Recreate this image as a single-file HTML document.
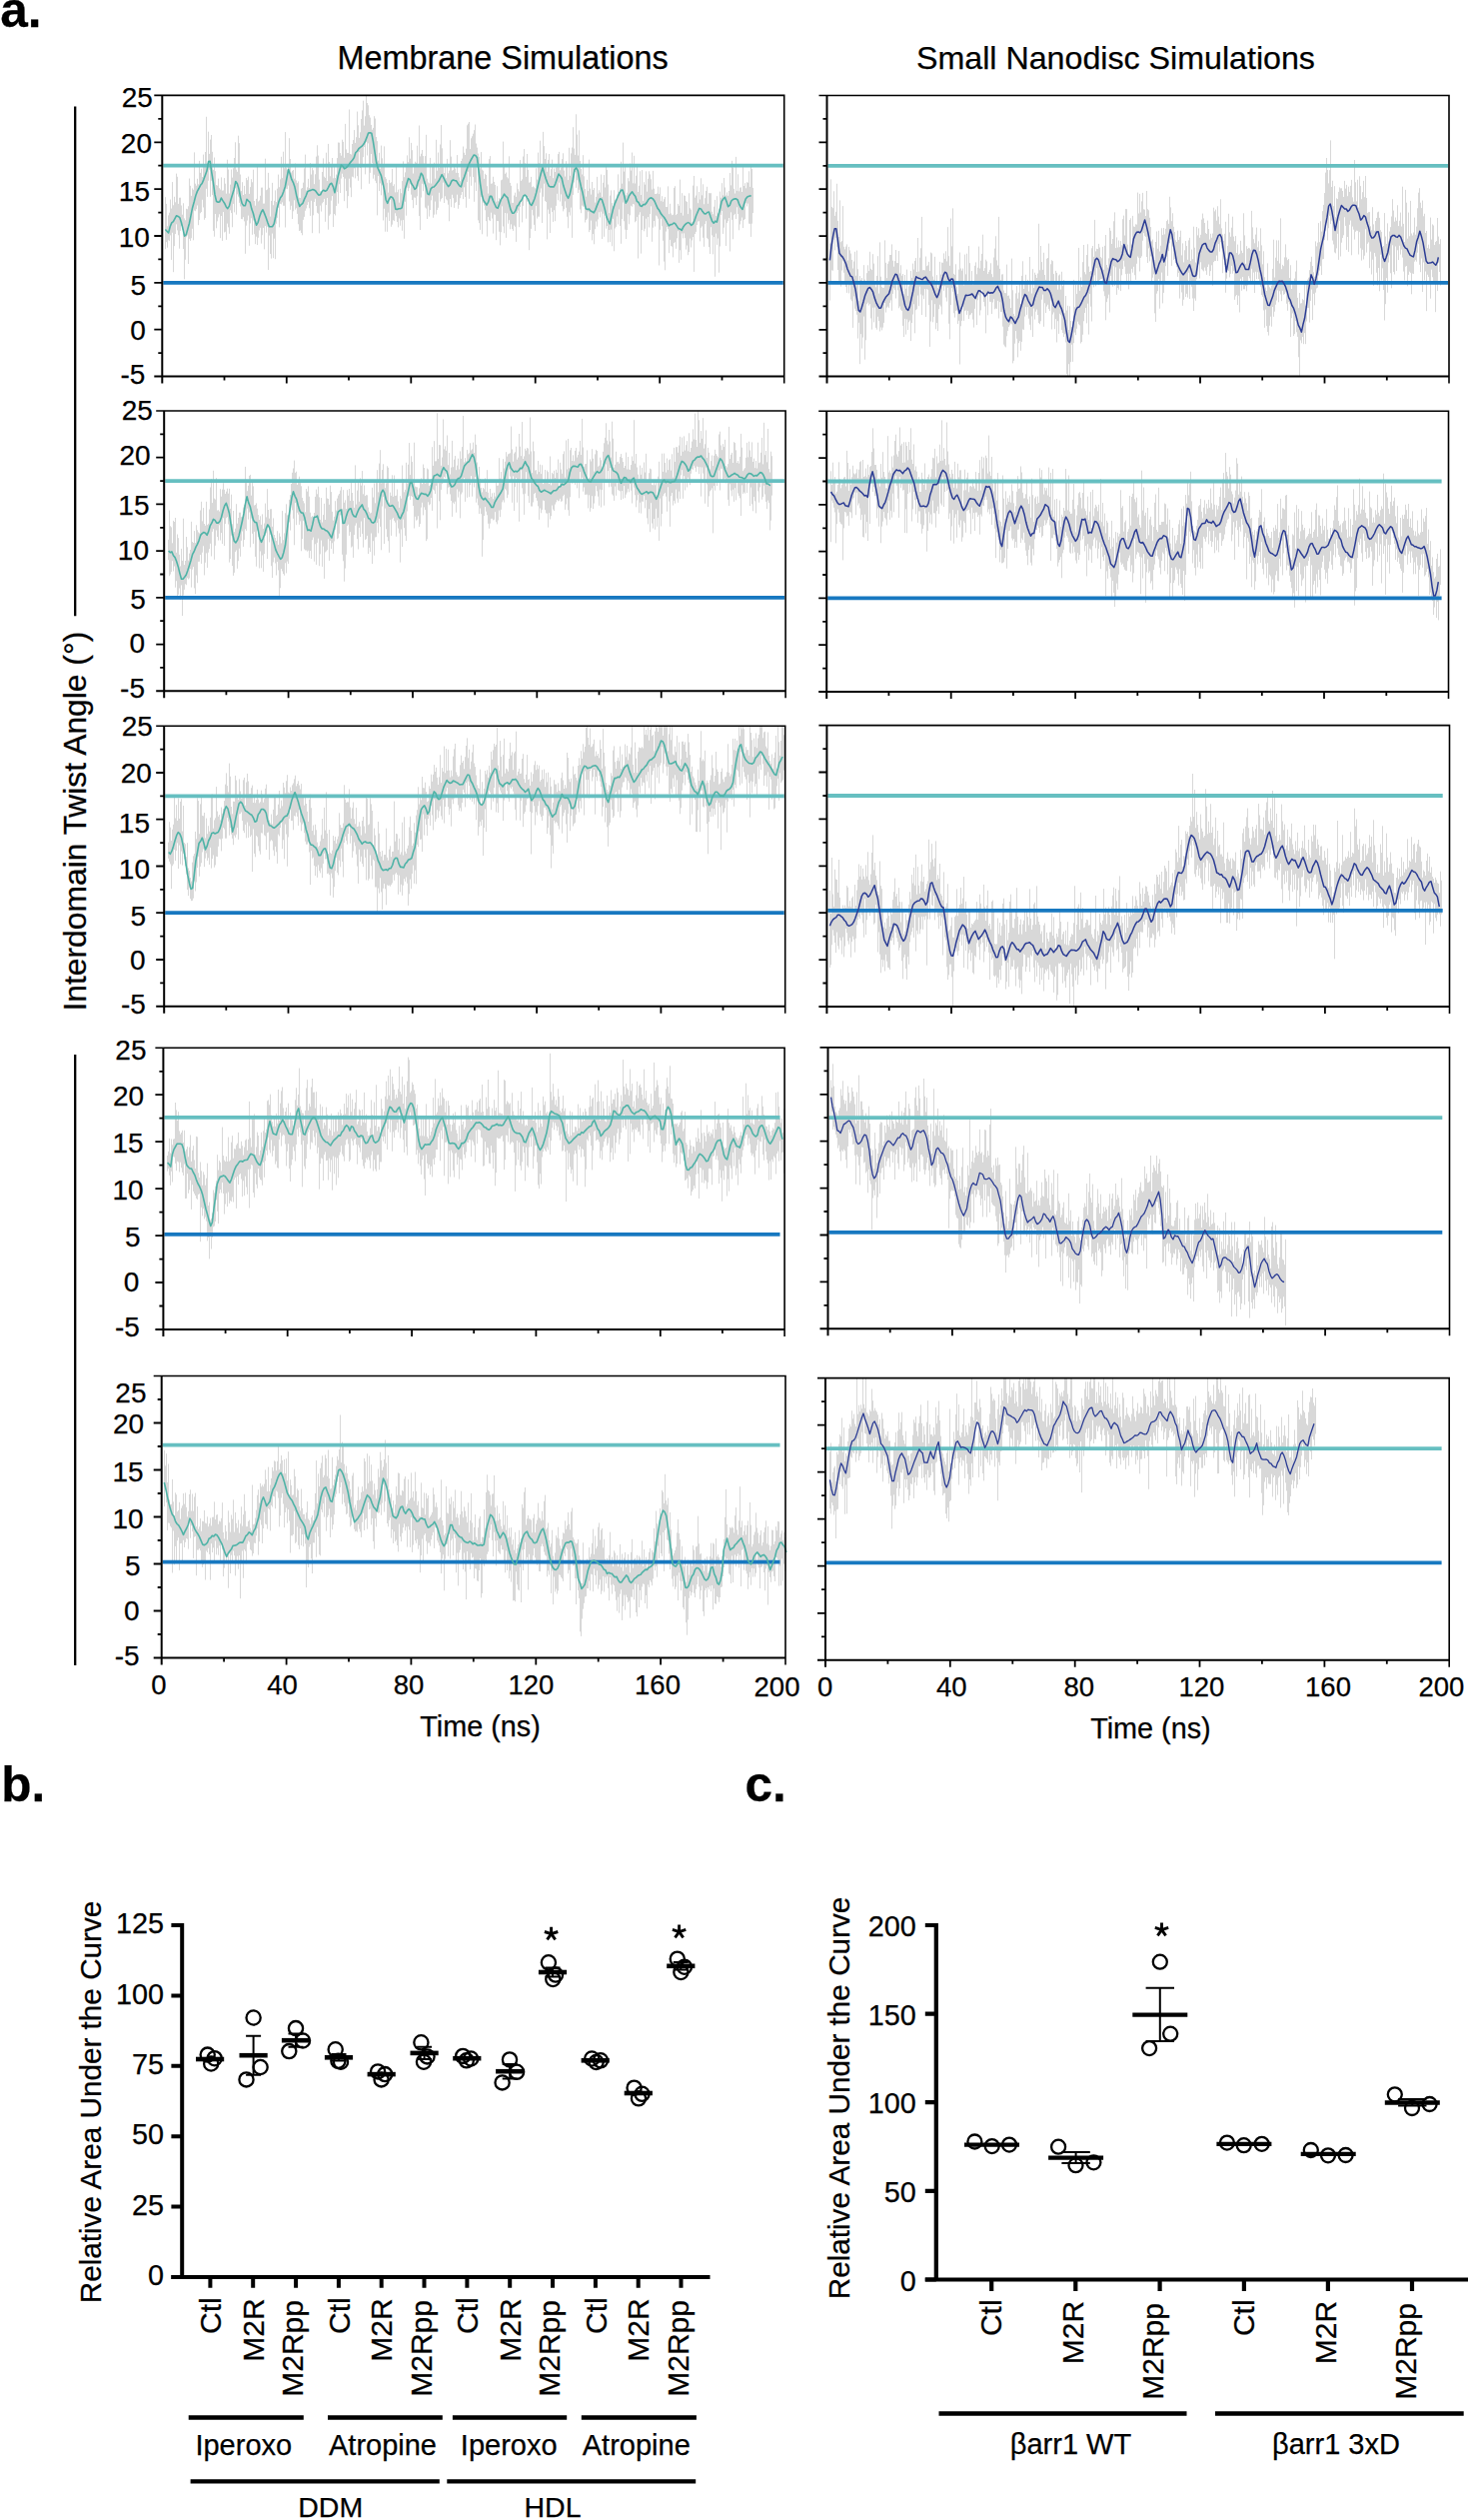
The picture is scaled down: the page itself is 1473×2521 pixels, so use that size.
<!DOCTYPE html>
<html><head><meta charset="utf-8"><style>
html,body{margin:0;padding:0;background:#fff;}
svg{display:block;}
text{font-family:"Liberation Sans",sans-serif;fill:#000;stroke:#000;stroke-width:0.25px;}
</style></head><body>
<svg xmlns="http://www.w3.org/2000/svg" width="1473" height="2521" viewBox="0 0 1473 2521">
<rect width="1473" height="2521" fill="#fff"/>
<text x="0.3" y="26.6" font-size="49.5" text-anchor="start" font-weight="bold" >a.</text>
<text x="337.5" y="69.0" font-size="32.4" text-anchor="start" >Membrane Simulations</text>
<text x="917.0" y="69.0" font-size="32.2" text-anchor="start" >Small Nanodisc Simulations</text>
<defs><clipPath id="cp0"><rect x="162.3" y="95.4" width="622.4" height="281.2"/></clipPath><clipPath id="cp1"><rect x="164.2" y="411.0" width="621.9" height="280.3"/></clipPath><clipPath id="cp2"><rect x="164.2" y="726.2" width="621.5" height="280.5"/></clipPath><clipPath id="cp3"><rect x="163.4" y="1048.3" width="621.7" height="281.7"/></clipPath><clipPath id="cp4"><rect x="161.7" y="1376.5" width="624.3" height="282.0"/></clipPath><clipPath id="cp5"><rect x="827.5" y="95.5" width="622.5" height="281.1"/></clipPath><clipPath id="cp6"><rect x="827.2" y="411.3" width="622.3" height="280.7"/></clipPath><clipPath id="cp7"><rect x="827.4" y="725.6" width="623.1" height="281.4"/></clipPath><clipPath id="cp8"><rect x="828.5" y="1047.9" width="622.0" height="281.4"/></clipPath><clipPath id="cp9"><rect x="826.0" y="1378.6" width="624.2" height="282.2"/></clipPath></defs>
<g clip-path="url(#cp0)"><path d="M165.5 197.2v52.0M166.5 203.9v38.3M167.5 226.3v21.4M168.5 215.4v24.9M169.5 212.7v28.2M170.5 199.5v35.9M171.5 208.6v51.3M172.5 182.1v50.7M173.5 205.3v66.9M174.5 196.8v49.4M175.5 202.3v31.8M176.5 173.6v50.8M177.5 176.8v53.6M178.5 203.9v31.4M179.5 197.8v50.9M180.5 197.7v33.2M181.5 205.5v20.4M182.5 214.7v15.1M183.5 203.3v45.8M184.5 218.4v60.9M185.5 220.3v39.5M186.5 208.8v28.5M187.5 209.3v26.2M188.5 206.3v57.7M189.5 178.5v60.4M190.5 185.8v55.1M191.5 195.9v42.4M192.5 188.4v40.4M193.5 189.8v50.5M194.5 152.4v58.2M195.5 183.7v27.5M196.5 185.7v23.6M197.5 178.8v26.7M198.5 184.3v40.9M199.5 160.9v59.2M200.5 172.9v40.4M201.5 168.7v43.4M202.5 177.0v22.8M203.5 154.6v52.9M204.5 167.0v52.8M205.5 152.0v66.1M206.5 116.8v72.0M207.5 163.4v33.5M208.5 131.7v49.1M209.5 153.9v15.8M210.5 139.6v57.2M211.5 135.0v45.8M212.5 151.8v43.3M213.5 169.9v61.0M214.5 157.5v79.2M215.5 171.2v42.8M216.5 185.1v43.2M217.5 185.6v35.8M218.5 178.6v38.9M219.5 188.2v26.1M220.5 189.6v48.6M221.5 177.4v38.6M222.5 190.6v50.3M223.5 190.4v21.7M224.5 178.1v54.4M225.5 183.7v48.1M226.5 193.7v46.2M227.5 159.7v63.9M228.5 169.5v57.9M229.5 193.5v40.3M230.5 184.7v25.7M231.5 169.5v43.6M232.5 177.6v49.7M233.5 168.3v35.6M234.5 158.0v54.4M235.5 142.3v46.1M236.5 169.6v45.1M237.5 171.8v22.6M238.5 135.7v61.0M239.5 143.2v59.7M240.5 174.5v32.0M241.5 191.1v28.0M242.5 182.2v37.1M243.5 195.0v22.2M244.5 185.9v35.5M245.5 194.1v59.7M246.5 178.0v47.7M247.5 180.2v40.4M248.5 176.6v39.0M249.5 193.9v51.9M250.5 187.1v36.4M251.5 179.2v39.1M252.5 182.3v52.5M253.5 169.7v50.8M254.5 201.0v33.2M255.5 205.7v38.5M256.5 198.9v37.8M257.5 165.2v79.9M258.5 201.5v36.3M259.5 200.5v30.0M260.5 195.8v32.0M261.5 187.7v55.9M262.5 187.6v47.7M263.5 203.6v24.3M264.5 203.6v45.8M265.5 158.7v67.4M266.5 190.2v42.5M267.5 189.5v37.2M268.5 172.9v97.1M269.5 187.8v47.8M270.5 216.6v37.4M271.5 200.9v57.7M272.5 182.9v50.7M273.5 205.3v52.9M274.5 200.8v37.9M275.5 190.4v68.8M276.5 202.0v21.8M277.5 188.7v29.2M278.5 174.6v33.3M279.5 187.2v40.2M280.5 179.4v24.5M281.5 156.8v47.6M282.5 178.1v24.3M283.5 151.7v54.1M284.5 168.3v37.5M285.5 132.1v95.4M286.5 167.5v21.3M287.5 169.6v19.6M288.5 164.0v21.6M289.5 138.2v63.3M290.5 159.0v50.8M291.5 172.5v33.3M292.5 170.9v48.1M293.5 170.0v41.4M294.5 178.7v21.6M295.5 163.5v46.2M296.5 180.4v27.9M297.5 183.1v30.8M298.5 181.4v42.9M299.5 197.7v33.3M300.5 198.0v32.5M301.5 188.7v44.3M302.5 188.0v47.3M303.5 182.7v37.2M304.5 168.4v48.5M305.5 154.6v56.2M306.5 190.4v18.1M307.5 187.3v17.7M308.5 178.9v23.3M309.5 188.0v20.3M310.5 163.1v52.8M311.5 174.5v26.3M312.5 168.0v65.2M313.5 170.3v45.1M314.5 184.2v17.8M315.5 174.3v24.5M316.5 156.6v49.4M317.5 145.3v67.6M318.5 155.6v58.1M319.5 179.6v53.8M320.5 191.4v14.2M321.5 193.3v18.3M322.5 172.0v31.4M323.5 158.4v43.7M324.5 176.7v22.2M325.5 177.9v43.9M326.5 152.7v52.4M327.5 181.0v17.0M328.5 143.9v85.8M329.5 161.9v53.9M330.5 176.3v38.1M331.5 166.2v34.5M332.5 158.0v38.1M333.5 178.3v48.8M334.5 166.1v47.9M335.5 178.0v37.5M336.5 174.5v31.5M337.5 158.1v34.0M338.5 142.5v61.2M339.5 142.7v41.6M340.5 153.1v39.9M341.5 155.7v22.9M342.5 139.7v34.0M343.5 141.8v35.2M344.5 157.8v43.4M345.5 123.9v54.8M346.5 149.4v41.7M347.5 152.9v55.4M348.5 152.9v43.3M349.5 109.5v69.2M350.5 154.0v33.6M351.5 154.5v42.7M352.5 144.0v32.7M353.5 140.1v37.3M354.5 130.1v38.3M355.5 142.9v35.5M356.5 137.2v28.2M357.5 111.6v64.6M358.5 125.3v55.5M359.5 137.9v14.3M360.5 132.3v35.7M361.5 119.0v70.3M362.5 110.4v55.5M363.5 100.7v56.5M364.5 125.6v21.3M365.5 116.3v58.1M366.5 89.5v52.7M367.5 103.0v52.5M368.5 105.3v38.1M369.5 115.2v68.6M370.5 117.6v55.3M371.5 124.9v29.1M372.5 129.7v33.4M373.5 127.9v50.8M374.5 116.2v58.6M375.5 118.5v62.3M376.5 137.0v46.2M377.5 141.2v74.2M378.5 160.6v15.4M379.5 152.8v38.3M380.5 168.7v14.7M381.5 145.6v49.7M382.5 158.3v26.9M383.5 166.2v54.3M384.5 146.4v62.4M385.5 177.1v54.6M386.5 178.8v38.5M387.5 182.8v49.0M388.5 192.6v20.0M389.5 180.1v40.9M390.5 183.1v16.9M391.5 182.3v44.5M392.5 168.9v55.8M393.5 186.1v34.2M394.5 184.3v36.8M395.5 192.4v20.9M396.5 165.8v50.4M397.5 192.2v29.8M398.5 189.6v37.8M399.5 202.7v15.8M400.5 188.8v37.0M401.5 193.2v27.3M402.5 181.1v49.7M403.5 161.4v58.7M404.5 177.2v61.6M405.5 172.4v29.4M406.5 165.3v50.4M407.5 155.4v32.3M408.5 162.2v28.9M409.5 137.3v51.0M410.5 158.7v25.5M411.5 142.9v51.8M412.5 150.2v49.9M413.5 173.5v34.7M414.5 166.5v31.1M415.5 161.7v36.1M416.5 162.8v42.3M417.5 145.7v50.7M418.5 166.7v19.9M419.5 125.5v90.6M420.5 156.4v73.6M421.5 153.7v43.9M422.5 150.0v33.8M423.5 156.1v35.1M424.5 163.5v20.4M425.5 156.1v51.5M426.5 134.8v73.8M427.5 178.7v40.3M428.5 182.4v23.3M429.5 183.3v33.3M430.5 157.9v52.2M431.5 183.5v16.9M432.5 167.0v28.7M433.5 164.9v52.9M434.5 162.7v52.0M435.5 178.7v22.9M436.5 139.8v74.7M437.5 170.7v39.3M438.5 152.5v55.3M439.5 167.8v25.0M440.5 144.5v57.1M441.5 125.1v74.2M442.5 148.3v49.7M443.5 167.2v15.5M444.5 173.1v29.9M445.5 166.2v30.1M446.5 178.2v21.2M447.5 158.9v41.5M448.5 173.3v31.4M449.5 170.6v50.7M450.5 140.2v58.8M451.5 156.6v50.6M452.5 170.6v24.2M453.5 169.9v28.3M454.5 164.4v43.5M455.5 168.5v34.4M456.5 172.9v29.2M457.5 155.1v39.6M458.5 173.0v35.8M459.5 177.3v27.7M460.5 181.1v17.2M461.5 161.0v34.0M462.5 158.6v33.4M463.5 146.5v52.6M464.5 152.7v34.6M465.5 155.0v42.0M466.5 148.7v59.1M467.5 125.3v56.7M468.5 123.7v48.1M469.5 122.0v76.8M470.5 149.1v27.6M471.5 138.3v47.5M472.5 136.3v31.0M473.5 133.7v43.4M474.5 130.2v71.6M475.5 124.5v58.0M476.5 143.5v47.6M477.5 147.6v15.3M478.5 153.5v66.9M479.5 156.8v66.4M480.5 168.3v61.6M481.5 152.1v45.1M482.5 169.6v64.7M483.5 170.7v32.1M484.5 178.9v26.8M485.5 173.8v36.5M486.5 175.0v46.2M487.5 186.2v50.4M488.5 193.6v23.5M489.5 159.2v61.1M490.5 156.1v65.0M491.5 183.8v28.9M492.5 183.4v35.2M493.5 176.8v56.8M494.5 181.9v32.6M495.5 184.9v30.0M496.5 201.7v38.5M497.5 186.2v34.8M498.5 201.2v20.0M499.5 198.1v33.7M500.5 199.8v45.6M501.5 180.3v52.0M502.5 179.6v26.8M503.5 141.6v84.9M504.5 164.5v68.8M505.5 173.9v39.1M506.5 172.5v65.4M507.5 177.2v36.2M508.5 178.4v45.3M509.5 156.3v63.9M510.5 182.9v46.4M511.5 185.8v38.6M512.5 202.8v26.3M513.5 202.9v28.0M514.5 195.5v30.1M515.5 192.7v34.1M516.5 196.9v45.0M517.5 183.4v29.6M518.5 189.2v21.4M519.5 191.5v35.7M520.5 160.1v47.0M521.5 180.9v21.0M522.5 179.4v43.0M523.5 156.5v49.4M524.5 149.1v46.2M525.5 163.3v31.3M526.5 176.9v41.8M527.5 154.0v47.5M528.5 169.8v27.4M529.5 182.7v67.5M530.5 182.2v56.0M531.5 176.9v52.0M532.5 187.2v22.7M533.5 186.4v29.1M534.5 187.3v37.6M535.5 188.4v42.6M536.5 168.3v37.6M537.5 179.5v39.1M538.5 152.6v64.1M539.5 163.2v53.5M540.5 140.7v52.0M541.5 165.7v22.7M542.5 165.4v57.6M543.5 131.9v64.9M544.5 146.1v37.6M545.5 159.0v42.0M546.5 153.3v48.7M547.5 171.8v67.6M548.5 159.9v49.7M549.5 154.0v59.9M550.5 175.9v57.1M551.5 169.2v38.6M552.5 159.6v52.4M553.5 178.2v43.7M554.5 168.5v41.8M555.5 172.0v49.2M556.5 167.4v38.5M557.5 166.1v27.7M558.5 154.1v46.2M559.5 151.9v30.8M560.5 170.3v31.3M561.5 167.6v26.8M562.5 159.1v47.1M563.5 153.3v58.1M564.5 170.5v38.8M565.5 176.5v24.9M566.5 161.2v46.6M567.5 165.6v51.2M568.5 180.1v48.2M569.5 147.8v64.5M570.5 175.8v39.8M571.5 153.4v54.2M572.5 147.5v90.4M573.5 127.2v67.7M574.5 148.5v34.1M575.5 154.9v17.1M576.5 114.3v73.6M577.5 134.6v45.7M578.5 155.5v37.6M579.5 130.4v59.4M580.5 160.9v48.6M581.5 169.0v44.2M582.5 174.5v31.1M583.5 155.2v51.5M584.5 176.3v30.4M585.5 189.0v33.5M586.5 196.7v23.3M587.5 179.8v38.9M588.5 191.1v20.7M589.5 159.6v72.6M590.5 188.6v41.4M591.5 194.6v26.0M592.5 182.0v58.4M593.5 190.0v44.1M594.5 188.1v56.2M595.5 202.6v26.7M596.5 196.9v24.6M597.5 176.9v49.7M598.5 193.6v25.9M599.5 190.2v22.1M600.5 192.6v24.9M601.5 174.5v37.2M602.5 196.9v42.1M603.5 182.8v30.9M604.5 175.1v61.7M605.5 187.5v28.2M606.5 166.2v62.5M607.5 169.8v56.3M608.5 184.5v57.9M609.5 213.1v17.0M610.5 195.6v46.6M611.5 190.4v39.2M612.5 203.1v43.2M613.5 205.9v13.0M614.5 190.3v61.0M615.5 199.7v28.8M616.5 201.9v25.0M617.5 194.5v21.9M618.5 174.4v50.1M619.5 192.1v17.4M620.5 188.3v37.7M621.5 161.7v82.1M622.5 183.7v35.4M623.5 142.6v59.9M624.5 171.6v49.7M625.5 164.5v65.2M626.5 195.4v43.7M627.5 192.7v37.3M628.5 178.2v36.0M629.5 181.3v43.0M630.5 163.6v51.8M631.5 170.6v35.2M632.5 152.5v54.2M633.5 183.3v20.7M634.5 155.8v48.7M635.5 183.5v38.8M636.5 175.7v45.5M637.5 166.0v51.1M638.5 192.0v66.5M639.5 185.8v29.0M640.5 171.3v41.0M641.5 195.0v58.6M642.5 170.1v60.0M643.5 200.9v15.2M644.5 182.2v49.1M645.5 184.7v44.1M646.5 171.4v47.3M647.5 191.7v45.4M648.5 178.8v38.2M649.5 171.3v56.2M650.5 174.4v39.7M651.5 179.3v27.1M652.5 189.5v52.3M653.5 170.9v56.8M654.5 188.7v32.3M655.5 194.0v32.6M656.5 194.0v21.6M657.5 193.5v23.0M658.5 186.7v32.0M659.5 194.1v71.4M660.5 187.4v42.4M661.5 201.2v17.5M662.5 196.2v30.1M663.5 201.8v39.0M664.5 199.2v62.4M665.5 197.1v73.2M666.5 207.0v24.6M667.5 207.1v20.0M668.5 186.4v42.8M669.5 214.2v39.0M670.5 203.8v36.1M671.5 213.5v32.5M672.5 215.2v31.5M673.5 214.7v42.7M674.5 187.9v55.1M675.5 186.2v56.1M676.5 215.1v33.7M677.5 213.9v24.5M678.5 203.9v27.3M679.5 205.8v57.1M680.5 179.6v70.7M681.5 212.9v46.9M682.5 193.2v40.3M683.5 215.6v22.8M684.5 195.5v37.9M685.5 195.9v42.3M686.5 201.2v48.4M687.5 202.0v43.5M688.5 214.1v41.1M689.5 193.3v58.7M690.5 208.3v30.3M691.5 209.6v37.9M692.5 222.3v18.2M693.5 185.6v51.5M694.5 176.0v95.9M695.5 197.7v36.4M696.5 195.5v36.4M697.5 186.3v38.8M698.5 203.2v18.4M699.5 192.0v29.3M700.5 199.5v41.9M701.5 178.3v49.5M702.5 195.4v31.0M703.5 184.3v53.5M704.5 204.3v42.5M705.5 198.2v25.9M706.5 190.9v30.3M707.5 186.8v51.4M708.5 203.8v35.5M709.5 193.1v54.1M710.5 193.3v60.7M711.5 193.2v34.0M712.5 211.7v23.8M713.5 214.3v40.1M714.5 206.7v30.4M715.5 199.9v76.9M716.5 215.9v17.7M717.5 196.2v48.7M718.5 213.5v25.0M719.5 208.4v64.3M720.5 191.6v54.9M721.5 197.8v17.2M722.5 183.2v27.8M723.5 195.4v38.5M724.5 178.0v49.7M725.5 187.5v32.0M726.5 195.5v50.5M727.5 192.4v30.7M728.5 195.8v25.4M729.5 191.0v27.0M730.5 173.0v78.5M731.5 185.4v27.0M732.5 160.8v59.1M733.5 167.5v71.8M734.5 188.8v26.5M735.5 193.5v20.4M736.5 156.9v62.2M737.5 190.9v16.4M738.5 174.3v39.8M739.5 191.3v39.0M740.5 187.7v36.8M741.5 187.4v33.5M742.5 192.0v25.5M743.5 167.2v60.9M744.5 186.0v34.0M745.5 183.2v35.9M746.5 188.3v14.9M747.5 182.3v24.2M748.5 182.7v20.9M749.5 171.3v52.4M750.5 186.9v37.0M751.5 165.4v71.5M752.5 169.1v54.6M753.5 187.9v25.2" fill="none" stroke="#d8d8d8" stroke-width="1"/></g>
<g clip-path="url(#cp1)"><path d="M168.5 539.9v20.3M169.5 510.5v65.7M170.5 526.3v48.3M171.5 527.4v44.7M172.5 543.3v17.9M173.5 520.9v50.6M174.5 522.0v44.5M175.5 518.0v69.7M176.5 552.8v28.4M177.5 534.5v62.7M178.5 538.2v56.6M179.5 554.8v33.7M180.5 566.4v33.4M181.5 548.9v36.5M182.5 560.9v55.2M183.5 518.7v76.9M184.5 565.1v24.8M185.5 561.0v23.3M186.5 537.0v48.2M187.5 547.3v30.9M188.5 560.6v18.9M189.5 553.6v24.9M190.5 550.0v19.2M191.5 521.8v65.8M192.5 542.0v27.7M193.5 543.0v24.1M194.5 531.1v57.3M195.5 543.1v51.2M196.5 525.3v50.2M197.5 530.3v52.9M198.5 532.4v29.5M199.5 533.4v28.4M200.5 510.5v44.5M201.5 501.8v62.1M202.5 521.4v31.3M203.5 508.1v38.2M204.5 524.0v51.4M205.5 525.8v37.0M206.5 501.8v51.6M207.5 525.1v42.8M208.5 523.8v28.9M209.5 509.5v39.7M210.5 487.5v56.3M211.5 479.3v77.2M212.5 503.1v28.8M213.5 470.8v58.4M214.5 498.6v61.2M215.5 499.6v46.2M216.5 478.1v52.4M217.5 510.6v26.4M218.5 510.2v30.4M219.5 511.6v13.7M220.5 489.2v51.3M221.5 496.7v36.3M222.5 489.6v54.5M223.5 483.2v35.1M224.5 489.8v56.3M225.5 494.0v30.1M226.5 491.7v26.6M227.5 488.7v28.5M228.5 493.7v30.8M229.5 488.8v73.8M230.5 508.9v50.2M231.5 494.7v41.0M232.5 524.3v41.8M233.5 511.0v64.9M234.5 532.2v40.7M235.5 528.7v23.5M236.5 504.2v46.3M237.5 523.7v45.1M238.5 518.0v43.3M239.5 512.7v36.0M240.5 512.7v44.1M241.5 517.2v23.7M242.5 517.2v14.3M243.5 507.5v39.4M244.5 504.8v35.3M245.5 466.9v62.4M246.5 479.7v51.2M247.5 491.2v17.5M248.5 485.8v33.8M249.5 475.9v36.6M250.5 474.9v72.6M251.5 495.7v22.9M252.5 480.8v53.1M253.5 486.4v57.5M254.5 505.5v26.4M255.5 505.0v51.9M256.5 503.4v63.3M257.5 508.7v21.9M258.5 515.1v22.3M259.5 520.1v48.4M260.5 516.3v35.2M261.5 524.9v43.4M262.5 514.4v41.1M263.5 528.9v43.0M264.5 523.5v30.7M265.5 503.6v32.5M266.5 517.4v16.0M267.5 489.2v69.8M268.5 510.0v17.6M269.5 518.7v23.8M270.5 509.3v25.6M271.5 509.2v57.0M272.5 526.8v51.3M273.5 518.4v44.1M274.5 535.0v22.7M275.5 538.1v25.4M276.5 541.1v34.4M277.5 531.2v30.9M278.5 544.9v25.5M279.5 533.4v65.4M280.5 536.7v51.6M281.5 543.4v25.6M282.5 511.1v60.4M283.5 540.2v33.9M284.5 533.4v42.3M285.5 513.3v50.0M286.5 504.3v69.1M287.5 515.4v46.2M288.5 515.2v48.8M289.5 499.9v22.6M290.5 495.1v35.5M291.5 484.0v20.9M292.5 472.8v37.6M293.5 468.5v50.3M294.5 460.6v84.7M295.5 472.9v30.2M296.5 471.7v53.5M297.5 484.9v27.9M298.5 480.4v34.3M299.5 476.7v48.2M300.5 481.0v40.4M301.5 486.3v65.0M302.5 497.9v41.3M303.5 501.2v19.7M304.5 503.4v46.0M305.5 512.3v38.2M306.5 489.1v61.4M307.5 491.7v60.0M308.5 486.4v64.3M309.5 496.7v61.5M310.5 512.7v38.4M311.5 517.2v41.8M312.5 516.1v24.2M313.5 517.3v20.3M314.5 513.0v48.7M315.5 496.9v47.4M316.5 489.6v75.3M317.5 494.3v48.6M318.5 486.7v52.0M319.5 497.4v68.8M320.5 519.9v34.5M321.5 498.1v42.5M322.5 522.5v44.4M323.5 515.1v31.5M324.5 503.8v75.1M325.5 520.0v32.5M326.5 487.7v63.8M327.5 498.5v51.8M328.5 499.0v40.3M329.5 504.8v56.1M330.5 485.7v55.2M331.5 492.1v57.0M332.5 511.8v31.5M333.5 520.7v33.2M334.5 516.8v24.7M335.5 501.2v28.9M336.5 510.6v12.7M337.5 498.6v40.7M338.5 495.6v42.8M339.5 494.1v39.7M340.5 490.6v24.8M341.5 487.1v28.0M342.5 508.9v45.9M343.5 490.2v71.1M344.5 502.8v78.9M345.5 500.3v68.3M346.5 509.0v45.8M347.5 490.2v35.8M348.5 495.8v28.9M349.5 489.0v46.9M350.5 501.0v31.2M351.5 481.4v66.2M352.5 493.0v53.6M353.5 500.9v57.0M354.5 507.9v27.2M355.5 465.4v60.4M356.5 504.6v18.8M357.5 490.6v48.6M358.5 481.7v67.8M359.5 501.8v26.1M360.5 478.3v58.8M361.5 485.7v35.8M362.5 471.1v63.0M363.5 494.3v53.3M364.5 485.5v32.6M365.5 496.1v43.9M366.5 495.2v44.1M367.5 495.3v40.6M368.5 507.5v46.6M369.5 511.8v36.1M370.5 513.5v38.6M371.5 512.8v20.7M372.5 487.8v76.2M373.5 497.5v43.7M374.5 483.4v72.3M375.5 503.3v34.2M376.5 482.7v54.5M377.5 470.2v52.9M378.5 492.4v41.0M379.5 463.6v55.2M380.5 450.2v76.7M381.5 483.3v67.0M382.5 470.1v36.5M383.5 464.3v32.7M384.5 482.6v61.5M385.5 488.2v20.4M386.5 483.3v46.0M387.5 466.3v70.9M388.5 467.8v73.5M389.5 502.7v50.1M390.5 492.6v27.3M391.5 495.9v40.0M392.5 475.3v44.1M393.5 496.8v21.1M394.5 475.5v45.4M395.5 496.0v26.7M396.5 495.7v41.1M397.5 489.5v30.9M398.5 501.5v27.1M399.5 507.8v25.7M400.5 496.2v66.4M401.5 498.7v30.8M402.5 465.5v81.5M403.5 479.4v40.2M404.5 492.3v35.9M405.5 489.9v46.0M406.5 462.8v78.2M407.5 483.5v28.0M408.5 464.7v32.3M409.5 443.1v52.7M410.5 475.1v25.0M411.5 456.3v39.9M412.5 461.9v35.2M413.5 479.5v26.5M414.5 442.7v85.8M415.5 486.6v30.2M416.5 487.2v33.5M417.5 487.4v32.4M418.5 494.8v21.5M419.5 488.4v38.6M420.5 480.0v44.2M421.5 478.4v29.3M422.5 484.2v18.6M423.5 464.5v50.9M424.5 468.0v39.4M425.5 483.5v26.5M426.5 482.8v58.4M427.5 468.6v70.8M428.5 469.5v32.8M429.5 486.0v19.3M430.5 484.9v19.5M431.5 479.2v18.9M432.5 447.2v63.7M433.5 465.9v23.8M434.5 441.2v49.4M435.5 461.4v32.6M436.5 461.3v24.5M437.5 413.3v115.2M438.5 459.1v24.3M439.5 445.0v56.4M440.5 445.3v75.0M441.5 465.8v24.1M442.5 457.5v26.5M443.5 419.5v60.0M444.5 449.4v27.6M445.5 446.4v31.9M446.5 450.8v23.0M447.5 435.5v58.8M448.5 465.2v22.6M449.5 453.1v34.1M450.5 474.5v20.0M451.5 467.6v33.4M452.5 440.9v76.0M453.5 467.2v35.5M454.5 459.7v44.5M455.5 456.1v45.6M456.5 470.2v42.5M457.5 465.6v23.8M458.5 458.7v38.9M459.5 469.5v22.2M460.5 451.4v67.0M461.5 458.9v35.6M462.5 447.1v45.5M463.5 416.0v66.6M464.5 462.4v15.7M465.5 458.2v43.7M466.5 461.5v19.8M467.5 450.1v47.7M468.5 454.3v27.7M469.5 453.2v44.0M470.5 443.3v41.9M471.5 450.4v25.8M472.5 449.3v47.4M473.5 442.6v39.3M474.5 453.0v34.5M475.5 434.6v42.6M476.5 444.8v57.9M477.5 462.5v36.1M478.5 478.6v26.8M479.5 466.9v47.1M480.5 478.9v29.6M481.5 487.9v26.3M482.5 492.4v64.4M483.5 488.0v52.1M484.5 489.3v26.8M485.5 478.4v28.7M486.5 491.9v19.8M487.5 470.2v45.1M488.5 492.7v31.1M489.5 498.1v30.6M490.5 489.0v34.7M491.5 496.9v22.0M492.5 493.3v25.5M493.5 499.2v21.2M494.5 492.8v27.0M495.5 496.6v15.6M496.5 482.8v39.5M497.5 485.8v38.6M498.5 485.6v34.9M499.5 458.2v52.4M500.5 478.5v38.7M501.5 472.1v37.7M502.5 483.2v19.2M503.5 459.2v41.2M504.5 468.5v34.1M505.5 461.7v27.5M506.5 452.2v38.3M507.5 456.6v41.6M508.5 454.3v40.5M509.5 453.8v15.8M510.5 453.3v23.3M511.5 426.6v53.5M512.5 449.4v53.4M513.5 461.7v14.7M514.5 453.6v57.5M515.5 452.3v34.9M516.5 446.7v31.4M517.5 459.7v43.0M518.5 457.6v25.1M519.5 434.0v87.7M520.5 446.7v32.1M521.5 456.2v14.2M522.5 422.1v66.3M523.5 459.0v35.4M524.5 456.4v58.5M525.5 448.8v45.0M526.5 450.7v21.5M527.5 448.1v32.1M528.5 448.6v47.6M529.5 454.4v48.6M530.5 417.5v63.5M531.5 451.5v55.0M532.5 473.1v33.5M533.5 441.7v60.8M534.5 451.3v42.8M535.5 470.6v22.5M536.5 470.2v28.0M537.5 474.4v26.5M538.5 461.0v45.4M539.5 472.1v47.8M540.5 464.7v43.8M541.5 474.1v39.2M542.5 465.3v44.6M543.5 484.2v16.4M544.5 480.3v20.7M545.5 470.0v40.2M546.5 482.2v31.2M547.5 470.6v43.1M548.5 472.2v55.4M549.5 484.1v29.1M550.5 456.5v63.0M551.5 485.4v30.9M552.5 472.9v32.7M553.5 474.2v35.5M554.5 470.8v40.2M555.5 478.0v26.6M556.5 469.8v32.6M557.5 472.9v27.2M558.5 459.5v41.8M559.5 486.0v14.8M560.5 462.8v36.1M561.5 469.5v32.3M562.5 473.8v27.5M563.5 454.2v42.1M564.5 451.4v43.4M565.5 477.6v32.3M566.5 440.5v64.0M567.5 469.5v29.0M568.5 439.0v71.3M569.5 468.3v47.6M570.5 450.3v47.0M571.5 448.0v32.3M572.5 461.0v22.7M573.5 455.3v24.8M574.5 461.3v20.6M575.5 450.9v34.0M576.5 448.1v31.5M577.5 457.6v30.8M578.5 455.1v24.7M579.5 451.6v46.7M580.5 440.9v31.1M581.5 455.0v24.7M582.5 418.9v58.9M583.5 447.5v44.2M584.5 466.8v20.7M585.5 464.2v30.7M586.5 464.0v30.7M587.5 450.4v44.3M588.5 479.5v28.9M589.5 477.8v17.5M590.5 459.4v52.4M591.5 461.5v46.7M592.5 449.2v47.0M593.5 458.7v50.4M594.5 471.6v32.0M595.5 454.4v41.9M596.5 449.9v36.3M597.5 451.0v40.4M598.5 466.7v30.0M599.5 465.7v40.1M600.5 457.7v31.9M601.5 460.3v47.2M602.5 468.9v21.1M603.5 451.8v28.3M604.5 443.3v62.4M605.5 437.8v43.6M606.5 423.3v41.2M607.5 440.7v39.1M608.5 444.5v26.6M609.5 430.0v57.3M610.5 441.5v26.6M611.5 457.6v29.2M612.5 421.7v72.8M613.5 438.7v57.0M614.5 467.7v33.2M615.5 464.7v21.9M616.5 451.8v44.0M617.5 462.3v18.7M618.5 461.8v28.4M619.5 463.7v27.1M620.5 457.1v34.3M621.5 454.1v46.0M622.5 458.1v33.0M623.5 462.1v36.8M624.5 468.0v18.0M625.5 466.0v32.2M626.5 452.6v42.1M627.5 469.5v23.1M628.5 457.0v31.9M629.5 469.5v22.8M630.5 470.0v13.9M631.5 465.1v25.6M632.5 456.5v47.0M633.5 461.1v22.6M634.5 420.2v67.5M635.5 463.7v31.6M636.5 454.0v53.3M637.5 467.5v33.0M638.5 474.6v20.2M639.5 479.1v34.1M640.5 465.6v37.1M641.5 474.8v38.8M642.5 467.9v33.7M643.5 478.9v23.0M644.5 462.5v33.3M645.5 472.6v35.8M646.5 453.8v46.4M647.5 480.1v38.3M648.5 481.3v43.1M649.5 473.2v36.0M650.5 468.7v63.5M651.5 469.4v33.8M652.5 485.0v38.6M653.5 485.3v43.3M654.5 482.5v36.5M655.5 485.3v44.4M656.5 482.0v26.8M657.5 495.1v31.7M658.5 476.7v41.2M659.5 461.8v79.1M660.5 482.6v16.0M661.5 480.9v45.6M662.5 453.7v60.3M663.5 471.9v24.4M664.5 453.6v40.7M665.5 462.9v30.1M666.5 472.6v24.1M667.5 458.5v53.2M668.5 470.2v17.1M669.5 460.2v41.5M670.5 459.3v67.5M671.5 470.7v25.5M672.5 454.3v38.8M673.5 477.6v28.0M674.5 447.9v53.0M675.5 461.9v41.8M676.5 447.3v42.3M677.5 447.2v51.5M678.5 452.8v50.0M679.5 445.6v46.0M680.5 436.8v62.2M681.5 455.9v19.5M682.5 437.6v32.6M683.5 451.8v47.0M684.5 436.4v39.8M685.5 450.6v39.9M686.5 445.2v34.5M687.5 441.2v46.3M688.5 451.3v26.4M689.5 433.3v48.7M690.5 452.1v33.1M691.5 448.0v25.8M692.5 441.6v27.6M693.5 429.4v40.4M694.5 439.6v26.2M695.5 413.6v54.3M696.5 440.1v31.8M697.5 447.0v19.6M698.5 408.8v58.2M699.5 420.3v53.9M700.5 443.1v24.2M701.5 431.1v65.5M702.5 438.8v28.7M703.5 418.2v55.4M704.5 448.6v31.2M705.5 444.3v59.4M706.5 430.4v37.2M707.5 458.0v26.5M708.5 447.9v59.2M709.5 452.8v43.6M710.5 469.4v22.0M711.5 461.2v29.1M712.5 455.5v32.9M713.5 466.1v67.3M714.5 455.8v30.3M715.5 449.8v40.9M716.5 454.1v27.3M717.5 455.7v30.3M718.5 457.4v24.4M719.5 434.5v36.1M720.5 431.7v58.8M721.5 445.5v23.3M722.5 450.2v18.7M723.5 444.2v37.2M724.5 447.1v32.6M725.5 439.8v38.8M726.5 466.0v17.5M727.5 467.5v14.8M728.5 464.2v35.7M729.5 426.9v79.1M730.5 459.1v25.2M731.5 454.8v35.8M732.5 452.9v43.5M733.5 463.0v26.7M734.5 442.2v59.7M735.5 443.1v45.1M736.5 450.4v50.0M737.5 463.0v18.4M738.5 461.1v32.4M739.5 463.6v32.4M740.5 456.9v41.5M741.5 433.9v82.1M742.5 447.7v37.7M743.5 471.2v22.9M744.5 469.5v23.0M745.5 468.2v25.5M746.5 457.8v22.5M747.5 442.9v50.2M748.5 457.4v26.3M749.5 441.7v37.8M750.5 450.5v55.6M751.5 457.1v30.5M752.5 442.4v62.0M753.5 462.0v49.3M754.5 458.6v38.5M755.5 468.2v33.2M756.5 461.0v52.4M757.5 468.5v13.8M758.5 442.7v48.7M759.5 463.2v39.5M760.5 462.5v25.0M761.5 452.8v29.0M762.5 437.9v61.8M763.5 464.4v32.6M764.5 422.8v62.9M765.5 455.2v39.3M766.5 451.0v50.9M767.5 462.4v46.8M768.5 429.0v71.6M769.5 469.2v34.0M770.5 472.5v57.9M771.5 451.7v69.0M772.5 456.2v39.5" fill="none" stroke="#d8d8d8" stroke-width="1"/></g>
<g clip-path="url(#cp2)"><path d="M168.5 842.6v16.2M169.5 822.2v39.7M170.5 827.7v36.7M171.5 841.0v48.2M172.5 829.7v36.6M173.5 824.8v39.7M174.5 796.1v53.9M175.5 818.5v42.6M176.5 805.2v45.8M177.5 821.0v22.4M178.5 798.5v70.5M179.5 818.9v26.7M180.5 801.9v62.6M181.5 799.2v52.4M182.5 831.5v34.1M183.5 806.0v47.9M184.5 843.0v16.5M185.5 844.3v22.0M186.5 857.2v17.6M187.5 843.2v46.8M188.5 868.4v27.7M189.5 871.1v17.4M190.5 878.0v21.2M191.5 881.6v19.6M192.5 862.6v38.3M193.5 856.3v42.4M194.5 854.0v27.6M195.5 831.9v59.6M196.5 839.3v43.2M197.5 798.4v69.8M198.5 801.1v55.7M199.5 834.2v42.5M200.5 804.4v62.5M201.5 796.9v66.4M202.5 815.9v36.6M203.5 816.3v33.1M204.5 813.0v54.2M205.5 838.4v20.3M206.5 818.6v34.9M207.5 834.2v26.7M208.5 826.2v32.1M209.5 831.7v33.3M210.5 817.8v30.1M211.5 794.8v73.8M212.5 794.6v64.6M213.5 828.7v26.8M214.5 820.4v47.3M215.5 818.3v47.2M216.5 787.1v69.7M217.5 811.6v45.5M218.5 816.8v30.0M219.5 815.0v24.2M220.5 820.4v19.1M221.5 807.6v43.8M222.5 813.7v25.2M223.5 809.0v19.0M224.5 801.1v28.4M225.5 784.6v54.1M226.5 773.4v65.3M227.5 786.1v32.0M228.5 792.4v29.4M229.5 763.6v72.1M230.5 776.7v51.3M231.5 807.0v27.7M232.5 814.3v24.5M233.5 801.7v43.5M234.5 801.9v33.9M235.5 775.9v61.9M236.5 780.5v54.3M237.5 796.7v31.3M238.5 800.0v39.8M239.5 779.4v35.1M240.5 791.5v22.6M241.5 798.8v13.7M242.5 798.4v22.7M243.5 780.3v50.7M244.5 777.9v55.3M245.5 805.7v19.2M246.5 782.5v55.9M247.5 773.9v48.7M248.5 781.5v56.6M249.5 794.3v32.1M250.5 793.9v43.2M251.5 788.2v47.3M252.5 785.6v86.5M253.5 803.0v26.5M254.5 797.7v56.2M255.5 803.2v54.1M256.5 800.1v36.0M257.5 789.8v47.5M258.5 799.5v46.9M259.5 803.4v48.0M260.5 802.2v52.5M261.5 790.6v42.7M262.5 794.6v39.0M263.5 802.7v22.1M264.5 799.2v36.3M265.5 788.8v47.6M266.5 784.7v65.4M267.5 796.3v36.9M268.5 797.6v35.0M269.5 820.4v39.6M270.5 823.4v18.2M271.5 814.5v25.7M272.5 824.4v16.9M273.5 809.9v40.7M274.5 796.2v60.0M275.5 795.5v51.4M276.5 816.0v36.3M277.5 814.9v49.0M278.5 804.7v30.0M279.5 791.0v45.4M280.5 808.6v19.5M281.5 800.6v22.6M282.5 806.4v42.8M283.5 783.0v57.3M284.5 787.7v71.6M285.5 793.4v31.2M286.5 781.3v53.3M287.5 775.2v91.5M288.5 792.5v45.0M289.5 793.3v25.9M290.5 787.5v22.0M291.5 791.0v30.0M292.5 785.4v35.6M293.5 783.5v46.8M294.5 779.4v36.8M295.5 775.7v41.0M296.5 786.4v26.4M297.5 784.0v32.9M298.5 781.3v44.6M299.5 785.5v24.7M300.5 789.5v33.1M301.5 784.1v47.2M302.5 797.4v27.3M303.5 797.6v25.8M304.5 805.7v27.5M305.5 795.5v46.2M306.5 804.0v40.7M307.5 811.8v32.9M308.5 821.9v20.5M309.5 799.7v52.8M310.5 794.8v90.3M311.5 808.2v42.8M312.5 831.1v27.6M313.5 825.5v32.2M314.5 835.3v30.7M315.5 824.8v51.2M316.5 830.3v36.6M317.5 842.6v35.2M318.5 847.3v18.1M319.5 846.1v25.1M320.5 841.5v31.9M321.5 835.3v33.2M322.5 819.1v59.1M323.5 839.0v25.0M324.5 807.9v45.9M325.5 830.6v28.9M326.5 792.4v66.8M327.5 833.8v40.4M328.5 854.2v19.4M329.5 830.1v45.1M330.5 852.9v42.9M331.5 854.0v19.7M332.5 850.6v28.0M333.5 836.1v61.8M334.5 841.1v46.2M335.5 837.1v34.2M336.5 843.8v14.2M337.5 839.5v33.5M338.5 836.6v38.8M339.5 813.3v47.4M340.5 825.2v42.1M341.5 827.9v20.9M342.5 828.1v33.9M343.5 823.5v54.0M344.5 785.3v57.9M345.5 799.6v37.2M346.5 802.9v38.1M347.5 802.3v42.4M348.5 802.4v31.8M349.5 789.4v37.8M350.5 807.5v36.2M351.5 818.8v17.4M352.5 808.4v49.5M353.5 802.5v49.1M354.5 819.3v23.3M355.5 824.3v22.1M356.5 808.1v46.6M357.5 827.0v39.6M358.5 826.6v57.3M359.5 822.3v27.5M360.5 826.7v35.2M361.5 835.5v21.3M362.5 821.0v43.1M363.5 817.1v50.1M364.5 826.5v23.3M365.5 833.6v24.3M366.5 796.6v83.8M367.5 798.8v50.8M368.5 825.3v55.4M369.5 824.4v54.5M370.5 798.4v57.1M371.5 804.4v61.8M372.5 811.0v68.5M373.5 845.0v14.9M374.5 828.6v32.7M375.5 835.5v52.0M376.5 850.5v37.0M377.5 856.2v58.6M378.5 821.9v66.7M379.5 833.7v59.9M380.5 852.0v26.3M381.5 856.7v35.7M382.5 851.1v58.8M383.5 860.7v28.1M384.5 855.1v28.9M385.5 855.0v34.3M386.5 828.7v76.6M387.5 857.8v27.6M388.5 860.6v25.5M389.5 849.6v36.0M390.5 846.3v40.4M391.5 857.2v28.0M392.5 851.9v31.6M393.5 851.8v23.4M394.5 801.6v79.2M395.5 841.7v32.8M396.5 833.9v39.3M397.5 834.4v40.7M398.5 850.2v44.6M399.5 838.8v36.9M400.5 854.7v37.7M401.5 852.4v32.4M402.5 822.7v73.2M403.5 855.5v30.3M404.5 817.3v61.9M405.5 851.7v30.2M406.5 853.8v23.7M407.5 848.8v34.9M408.5 845.8v60.1M409.5 827.5v66.9M410.5 816.7v62.9M411.5 831.0v58.2M412.5 846.1v27.9M413.5 843.6v22.0M414.5 823.3v60.5M415.5 832.8v37.8M416.5 815.6v68.8M417.5 810.2v34.8M418.5 787.3v59.9M419.5 804.5v27.0M420.5 795.0v44.9M421.5 800.3v39.3M422.5 777.0v75.1M423.5 788.1v26.5M424.5 788.4v47.2M425.5 782.7v36.6M426.5 792.0v33.0M427.5 802.1v33.9M428.5 801.3v17.9M429.5 786.4v29.3M430.5 789.0v36.9M431.5 774.7v31.2M432.5 781.8v33.7M433.5 774.8v55.6M434.5 765.1v34.5M435.5 772.0v50.1M436.5 767.8v51.7M437.5 777.8v32.5M438.5 785.0v33.2M439.5 777.3v34.2M440.5 755.2v51.3M441.5 783.1v33.3M442.5 768.1v51.7M443.5 771.8v28.1M444.5 746.5v77.1M445.5 773.3v33.8M446.5 749.1v42.6M447.5 770.9v17.2M448.5 749.8v57.4M449.5 770.6v44.6M450.5 777.5v31.5M451.5 770.6v56.1M452.5 776.5v23.3M453.5 756.7v47.6M454.5 749.4v49.2M455.5 743.9v51.4M456.5 772.4v17.0M457.5 775.3v21.2M458.5 777.1v28.3M459.5 776.4v34.7M460.5 765.3v43.0M461.5 755.7v55.9M462.5 763.0v40.0M463.5 761.1v28.8M464.5 769.3v23.6M465.5 757.2v50.2M466.5 746.0v37.2M467.5 738.4v60.4M468.5 758.3v23.3M469.5 749.7v36.4M470.5 769.4v30.6M471.5 761.7v34.1M472.5 752.6v49.5M473.5 744.8v53.7M474.5 763.5v41.1M475.5 767.1v27.8M476.5 775.5v44.7M477.5 785.3v16.2M478.5 788.2v47.6M479.5 788.9v38.4M480.5 769.6v52.3M481.5 805.2v20.8M482.5 782.2v37.9M483.5 801.7v54.3M484.5 788.8v39.3M485.5 771.0v38.4M486.5 774.5v57.6M487.5 770.3v26.5M488.5 777.8v17.9M489.5 765.9v24.9M490.5 772.8v20.0M491.5 751.9v58.3M492.5 759.8v34.7M493.5 750.4v51.4M494.5 743.9v44.2M495.5 746.9v27.3M496.5 744.9v67.6M497.5 727.7v75.8M498.5 765.6v47.4M499.5 770.7v16.8M500.5 741.1v49.6M501.5 756.9v36.2M502.5 776.7v19.3M503.5 755.2v65.9M504.5 738.8v61.9M505.5 773.6v23.7M506.5 768.8v15.3M507.5 769.5v21.7M508.5 771.7v26.7M509.5 759.0v43.0M510.5 742.9v44.7M511.5 755.7v33.3M512.5 752.4v34.8M513.5 770.2v21.5M514.5 753.4v41.2M515.5 751.7v58.2M516.5 731.7v88.9M517.5 775.6v19.7M518.5 771.9v26.0M519.5 769.0v29.1M520.5 774.0v46.7M521.5 773.6v27.4M522.5 759.0v37.2M523.5 754.2v73.0M524.5 779.3v34.9M525.5 783.0v29.3M526.5 774.9v30.7M527.5 755.1v44.3M528.5 780.0v18.8M529.5 779.3v16.8M530.5 785.9v26.2M531.5 772.5v82.0M532.5 781.8v31.5M533.5 774.2v27.9M534.5 765.3v41.0M535.5 761.3v64.2M536.5 770.2v42.2M537.5 765.1v50.5M538.5 769.3v37.1M539.5 765.7v35.7M540.5 781.7v32.9M541.5 780.0v37.0M542.5 770.2v50.9M543.5 779.3v36.7M544.5 769.6v38.3M545.5 787.2v20.6M546.5 773.2v37.0M547.5 782.4v51.7M548.5 772.7v55.5M549.5 794.4v22.0M550.5 777.6v57.9M551.5 786.7v81.8M552.5 809.6v36.4M553.5 802.8v51.1M554.5 780.2v40.7M555.5 784.5v39.1M556.5 784.6v37.6M557.5 792.3v31.0M558.5 783.4v42.8M559.5 790.8v38.8M560.5 791.4v15.7M561.5 778.3v26.9M562.5 772.8v60.9M563.5 780.5v35.9M564.5 789.0v24.0M565.5 785.2v25.0M566.5 788.4v36.1M567.5 752.9v90.0M568.5 758.0v56.1M569.5 779.4v25.0M570.5 782.2v49.0M571.5 778.7v37.6M572.5 795.2v14.2M573.5 766.6v59.9M574.5 774.8v49.4M575.5 774.0v49.0M576.5 777.9v37.0M577.5 780.6v18.1M578.5 766.0v42.7M579.5 758.3v54.2M580.5 765.2v36.1M581.5 751.2v57.5M582.5 758.9v13.8M583.5 744.3v51.8M584.5 752.4v63.2M585.5 746.9v24.6M586.5 727.9v52.1M587.5 722.4v75.2M588.5 737.9v42.2M589.5 745.1v53.3M590.5 728.7v42.5M591.5 747.4v21.1M592.5 746.6v34.9M593.5 744.3v33.1M594.5 739.8v30.3M595.5 756.5v58.2M596.5 751.6v25.4M597.5 756.0v25.3M598.5 754.0v13.9M599.5 758.3v18.0M600.5 740.3v41.3M601.5 749.0v38.0M602.5 768.8v47.8M603.5 729.1v78.1M604.5 752.9v42.1M605.5 766.5v56.1M606.5 783.1v24.9M607.5 789.9v37.5M608.5 792.2v54.6M609.5 785.2v40.4M610.5 786.1v36.8M611.5 773.3v27.0M612.5 776.2v33.7M613.5 750.6v67.5M614.5 746.4v70.1M615.5 762.2v31.4M616.5 769.1v22.9M617.5 761.1v37.2M618.5 757.8v54.4M619.5 761.4v28.7M620.5 746.6v71.1M621.5 769.0v42.4M622.5 754.6v33.0M623.5 766.9v15.8M624.5 765.3v16.9M625.5 744.5v33.1M626.5 757.3v21.2M627.5 746.0v44.2M628.5 760.4v20.8M629.5 753.6v29.8M630.5 754.5v41.9M631.5 747.6v41.8M632.5 726.3v67.4M633.5 764.9v43.2M634.5 773.0v30.1M635.5 742.6v59.0M636.5 758.6v51.1M637.5 773.0v44.5M638.5 751.9v53.8M639.5 747.6v39.1M640.5 748.2v45.4M641.5 748.4v29.8M642.5 747.2v39.0M643.5 748.5v34.1M644.5 713.9v69.2M645.5 734.9v59.6M646.5 730.0v45.3M647.5 735.3v46.3M648.5 725.6v46.6M649.5 740.7v47.7M650.5 730.0v36.2M651.5 720.6v83.5M652.5 736.2v39.1M653.5 735.1v36.3M654.5 751.4v16.7M655.5 731.6v67.9M656.5 711.2v52.7M657.5 727.7v50.3M658.5 732.1v35.3M659.5 703.9v79.7M660.5 719.5v46.2M661.5 723.1v40.3M662.5 725.0v22.2M663.5 735.9v37.6M664.5 723.7v40.8M665.5 706.1v47.7M666.5 701.3v65.5M667.5 726.8v49.3M668.5 751.4v15.8M669.5 734.4v60.0M670.5 726.7v75.4M671.5 740.3v48.9M672.5 724.6v68.8M673.5 754.5v24.1M674.5 755.4v31.8M675.5 746.7v28.6M676.5 752.3v43.0M677.5 736.1v44.3M678.5 764.7v32.5M679.5 742.5v58.3M680.5 765.8v48.5M681.5 759.4v48.9M682.5 741.8v48.9M683.5 741.7v41.8M684.5 744.9v30.1M685.5 742.4v43.1M686.5 751.9v20.4M687.5 757.9v15.0M688.5 734.1v45.8M689.5 742.5v40.8M690.5 755.2v70.1M691.5 772.0v23.2M692.5 766.8v47.8M693.5 776.6v21.3M694.5 778.4v17.7M695.5 782.6v17.5M696.5 785.4v46.6M697.5 789.2v43.0M698.5 769.7v40.8M699.5 781.0v17.2M700.5 757.8v74.4M701.5 731.3v59.6M702.5 761.3v29.4M703.5 759.5v47.4M704.5 761.3v46.3M705.5 750.8v48.4M706.5 783.5v23.0M707.5 780.7v43.4M708.5 782.9v71.4M709.5 797.9v24.3M710.5 780.3v31.8M711.5 775.5v41.5M712.5 755.4v53.2M713.5 768.3v48.5M714.5 782.1v27.0M715.5 776.0v38.9M716.5 752.0v51.0M717.5 769.6v31.0M718.5 772.0v56.7M719.5 784.6v18.5M720.5 783.7v23.7M721.5 772.0v78.2M722.5 768.6v37.2M723.5 779.5v34.2M724.5 782.3v30.1M725.5 777.4v31.1M726.5 776.8v23.4M727.5 772.4v60.3M728.5 744.3v57.5M729.5 772.9v22.5M730.5 776.5v22.4M731.5 774.4v20.9M732.5 765.0v35.2M733.5 738.9v51.0M734.5 750.3v56.5M735.5 738.9v46.2M736.5 750.9v37.5M737.5 740.7v29.2M738.5 749.1v22.4M739.5 726.2v51.1M740.5 736.3v49.2M741.5 717.2v34.8M742.5 729.5v54.2M743.5 698.7v68.4M744.5 729.4v43.1M745.5 753.5v23.6M746.5 747.2v32.4M747.5 750.4v49.5M748.5 750.1v24.9M749.5 755.8v27.5M750.5 724.6v93.0M751.5 733.0v48.5M752.5 740.4v53.1M753.5 757.2v24.8M754.5 738.6v35.2M755.5 747.2v39.6M756.5 733.4v50.7M757.5 748.2v47.2M758.5 738.5v28.2M759.5 734.9v44.5M760.5 705.6v59.6M761.5 717.6v52.6M762.5 724.1v31.9M763.5 738.3v26.1M764.5 732.5v53.5M765.5 731.8v44.3M766.5 746.6v28.9M767.5 748.5v38.4M768.5 732.5v39.9M769.5 756.0v53.9M770.5 761.2v15.8M771.5 764.1v15.6M772.5 754.5v45.3M773.5 768.9v26.1M774.5 758.1v51.5M775.5 752.6v55.9M776.5 736.0v60.3M777.5 769.4v17.0M778.5 726.6v52.3M779.5 742.3v58.6M780.5 755.9v17.5M781.5 741.0v42.1M782.5 720.4v61.2M783.5 724.2v56.1M784.5 735.3v35.3M785.5 734.0v35.0" fill="none" stroke="#d8d8d8" stroke-width="1"/></g>
<g clip-path="url(#cp3)"><path d="M167.5 1156.0v15.7M168.5 1151.9v17.1M169.5 1138.8v37.0M170.5 1153.5v32.3M171.5 1139.5v32.3M172.5 1145.3v37.2M173.5 1139.7v17.6M174.5 1139.2v18.4M175.5 1103.0v60.9M176.5 1110.4v60.8M177.5 1120.9v41.0M178.5 1112.2v50.4M179.5 1131.4v41.1M180.5 1134.6v28.1M181.5 1133.0v35.3M182.5 1130.8v42.1M183.5 1143.0v33.0M184.5 1130.8v33.8M185.5 1151.6v47.5M186.5 1149.7v49.2M187.5 1147.1v27.1M188.5 1157.3v36.5M189.5 1147.6v42.7M190.5 1135.5v45.3M191.5 1161.9v48.0M192.5 1150.8v34.5M193.5 1146.2v45.7M194.5 1160.4v33.8M195.5 1169.0v27.1M196.5 1136.9v62.0M197.5 1137.4v62.5M198.5 1173.3v21.7M199.5 1178.0v16.3M200.5 1162.5v79.7M201.5 1171.3v36.5M202.5 1185.7v30.7M203.5 1172.4v36.9M204.5 1175.2v44.2M205.5 1185.7v31.8M206.5 1178.7v43.0M207.5 1163.7v77.7M208.5 1206.1v32.0M209.5 1202.6v56.8M210.5 1220.4v16.7M211.5 1218.8v30.7M212.5 1213.4v24.5M213.5 1190.5v36.9M214.5 1193.4v33.2M215.5 1186.6v35.4M216.5 1181.3v19.2M217.5 1155.2v56.6M218.5 1170.6v53.5M219.5 1161.1v32.8M220.5 1162.8v27.3M221.5 1171.4v22.0M222.5 1127.6v55.4M223.5 1156.1v37.9M224.5 1160.6v54.0M225.5 1162.1v42.5M226.5 1156.8v36.9M227.5 1161.9v45.2M228.5 1137.6v55.0M229.5 1161.7v42.2M230.5 1160.5v40.7M231.5 1142.7v59.4M232.5 1136.2v61.3M233.5 1158.7v43.8M234.5 1149.2v31.1M235.5 1149.6v28.5M236.5 1145.5v63.4M237.5 1143.8v33.1M238.5 1132.9v52.2M239.5 1148.6v26.6M240.5 1149.0v25.0M241.5 1141.8v37.7M242.5 1146.2v51.0M243.5 1155.6v25.7M244.5 1147.5v48.7M245.5 1140.6v36.1M246.5 1139.6v48.0M247.5 1150.8v44.0M248.5 1139.9v30.0M249.5 1101.9v106.6M250.5 1138.3v31.2M251.5 1147.4v17.8M252.5 1119.2v46.6M253.5 1118.6v74.6M254.5 1114.4v83.5M255.5 1154.9v18.9M256.5 1147.4v37.5M257.5 1132.7v56.1M258.5 1136.0v33.1M259.5 1155.6v22.2M260.5 1150.9v29.2M261.5 1132.8v47.9M262.5 1147.3v38.5M263.5 1131.3v31.5M264.5 1117.4v60.4M265.5 1133.1v28.3M266.5 1129.7v21.4M267.5 1101.3v54.3M268.5 1100.4v37.4M269.5 1105.3v45.1M270.5 1094.7v58.8M271.5 1115.5v25.0M272.5 1122.2v34.6M273.5 1126.7v24.6M274.5 1118.9v27.6M275.5 1126.8v37.8M276.5 1113.9v47.8M277.5 1123.8v44.4M278.5 1090.0v78.7M279.5 1121.0v19.1M280.5 1103.7v29.5M281.5 1091.4v55.2M282.5 1087.5v49.0M283.5 1108.4v26.6M284.5 1120.5v15.3M285.5 1112.0v32.5M286.5 1108.0v58.5M287.5 1118.7v33.1M288.5 1103.7v40.6M289.5 1127.6v41.6M290.5 1112.9v69.1M291.5 1118.2v47.4M292.5 1120.6v39.4M293.5 1126.4v20.9M294.5 1120.3v31.2M295.5 1100.3v61.3M296.5 1088.3v56.8M297.5 1105.9v23.7M298.5 1094.9v42.2M299.5 1068.6v59.4M300.5 1106.5v26.1M301.5 1110.4v34.8M302.5 1113.4v74.0M303.5 1113.7v27.5M304.5 1126.4v40.3M305.5 1110.9v58.6M306.5 1088.5v70.7M307.5 1080.2v64.5M308.5 1110.8v21.9M309.5 1104.2v26.0M310.5 1107.1v42.6M311.5 1087.5v55.1M312.5 1079.0v64.4M313.5 1092.7v38.4M314.5 1092.6v44.9M315.5 1108.6v37.2M316.5 1092.2v41.1M317.5 1117.3v36.5M318.5 1117.4v30.5M319.5 1120.6v69.1M320.5 1104.6v59.7M321.5 1119.3v39.2M322.5 1107.2v52.0M323.5 1129.3v51.7M324.5 1123.1v32.1M325.5 1125.6v26.9M326.5 1107.6v53.6M327.5 1114.7v46.1M328.5 1135.8v44.7M329.5 1129.0v29.7M330.5 1130.8v41.7M331.5 1114.0v46.4M332.5 1136.1v54.6M333.5 1119.2v37.5M334.5 1132.3v42.0M335.5 1116.8v40.9M336.5 1115.6v69.9M337.5 1131.6v26.9M338.5 1112.5v65.8M339.5 1117.6v38.0M340.5 1109.8v42.8M341.5 1113.8v32.5M342.5 1125.3v29.4M343.5 1115.1v41.7M344.5 1104.0v57.7M345.5 1114.4v31.1M346.5 1094.1v46.4M347.5 1107.9v31.6M348.5 1095.6v48.9M349.5 1118.0v44.0M350.5 1093.8v66.6M351.5 1112.2v26.9M352.5 1099.7v41.7M353.5 1117.9v28.0M354.5 1109.3v30.7M355.5 1102.9v36.0M356.5 1090.2v54.9M357.5 1124.7v40.0M358.5 1121.7v23.9M359.5 1109.7v38.5M360.5 1110.7v41.9M361.5 1126.1v12.8M362.5 1109.9v50.2M363.5 1122.6v43.9M364.5 1092.9v76.2M365.5 1123.3v39.7M366.5 1114.7v43.8M367.5 1131.9v28.3M368.5 1136.0v21.7M369.5 1135.5v25.2M370.5 1128.5v40.3M371.5 1100.4v55.2M372.5 1115.1v36.6M373.5 1134.8v36.7M374.5 1102.6v57.7M375.5 1126.1v43.5M376.5 1085.3v86.5M377.5 1131.4v24.3M378.5 1127.1v28.1M379.5 1127.3v43.0M380.5 1133.5v29.0M381.5 1099.3v63.1M382.5 1109.3v27.7M383.5 1115.9v25.9M384.5 1111.7v25.2M385.5 1096.8v47.3M386.5 1081.7v42.0M387.5 1099.6v50.4M388.5 1076.0v53.5M389.5 1095.7v21.9M390.5 1069.7v63.0M391.5 1100.8v19.9M392.5 1077.0v74.8M393.5 1084.3v48.1M394.5 1090.0v48.1M395.5 1099.3v31.4M396.5 1095.1v35.2M397.5 1098.2v25.0M398.5 1089.4v43.4M399.5 1066.9v45.9M400.5 1092.0v46.6M401.5 1094.6v33.8M402.5 1077.1v43.6M403.5 1104.0v36.2M404.5 1085.2v67.7M405.5 1109.3v21.9M406.5 1096.9v50.3M407.5 1081.6v74.1M408.5 1057.6v60.0M409.5 1060.3v60.1M410.5 1093.2v19.4M411.5 1091.4v26.1M412.5 1082.7v35.2M413.5 1085.0v41.0M414.5 1090.4v35.2M415.5 1094.2v30.2M416.5 1108.8v46.4M417.5 1104.9v45.5M418.5 1119.8v44.6M419.5 1128.7v24.8M420.5 1136.3v30.1M421.5 1116.7v58.2M422.5 1136.3v23.8M423.5 1119.4v36.5M424.5 1136.5v43.1M425.5 1116.2v79.8M426.5 1104.4v50.3M427.5 1137.1v26.8M428.5 1138.9v30.0M429.5 1119.7v45.5M430.5 1135.8v39.4M431.5 1132.1v34.7M432.5 1127.9v49.5M433.5 1098.1v61.4M434.5 1123.6v41.4M435.5 1079.4v78.9M436.5 1114.7v35.3M437.5 1112.6v37.5M438.5 1098.7v38.7M439.5 1106.3v27.3M440.5 1092.8v68.5M441.5 1105.6v25.3M442.5 1088.7v50.8M443.5 1097.5v29.8M444.5 1099.0v77.3M445.5 1112.7v30.2M446.5 1101.4v41.5M447.5 1125.0v16.8M448.5 1101.2v83.2M449.5 1106.0v45.4M450.5 1124.7v52.7M451.5 1131.6v19.1M452.5 1125.1v28.2M453.5 1113.9v56.9M454.5 1123.3v54.3M455.5 1112.4v41.7M456.5 1130.4v22.9M457.5 1133.9v31.3M458.5 1141.3v16.4M459.5 1126.3v53.3M460.5 1139.9v19.7M461.5 1105.6v54.6M462.5 1125.0v45.4M463.5 1122.0v25.6M464.5 1129.9v25.2M465.5 1127.7v30.9M466.5 1105.2v47.3M467.5 1108.1v34.7M468.5 1106.2v36.8M469.5 1117.6v22.6M470.5 1115.4v25.1M471.5 1121.4v35.7M472.5 1100.6v40.0M473.5 1112.7v29.7M474.5 1116.1v29.6M475.5 1110.5v52.1M476.5 1109.9v20.9M477.5 1102.6v41.6M478.5 1111.7v18.1M479.5 1100.7v29.3M480.5 1099.1v31.8M481.5 1112.7v25.0M482.5 1085.0v53.6M483.5 1112.0v54.7M484.5 1116.0v50.2M485.5 1116.4v25.8M486.5 1097.6v57.6M487.5 1109.3v38.6M488.5 1080.0v68.7M489.5 1107.2v56.5M490.5 1118.2v46.0M491.5 1119.8v26.4M492.5 1108.6v44.7M493.5 1116.7v52.5M494.5 1100.2v52.9M495.5 1111.2v75.1M496.5 1108.0v65.2M497.5 1117.1v21.0M498.5 1070.8v68.2M499.5 1113.5v25.4M500.5 1113.4v25.5M501.5 1114.1v23.0M502.5 1114.1v22.1M503.5 1115.6v26.3M504.5 1080.1v90.0M505.5 1081.1v79.2M506.5 1104.5v31.2M507.5 1101.4v34.6M508.5 1102.7v39.8M509.5 1104.5v24.1M510.5 1103.5v41.3M511.5 1116.2v27.1M512.5 1093.3v48.7M513.5 1111.6v31.5M514.5 1115.3v37.7M515.5 1116.6v75.3M516.5 1118.6v47.2M517.5 1120.7v20.4M518.5 1101.2v59.0M519.5 1122.8v20.1M520.5 1109.0v57.3M521.5 1092.1v78.7M522.5 1124.3v38.1M523.5 1111.5v35.4M524.5 1120.3v33.0M525.5 1126.4v55.0M526.5 1125.2v22.5M527.5 1126.1v40.1M528.5 1117.2v50.6M529.5 1118.4v29.2M530.5 1116.6v21.0M531.5 1116.9v30.3M532.5 1087.9v48.7M533.5 1120.9v48.3M534.5 1120.5v36.3M535.5 1112.3v33.9M536.5 1123.2v22.7M537.5 1132.4v30.3M538.5 1103.3v82.1M539.5 1127.8v61.4M540.5 1111.0v63.3M541.5 1123.9v60.7M542.5 1127.1v30.5M543.5 1096.9v55.4M544.5 1105.4v43.7M545.5 1101.7v49.1M546.5 1113.8v38.3M547.5 1112.2v35.5M548.5 1117.1v33.3M549.5 1112.2v25.7M550.5 1053.8v101.3M551.5 1092.2v49.0M552.5 1100.4v28.0M553.5 1084.2v38.3M554.5 1096.8v33.5M555.5 1105.3v18.1M556.5 1100.4v26.0M557.5 1106.9v24.4M558.5 1089.3v38.2M559.5 1097.0v38.9M560.5 1111.1v29.6M561.5 1112.8v21.8M562.5 1108.9v42.8M563.5 1096.1v55.0M564.5 1111.5v34.3M565.5 1108.7v43.5M566.5 1131.6v70.5M567.5 1124.2v26.6M568.5 1134.3v35.6M569.5 1137.1v16.4M570.5 1111.5v56.0M571.5 1135.9v38.2M572.5 1112.5v57.6M573.5 1132.8v49.0M574.5 1132.7v22.1M575.5 1127.1v23.8M576.5 1127.5v26.6M577.5 1131.4v54.4M578.5 1104.6v41.0M579.5 1128.6v21.7M580.5 1108.4v38.6M581.5 1115.8v41.8M582.5 1122.2v27.0M583.5 1112.4v37.6M584.5 1121.1v36.0M585.5 1109.1v78.2M586.5 1111.9v57.8M587.5 1118.2v21.6M588.5 1118.4v23.0M589.5 1107.5v26.0M590.5 1096.0v40.3M591.5 1106.8v39.4M592.5 1099.3v71.1M593.5 1097.9v52.9M594.5 1115.7v16.3M595.5 1084.7v46.5M596.5 1119.0v22.2M597.5 1102.2v37.8M598.5 1080.6v59.6M599.5 1101.6v40.7M600.5 1120.9v37.8M601.5 1091.6v59.7M602.5 1118.9v41.4M603.5 1101.6v46.0M604.5 1109.0v33.1M605.5 1121.4v17.9M606.5 1122.3v15.0M607.5 1096.0v49.9M608.5 1117.7v26.1M609.5 1106.4v31.9M610.5 1113.2v49.1M611.5 1090.5v62.5M612.5 1104.1v44.4M613.5 1099.7v60.5M614.5 1099.9v36.3M615.5 1094.2v59.4M616.5 1107.6v35.7M617.5 1088.5v45.2M618.5 1092.7v36.5M619.5 1113.5v31.3M620.5 1106.8v32.9M621.5 1095.5v37.7M622.5 1101.6v18.6M623.5 1060.1v68.1M624.5 1086.8v28.5M625.5 1094.8v31.6M626.5 1084.0v45.8M627.5 1088.5v30.7M628.5 1090.0v71.9M629.5 1096.1v23.6M630.5 1069.5v85.0M631.5 1091.3v32.8M632.5 1084.1v48.5M633.5 1107.1v22.9M634.5 1101.5v40.9M635.5 1109.2v20.2M636.5 1095.6v34.8M637.5 1081.9v46.3M638.5 1098.6v33.9M639.5 1086.0v46.0M640.5 1084.7v50.9M641.5 1087.9v28.7M642.5 1095.0v30.2M643.5 1100.3v39.2M644.5 1069.7v48.0M645.5 1098.8v19.2M646.5 1091.1v28.5M647.5 1103.0v21.5M648.5 1105.6v41.5M649.5 1104.0v27.3M650.5 1111.4v41.8M651.5 1094.2v30.2M652.5 1108.7v15.1M653.5 1106.1v16.7M654.5 1062.9v79.6M655.5 1091.2v39.5M656.5 1087.6v46.8M657.5 1080.5v54.9M658.5 1085.5v42.5M659.5 1097.6v22.7M660.5 1104.6v31.4M661.5 1098.1v46.0M662.5 1115.6v46.9M663.5 1103.8v48.5M664.5 1117.1v29.1M665.5 1110.0v41.6M666.5 1089.3v54.7M667.5 1078.2v40.4M668.5 1086.9v23.8M669.5 1093.8v50.6M670.5 1066.3v50.2M671.5 1098.8v36.2M672.5 1099.4v27.5M673.5 1104.0v50.3M674.5 1124.6v38.7M675.5 1123.9v31.7M676.5 1124.7v42.9M677.5 1123.7v40.4M678.5 1127.2v16.0M679.5 1125.3v20.5M680.5 1122.8v41.9M681.5 1112.7v40.4M682.5 1111.2v43.3M683.5 1131.5v21.0M684.5 1129.2v31.9M685.5 1112.2v68.7M686.5 1143.1v37.2M687.5 1145.1v33.7M688.5 1157.9v30.8M689.5 1149.7v25.9M690.5 1140.4v36.9M691.5 1145.9v50.2M692.5 1153.8v38.3M693.5 1146.7v43.6M694.5 1147.3v38.8M695.5 1151.6v37.2M696.5 1137.8v37.1M697.5 1142.0v20.3M698.5 1128.5v45.8M699.5 1139.0v60.0M700.5 1142.8v25.4M701.5 1110.4v58.2M702.5 1133.5v49.6M703.5 1149.2v21.2M704.5 1133.0v50.6M705.5 1136.4v44.1M706.5 1141.8v39.8M707.5 1125.4v64.0M708.5 1133.8v49.0M709.5 1132.1v37.1M710.5 1136.5v32.3M711.5 1133.3v36.5M712.5 1134.7v50.6M713.5 1129.7v27.3M714.5 1138.5v17.8M715.5 1102.1v48.5M716.5 1129.8v30.3M717.5 1123.7v32.7M718.5 1114.9v45.8M719.5 1114.1v70.0M720.5 1123.6v46.8M721.5 1127.8v50.6M722.5 1142.5v59.3M723.5 1123.0v48.3M724.5 1147.4v33.0M725.5 1149.0v17.2M726.5 1148.0v18.7M727.5 1119.4v77.1M728.5 1109.2v70.3M729.5 1123.3v68.4M730.5 1128.4v37.3M731.5 1125.6v43.1M732.5 1131.4v48.1M733.5 1134.6v18.4M734.5 1127.1v39.6M735.5 1132.8v15.5M736.5 1137.4v38.3M737.5 1138.5v30.2M738.5 1140.5v45.1M739.5 1138.4v21.5M740.5 1135.9v28.7M741.5 1132.4v41.3M742.5 1136.3v21.1M743.5 1097.1v53.6M744.5 1124.9v21.8M745.5 1116.9v22.2M746.5 1083.7v51.9M747.5 1114.5v20.4M748.5 1095.5v50.1M749.5 1110.8v27.9M750.5 1108.2v36.4M751.5 1123.4v30.0M752.5 1110.7v45.5M753.5 1123.8v30.5M754.5 1125.0v32.6M755.5 1117.0v57.7M756.5 1116.6v34.5M757.5 1108.5v37.2M758.5 1104.4v35.8M759.5 1121.3v47.1M760.5 1116.2v25.5M761.5 1119.4v23.0M762.5 1096.4v40.9M763.5 1106.8v48.3M764.5 1114.9v45.9M765.5 1119.2v21.0M766.5 1126.6v25.5M767.5 1126.9v33.2M768.5 1130.4v33.4M769.5 1125.2v55.4M770.5 1131.9v29.7M771.5 1135.9v44.1M772.5 1131.0v28.9M773.5 1128.4v34.0M774.5 1129.6v27.1M775.5 1123.2v35.2M776.5 1093.1v81.4M777.5 1117.5v36.7M778.5 1092.4v59.3M779.5 1107.2v54.4M780.5 1119.1v22.3M781.5 1123.3v37.5M782.5 1118.8v34.5M783.5 1133.2v19.5M784.5 1109.4v64.3M785.5 1127.8v39.5" fill="none" stroke="#d8d8d8" stroke-width="1"/></g>
<g clip-path="url(#cp4)"><path d="M164.5 1450.8v56.3M165.5 1466.3v24.2M166.5 1454.2v49.0M167.5 1483.0v47.9M168.5 1464.5v59.0M169.5 1500.2v23.7M170.5 1504.8v22.0M171.5 1504.8v23.5M172.5 1479.9v93.6M173.5 1502.3v29.2M174.5 1516.0v49.4M175.5 1493.3v53.6M176.5 1495.2v68.4M177.5 1512.2v29.1M178.5 1510.9v27.3M179.5 1502.8v68.1M180.5 1519.6v24.6M181.5 1508.7v35.2M182.5 1506.3v55.0M183.5 1494.0v46.8M184.5 1504.6v43.4M185.5 1493.4v49.5M186.5 1507.8v31.3M187.5 1517.4v22.3M188.5 1511.8v37.8M189.5 1494.9v28.7M190.5 1490.3v48.4M191.5 1511.5v14.7M192.5 1494.5v37.7M193.5 1511.6v47.3M194.5 1497.4v40.3M195.5 1493.6v43.3M196.5 1527.2v49.0M197.5 1507.1v43.5M198.5 1529.7v20.9M199.5 1527.3v21.9M200.5 1519.1v32.1M201.5 1531.8v30.8M202.5 1521.7v46.1M203.5 1522.1v43.0M204.5 1510.9v50.3M205.5 1523.5v57.0M206.5 1524.2v27.3M207.5 1517.3v35.7M208.5 1527.2v21.6M209.5 1524.2v30.7M210.5 1518.5v62.1M211.5 1526.4v17.8M212.5 1517.8v35.3M213.5 1517.6v30.8M214.5 1502.4v61.4M215.5 1520.1v21.4M216.5 1515.6v39.7M217.5 1515.1v33.6M218.5 1524.8v30.9M219.5 1521.5v24.8M220.5 1522.3v39.3M221.5 1518.8v26.6M222.5 1503.2v47.1M223.5 1533.0v44.1M224.5 1539.4v29.3M225.5 1525.9v30.2M226.5 1532.1v30.8M227.5 1540.6v17.3M228.5 1511.3v77.4M229.5 1523.2v31.0M230.5 1532.6v41.4M231.5 1515.5v40.2M232.5 1519.6v41.4M233.5 1500.4v51.2M234.5 1532.6v23.6M235.5 1512.9v63.5M236.5 1523.8v37.6M237.5 1528.5v28.2M238.5 1520.5v49.2M239.5 1533.6v22.4M240.5 1524.3v74.9M241.5 1507.3v54.0M242.5 1526.6v24.9M243.5 1515.1v63.7M244.5 1494.8v55.4M245.5 1511.5v40.3M246.5 1527.2v37.2M247.5 1527.1v17.5M248.5 1521.9v19.6M249.5 1520.7v22.0M250.5 1528.6v21.6M251.5 1531.2v20.0M252.5 1485.5v71.1M253.5 1525.1v29.0M254.5 1524.4v19.2M255.5 1518.5v25.4M256.5 1510.6v25.7M257.5 1495.7v33.5M258.5 1490.2v65.4M259.5 1503.6v38.7M260.5 1483.9v36.6M261.5 1487.3v38.2M262.5 1485.5v58.5M263.5 1487.2v41.9M264.5 1484.6v28.0M265.5 1470.4v54.1M266.5 1480.0v45.2M267.5 1492.0v37.6M268.5 1467.6v41.4M269.5 1491.9v18.2M270.5 1485.6v45.8M271.5 1479.0v27.0M272.5 1467.9v39.6M273.5 1471.5v25.4M274.5 1461.3v36.0M275.5 1462.1v47.2M276.5 1471.2v20.3M277.5 1461.8v30.7M278.5 1446.4v52.2M279.5 1470.2v57.2M280.5 1464.2v52.1M281.5 1456.0v42.5M282.5 1460.8v33.1M283.5 1474.1v30.4M284.5 1460.0v68.2M285.5 1474.0v39.0M286.5 1459.2v49.3M287.5 1481.2v42.5M288.5 1452.2v57.8M289.5 1495.1v26.4M290.5 1480.2v73.3M291.5 1485.8v50.5M292.5 1495.7v40.7M293.5 1495.3v39.7M294.5 1469.7v42.1M295.5 1477.0v66.9M296.5 1497.8v44.9M297.5 1489.3v38.1M298.5 1490.8v55.0M299.5 1506.9v43.0M300.5 1511.4v17.7M301.5 1489.5v56.6M302.5 1508.8v26.2M303.5 1514.8v32.4M304.5 1514.8v20.1M305.5 1519.6v24.8M306.5 1513.2v74.9M307.5 1502.1v59.6M308.5 1519.4v48.6M309.5 1520.7v26.9M310.5 1524.5v20.5M311.5 1518.1v41.3M312.5 1516.0v58.1M313.5 1520.9v22.5M314.5 1510.6v32.9M315.5 1493.9v39.4M316.5 1461.1v96.6M317.5 1504.0v23.6M318.5 1474.3v62.9M319.5 1487.0v68.2M320.5 1468.8v87.5M321.5 1463.5v46.8M322.5 1456.3v56.6M323.5 1477.9v26.3M324.5 1475.8v41.8M325.5 1455.4v42.3M326.5 1458.9v72.8M327.5 1476.8v41.1M328.5 1450.5v65.4M329.5 1479.1v30.3M330.5 1489.5v48.5M331.5 1489.0v28.8M332.5 1457.8v72.4M333.5 1485.8v39.5M334.5 1480.0v35.3M335.5 1475.3v22.4M336.5 1466.6v28.0M337.5 1456.8v25.7M338.5 1460.6v16.6M339.5 1450.0v43.9M340.5 1415.5v72.4M341.5 1463.1v19.9M342.5 1442.6v62.2M343.5 1444.7v49.9M344.5 1464.6v38.7M345.5 1473.4v33.5M346.5 1466.6v48.5M347.5 1474.0v40.2M348.5 1479.7v24.1M349.5 1481.8v36.0M350.5 1489.7v37.6M351.5 1497.4v28.4M352.5 1476.3v40.3M353.5 1473.5v45.0M354.5 1508.4v21.4M355.5 1505.4v26.8M356.5 1510.8v20.8M357.5 1501.0v31.6M358.5 1487.4v37.4M359.5 1500.8v28.8M360.5 1499.6v32.8M361.5 1492.9v45.0M362.5 1487.2v35.6M363.5 1491.8v21.9M364.5 1458.9v72.1M365.5 1462.1v58.3M366.5 1489.5v29.4M367.5 1454.2v75.5M368.5 1483.8v19.2M369.5 1456.5v53.6M370.5 1481.7v27.8M371.5 1465.2v60.2M372.5 1481.3v37.6M373.5 1495.3v46.7M374.5 1484.2v65.4M375.5 1490.6v28.6M376.5 1499.3v28.1M377.5 1490.1v22.4M378.5 1469.5v44.2M379.5 1477.7v35.6M380.5 1452.7v52.7M381.5 1460.9v54.9M382.5 1470.8v32.9M383.5 1467.4v17.4M384.5 1460.0v52.5M385.5 1440.5v61.7M386.5 1463.5v24.8M387.5 1479.4v44.6M388.5 1455.9v71.4M389.5 1490.1v30.8M390.5 1498.2v20.1M391.5 1494.3v44.3M392.5 1509.0v21.1M393.5 1501.2v42.8M394.5 1513.6v18.7M395.5 1505.2v37.0M396.5 1487.1v53.4M397.5 1495.7v50.3M398.5 1473.4v79.0M399.5 1474.0v50.6M400.5 1495.5v41.8M401.5 1496.1v46.0M402.5 1490.9v42.9M403.5 1491.7v36.5M404.5 1479.5v44.9M405.5 1477.1v54.2M406.5 1507.3v20.1M407.5 1504.5v43.1M408.5 1480.0v47.2M409.5 1500.8v29.7M410.5 1499.1v48.8M411.5 1473.4v44.7M412.5 1498.2v54.7M413.5 1492.0v53.6M414.5 1501.5v29.5M415.5 1472.5v68.7M416.5 1491.9v51.9M417.5 1505.8v34.0M418.5 1501.7v48.0M419.5 1516.5v29.5M420.5 1517.2v56.0M421.5 1483.4v72.7M422.5 1508.2v31.3M423.5 1508.8v55.1M424.5 1493.4v42.4M425.5 1515.3v18.9M426.5 1493.8v48.0M427.5 1499.1v55.6M428.5 1495.9v47.8M429.5 1518.6v24.8M430.5 1517.1v29.6M431.5 1515.4v24.9M432.5 1513.0v23.2M433.5 1488.4v44.4M434.5 1495.0v53.9M435.5 1507.5v20.2M436.5 1503.2v25.5M437.5 1507.7v33.5M438.5 1520.3v23.1M439.5 1519.3v27.0M440.5 1518.1v34.8M441.5 1480.3v93.8M442.5 1521.0v38.5M443.5 1526.0v29.3M444.5 1535.8v55.5M445.5 1533.9v25.8M446.5 1486.9v58.4M447.5 1513.4v31.2M448.5 1514.2v42.6M449.5 1499.2v35.6M450.5 1504.7v54.9M451.5 1497.5v43.7M452.5 1521.4v18.0M453.5 1501.9v54.1M454.5 1508.6v26.3M455.5 1490.4v48.4M456.5 1517.9v55.3M457.5 1514.4v39.2M458.5 1518.4v68.0M459.5 1525.7v27.6M460.5 1515.0v35.6M461.5 1491.7v52.0M462.5 1511.9v48.1M463.5 1518.2v51.9M464.5 1507.4v46.1M465.5 1511.5v60.9M466.5 1517.2v82.9M467.5 1523.2v28.8M468.5 1503.3v60.1M469.5 1533.3v27.6M470.5 1521.1v48.9M471.5 1493.9v59.9M472.5 1523.4v35.1M473.5 1541.1v16.6M474.5 1527.9v51.2M475.5 1515.1v54.1M476.5 1537.5v32.1M477.5 1540.5v40.9M478.5 1528.2v53.7M479.5 1519.3v51.7M480.5 1516.9v42.2M481.5 1542.9v55.5M482.5 1537.5v56.5M483.5 1538.0v24.3M484.5 1510.0v56.8M485.5 1528.7v31.8M486.5 1492.9v71.0M487.5 1475.3v79.5M488.5 1490.7v61.7M489.5 1491.8v46.8M490.5 1495.4v35.2M491.5 1506.4v18.7M492.5 1494.7v46.2M493.5 1494.2v62.9M494.5 1476.0v56.7M495.5 1508.0v33.5M496.5 1521.5v44.9M497.5 1506.3v34.8M498.5 1521.3v30.6M499.5 1514.0v39.5M500.5 1519.9v34.8M501.5 1526.7v19.2M502.5 1529.6v20.6M503.5 1501.8v48.5M504.5 1525.6v37.2M505.5 1506.2v67.0M506.5 1530.7v20.7M507.5 1515.9v55.1M508.5 1538.2v25.2M509.5 1528.5v50.6M510.5 1537.4v34.0M511.5 1528.1v54.5M512.5 1545.2v18.5M513.5 1540.2v61.1M514.5 1550.7v50.3M515.5 1532.8v69.4M516.5 1553.9v18.4M517.5 1549.1v36.2M518.5 1545.0v45.3M519.5 1530.8v60.4M520.5 1542.8v24.9M521.5 1538.9v64.1M522.5 1504.9v45.6M523.5 1508.5v62.5M524.5 1492.6v57.4M525.5 1488.1v54.7M526.5 1525.5v34.8M527.5 1519.3v38.6M528.5 1515.9v74.5M529.5 1519.4v35.4M530.5 1519.6v41.6M531.5 1520.5v41.1M532.5 1533.2v27.8M533.5 1518.7v37.5M534.5 1514.7v34.2M535.5 1533.1v25.2M536.5 1524.4v37.0M537.5 1520.6v45.1M538.5 1503.6v59.9M539.5 1518.3v53.6M540.5 1519.0v53.1M541.5 1521.3v25.8M542.5 1511.8v32.8M543.5 1520.6v26.5M544.5 1501.7v50.9M545.5 1495.6v60.0M546.5 1530.1v26.6M547.5 1528.4v48.9M548.5 1523.5v47.9M549.5 1540.9v34.6M550.5 1547.5v18.7M551.5 1544.2v49.8M552.5 1530.7v40.8M553.5 1556.5v48.6M554.5 1561.9v15.6M555.5 1553.4v39.1M556.5 1536.1v53.5M557.5 1538.5v56.0M558.5 1527.7v63.7M559.5 1539.3v36.1M560.5 1546.3v29.5M561.5 1549.2v28.7M562.5 1539.9v39.4M563.5 1533.3v48.6M564.5 1534.1v20.1M565.5 1521.4v35.4M566.5 1529.8v18.5M567.5 1526.2v23.7M568.5 1513.0v61.2M569.5 1524.7v46.0M570.5 1530.3v60.8M571.5 1512.3v37.0M572.5 1508.5v48.9M573.5 1538.0v28.4M574.5 1540.2v26.0M575.5 1543.2v35.8M576.5 1544.4v60.6M577.5 1543.7v35.3M578.5 1539.9v51.0M579.5 1556.1v42.8M580.5 1560.2v72.1M581.5 1583.4v53.5M582.5 1583.9v35.6M583.5 1543.3v66.4M584.5 1561.3v42.5M585.5 1565.2v32.3M586.5 1562.1v34.8M587.5 1559.5v29.5M588.5 1561.8v27.4M589.5 1548.1v33.4M590.5 1557.7v33.6M591.5 1554.4v20.3M592.5 1543.8v31.4M593.5 1529.6v62.6M594.5 1555.0v14.4M595.5 1536.5v39.6M596.5 1549.2v36.1M597.5 1547.0v24.3M598.5 1527.7v61.8M599.5 1523.5v62.1M600.5 1540.5v39.8M601.5 1530.5v64.3M602.5 1528.9v62.7M603.5 1548.3v28.6M604.5 1539.8v52.7M605.5 1559.6v18.1M606.5 1561.8v22.5M607.5 1558.8v18.3M608.5 1562.9v25.9M609.5 1555.8v45.4M610.5 1532.7v45.4M611.5 1562.0v23.6M612.5 1557.6v37.0M613.5 1567.1v17.7M614.5 1551.3v34.8M615.5 1553.5v38.7M616.5 1561.2v39.5M617.5 1556.0v55.6M618.5 1567.0v30.7M619.5 1560.3v53.3M620.5 1544.9v49.8M621.5 1568.0v22.3M622.5 1554.5v66.4M623.5 1571.7v35.2M624.5 1558.4v37.3M625.5 1552.9v57.7M626.5 1567.8v27.8M627.5 1564.7v33.4M628.5 1554.9v48.2M629.5 1565.5v36.1M630.5 1573.3v45.3M631.5 1552.8v44.7M632.5 1539.8v58.0M633.5 1568.7v21.4M634.5 1560.1v40.2M635.5 1558.7v25.8M636.5 1562.4v50.6M637.5 1555.8v61.4M638.5 1565.4v19.8M639.5 1556.5v51.5M640.5 1558.2v32.8M641.5 1564.8v36.0M642.5 1541.4v46.1M643.5 1567.0v17.4M644.5 1550.0v34.9M645.5 1564.8v39.2M646.5 1557.7v38.3M647.5 1567.9v41.5M648.5 1559.8v25.6M649.5 1552.8v35.1M650.5 1548.9v32.1M651.5 1560.9v21.8M652.5 1550.9v35.3M653.5 1553.0v26.4M654.5 1528.9v37.7M655.5 1542.2v29.0M656.5 1511.5v55.4M657.5 1524.1v53.6M658.5 1532.4v14.1M659.5 1526.2v32.7M660.5 1509.0v26.8M661.5 1516.0v38.0M662.5 1490.8v66.0M663.5 1492.6v40.3M664.5 1504.0v68.0M665.5 1474.8v56.1M666.5 1501.1v27.7M667.5 1505.4v35.0M668.5 1498.6v42.6M669.5 1531.1v23.3M670.5 1512.9v57.2M671.5 1530.3v33.1M672.5 1549.0v30.5M673.5 1556.2v31.1M674.5 1553.8v23.0M675.5 1551.0v38.9M676.5 1547.4v40.2M677.5 1533.4v42.8M678.5 1519.9v81.2M679.5 1534.0v39.4M680.5 1540.2v41.4M681.5 1560.4v30.8M682.5 1546.8v35.1M683.5 1562.6v45.6M684.5 1567.3v42.9M685.5 1557.6v39.5M686.5 1582.7v40.5M687.5 1566.1v69.6M688.5 1560.5v59.9M689.5 1575.5v23.3M690.5 1561.5v30.4M691.5 1562.0v34.3M692.5 1566.6v26.6M693.5 1546.1v39.6M694.5 1550.5v43.3M695.5 1564.9v33.1M696.5 1547.4v42.4M697.5 1546.8v38.3M698.5 1516.7v60.5M699.5 1544.3v43.1M700.5 1554.7v45.1M701.5 1554.0v37.2M702.5 1565.1v21.4M703.5 1566.1v46.0M704.5 1571.7v45.1M705.5 1559.1v32.0M706.5 1565.8v23.0M707.5 1557.3v40.8M708.5 1573.7v14.4M709.5 1571.4v18.9M710.5 1557.1v29.4M711.5 1543.7v48.4M712.5 1558.7v27.3M713.5 1543.6v66.6M714.5 1544.5v44.8M715.5 1566.5v37.6M716.5 1539.2v65.6M717.5 1557.2v39.8M718.5 1555.1v42.9M719.5 1558.1v44.6M720.5 1561.8v36.2M721.5 1567.5v20.5M722.5 1556.6v30.8M723.5 1551.1v25.9M724.5 1539.8v28.2M725.5 1517.8v39.7M726.5 1489.9v72.9M727.5 1525.0v34.2M728.5 1538.4v25.9M729.5 1535.4v38.9M730.5 1527.9v47.7M731.5 1528.8v55.3M732.5 1527.6v28.9M733.5 1528.5v54.6M734.5 1533.4v31.1M735.5 1516.2v39.2M736.5 1508.1v59.1M737.5 1530.4v26.5M738.5 1535.4v19.0M739.5 1521.3v47.2M740.5 1487.2v68.5M741.5 1527.9v59.2M742.5 1521.4v29.3M743.5 1535.9v13.8M744.5 1531.7v39.0M745.5 1525.9v38.6M746.5 1535.4v36.1M747.5 1526.0v48.4M748.5 1521.4v68.4M749.5 1544.7v33.5M750.5 1503.0v69.8M751.5 1525.6v60.1M752.5 1547.3v21.5M753.5 1544.6v33.0M754.5 1535.5v33.7M755.5 1532.5v45.0M756.5 1513.4v60.3M757.5 1528.5v25.7M758.5 1533.5v32.0M759.5 1543.9v24.5M760.5 1535.6v53.5M761.5 1530.9v37.0M762.5 1546.3v20.9M763.5 1543.1v20.7M764.5 1532.8v40.2M765.5 1528.2v63.0M766.5 1521.3v48.1M767.5 1544.3v22.1M768.5 1526.9v78.6M769.5 1545.5v27.3M770.5 1550.8v27.0M771.5 1546.5v36.3M772.5 1530.5v41.9M773.5 1530.9v40.7M774.5 1544.9v32.0M775.5 1542.0v40.0M776.5 1527.2v31.0M777.5 1531.2v27.2M778.5 1521.9v38.2M779.5 1522.3v64.3M780.5 1538.2v28.3M781.5 1534.3v51.9M782.5 1531.3v28.0M783.5 1540.8v40.8M784.5 1532.8v31.8M785.5 1538.0v33.8M786.5 1518.3v45.7M787.5 1534.8v53.8M788.5 1548.4v16.7M789.5 1540.6v27.1" fill="none" stroke="#d8d8d8" stroke-width="1"/></g>
<g clip-path="url(#cp5)"><path d="M830.5 243.4v57.2M831.5 179.4v102.3M832.5 207.0v63.4M833.5 208.2v62.5M834.5 191.3v48.4M835.5 215.9v34.5M836.5 211.8v26.0M837.5 183.8v63.1M838.5 220.9v49.1M839.5 237.1v43.7M840.5 200.4v81.5M841.5 242.2v44.4M842.5 241.1v29.5M843.5 206.1v55.1M844.5 246.8v26.0M845.5 249.4v31.5M846.5 246.6v40.4M847.5 244.4v48.5M848.5 260.5v21.2M849.5 246.9v46.5M850.5 250.4v35.0M851.5 253.6v46.0M852.5 259.9v41.4M853.5 268.5v59.4M854.5 261.5v34.9M855.5 251.8v57.0M856.5 275.8v35.2M857.5 250.5v64.3M858.5 269.3v69.3M859.5 301.2v21.6M860.5 276.1v88.1M861.5 279.9v54.3M862.5 278.0v70.6M863.5 282.4v55.2M864.5 265.2v51.4M865.5 279.6v80.1M866.5 283.6v56.7M867.5 273.2v31.0M868.5 265.3v37.4M869.5 271.1v34.5M870.5 251.8v52.4M871.5 268.8v49.7M872.5 270.1v59.5M873.5 254.2v53.5M874.5 263.6v58.8M875.5 281.2v26.3M876.5 287.3v40.6M877.5 275.9v53.8M878.5 256.2v60.6M879.5 293.6v27.5M880.5 242.4v89.1M881.5 276.7v50.8M882.5 287.1v43.3M883.5 288.0v39.6M884.5 287.7v35.2M885.5 240.4v62.6M886.5 262.8v49.8M887.5 278.2v29.5M888.5 263.8v42.8M889.5 261.4v46.5M890.5 255.0v47.9M891.5 255.0v45.4M892.5 244.4v66.4M893.5 260.7v33.2M894.5 266.7v21.7M895.5 261.1v29.1M896.5 250.0v48.5M897.5 263.1v18.2M898.5 263.1v27.3M899.5 251.1v57.2M900.5 273.4v33.1M901.5 265.3v44.4M902.5 275.8v35.3M903.5 274.0v51.9M904.5 294.1v43.0M905.5 275.0v43.9M906.5 288.8v45.8M907.5 269.6v49.8M908.5 295.9v34.2M909.5 286.4v35.9M910.5 284.5v36.1M911.5 271.0v70.1M912.5 277.9v45.1M913.5 263.6v51.0M914.5 269.6v34.7M915.5 260.9v72.4M916.5 258.1v52.1M917.5 272.0v37.3M918.5 238.0v57.6M919.5 271.6v34.6M920.5 257.7v28.9M921.5 248.3v46.3M922.5 216.9v98.1M923.5 270.3v25.2M924.5 270.1v29.1M925.5 270.4v18.7M926.5 256.5v60.6M927.5 266.2v22.9M928.5 265.4v24.4M929.5 261.9v43.3M930.5 271.1v75.8M931.5 252.5v69.1M932.5 253.4v46.9M933.5 276.5v45.8M934.5 279.8v37.1M935.5 256.8v47.4M936.5 281.6v47.7M937.5 275.2v47.8M938.5 288.1v43.0M939.5 282.1v27.1M940.5 261.9v42.9M941.5 274.6v32.0M942.5 262.6v51.9M943.5 262.8v23.2M944.5 253.4v37.5M945.5 258.9v27.4M946.5 251.3v46.3M947.5 261.4v40.2M948.5 227.2v60.6M949.5 256.2v67.6M950.5 265.8v73.6M951.5 218.5v86.6M952.5 246.4v41.8M953.5 208.4v83.4M954.5 273.9v39.4M955.5 274.9v42.7M956.5 264.3v46.6M957.5 286.8v23.6M958.5 293.9v30.2M959.5 269.6v51.2M960.5 252.5v112.0M961.5 268.5v57.8M962.5 270.7v50.2M963.5 268.5v37.8M964.5 285.4v35.5M965.5 254.6v56.6M966.5 274.4v36.1M967.5 253.7v61.2M968.5 281.4v29.5M969.5 246.1v72.9M970.5 263.2v52.1M971.5 281.4v33.2M972.5 271.1v41.9M973.5 284.9v34.7M974.5 284.2v43.4M975.5 265.8v43.1M976.5 262.4v37.5M977.5 274.3v50.8M978.5 267.7v32.6M979.5 246.6v48.9M980.5 268.5v47.0M981.5 260.7v49.7M982.5 253.9v35.9M983.5 234.7v60.1M984.5 271.0v31.1M985.5 268.2v38.3M986.5 259.7v73.7M987.5 261.4v34.7M988.5 274.1v41.2M989.5 271.9v20.9M990.5 269.9v31.9M991.5 263.3v38.8M992.5 274.2v39.9M993.5 277.2v25.3M994.5 257.5v41.7M995.5 248.6v60.7M996.5 236.3v72.2M997.5 260.4v48.5M998.5 265.5v35.4M999.5 216.9v101.6M1000.5 268.9v33.3M1001.5 280.2v31.8M1002.5 274.5v37.4M1003.5 274.3v52.4M1004.5 290.5v54.2M1005.5 293.1v53.4M1006.5 293.2v54.2M1007.5 264.6v71.7M1008.5 295.9v35.2M1009.5 295.6v31.4M1010.5 298.7v26.7M1011.5 308.0v15.6M1012.5 258.6v65.8M1013.5 290.3v73.1M1014.5 313.9v47.0M1015.5 316.2v27.5M1016.5 293.4v37.7M1017.5 286.1v52.7M1018.5 298.7v58.7M1019.5 292.6v50.6M1020.5 283.9v57.3M1021.5 304.1v46.7M1022.5 275.9v66.0M1023.5 261.3v68.2M1024.5 289.0v40.9M1025.5 283.5v33.1M1026.5 274.8v32.1M1027.5 282.4v32.5M1028.5 279.8v27.4M1029.5 291.5v27.2M1030.5 257.0v67.8M1031.5 280.7v49.5M1032.5 293.5v22.9M1033.5 269.2v67.8M1034.5 288.1v20.4M1035.5 272.7v46.9M1036.5 274.9v36.8M1037.5 278.0v31.6M1038.5 273.5v41.6M1039.5 223.8v99.2M1040.5 270.3v53.9M1041.5 246.0v75.3M1042.5 262.1v37.6M1043.5 269.9v24.7M1044.5 252.8v74.0M1045.5 275.0v28.3M1046.5 279.9v33.1M1047.5 258.8v47.8M1048.5 258.0v46.8M1049.5 243.6v65.5M1050.5 282.6v28.5M1051.5 264.3v36.2M1052.5 260.3v69.2M1053.5 261.2v53.4M1054.5 274.1v38.4M1055.5 283.0v46.2M1056.5 270.9v48.3M1057.5 272.9v69.6M1058.5 289.7v31.5M1059.5 275.5v58.4M1060.5 274.5v39.3M1061.5 289.6v25.7M1062.5 271.8v58.4M1063.5 286.2v46.8M1064.5 280.1v57.0M1065.5 313.3v21.1M1066.5 296.0v46.5M1067.5 310.6v63.5M1068.5 305.8v70.1M1069.5 330.0v34.2M1070.5 306.3v76.0M1071.5 321.0v41.2M1072.5 326.9v17.8M1073.5 321.2v40.7M1074.5 279.9v63.3M1075.5 307.3v25.3M1076.5 284.8v50.4M1077.5 294.1v34.7M1078.5 284.9v36.8M1079.5 247.9v76.5M1080.5 290.9v34.5M1081.5 277.4v66.1M1082.5 286.9v55.2M1083.5 262.2v72.6M1084.5 245.0v76.3M1085.5 272.2v40.8M1086.5 274.4v33.7M1087.5 255.0v68.4M1088.5 244.3v59.4M1089.5 266.5v68.1M1090.5 272.0v22.0M1091.5 271.0v35.7M1092.5 248.3v73.2M1093.5 246.0v37.5M1094.5 256.9v30.5M1095.5 219.9v55.5M1096.5 251.4v35.0M1097.5 248.8v19.4M1098.5 249.1v32.8M1099.5 243.9v41.0M1100.5 247.5v32.6M1101.5 257.0v22.3M1102.5 258.3v20.8M1103.5 246.9v34.1M1104.5 269.8v21.6M1105.5 245.8v50.5M1106.5 235.0v85.3M1107.5 265.0v37.2M1108.5 267.6v30.9M1109.5 258.4v36.3M1110.5 227.9v84.7M1111.5 230.8v45.1M1112.5 244.0v41.0M1113.5 239.0v47.7M1114.5 221.3v45.0M1115.5 212.4v73.5M1116.5 248.1v19.3M1117.5 237.4v57.5M1118.5 247.5v40.5M1119.5 240.5v49.2M1120.5 247.2v21.5M1121.5 241.1v50.0M1122.5 245.3v30.0M1123.5 219.2v49.9M1124.5 215.6v45.2M1125.5 235.5v31.2M1126.5 209.1v65.1M1127.5 209.2v72.0M1128.5 244.6v29.2M1129.5 254.5v34.9M1130.5 220.0v53.8M1131.5 218.3v64.4M1132.5 244.7v24.2M1133.5 215.9v56.8M1134.5 226.5v40.3M1135.5 226.9v48.4M1136.5 224.3v55.6M1137.5 224.6v39.2M1138.5 192.6v64.0M1139.5 213.5v44.4M1140.5 193.9v77.6M1141.5 212.5v45.5M1142.5 201.4v55.0M1143.5 192.9v47.9M1144.5 209.3v23.9M1145.5 209.7v26.2M1146.5 216.0v21.0M1147.5 191.0v66.0M1148.5 209.2v53.8M1149.5 210.3v38.1M1150.5 217.8v43.6M1151.5 227.0v29.4M1152.5 241.4v42.9M1153.5 239.5v38.3M1154.5 247.7v26.7M1155.5 260.2v53.2M1156.5 242.0v79.9M1157.5 231.5v62.2M1158.5 248.8v42.4M1159.5 230.8v48.3M1160.5 251.5v57.2M1161.5 245.7v36.4M1162.5 228.3v44.3M1163.5 235.1v68.3M1164.5 228.0v64.9M1165.5 234.4v47.8M1166.5 228.8v37.4M1167.5 221.1v35.6M1168.5 219.7v56.2M1169.5 223.9v27.3M1170.5 196.8v46.4M1171.5 207.4v32.3M1172.5 221.2v44.7M1173.5 213.3v33.4M1174.5 226.8v33.1M1175.5 232.1v26.9M1176.5 240.3v22.8M1177.5 242.0v25.3M1178.5 230.7v46.2M1179.5 240.0v33.0M1180.5 237.0v61.6M1181.5 230.7v50.7M1182.5 255.4v37.1M1183.5 243.4v62.4M1184.5 262.4v37.4M1185.5 250.3v33.9M1186.5 241.1v56.0M1187.5 246.1v47.8M1188.5 259.8v37.8M1189.5 240.4v32.4M1190.5 237.9v61.1M1191.5 261.0v19.8M1192.5 249.5v37.3M1193.5 259.2v39.3M1194.5 226.7v84.3M1195.5 247.7v50.8M1196.5 262.5v38.3M1197.5 227.0v52.3M1198.5 235.4v39.3M1199.5 228.4v35.9M1200.5 237.8v40.7M1201.5 234.8v27.5M1202.5 219.6v49.7M1203.5 213.6v56.8M1204.5 218.4v53.0M1205.5 223.0v44.6M1206.5 233.1v37.7M1207.5 234.0v40.9M1208.5 220.6v46.4M1209.5 229.0v35.5M1210.5 239.6v36.4M1211.5 233.8v37.4M1212.5 237.8v27.5M1213.5 233.5v52.3M1214.5 207.7v54.5M1215.5 211.4v49.5M1216.5 209.6v51.5M1217.5 220.7v34.9M1218.5 206.3v54.8M1219.5 216.6v27.5M1220.5 224.3v27.4M1221.5 199.3v43.0M1222.5 228.4v20.2M1223.5 234.5v38.7M1224.5 240.9v18.9M1225.5 233.8v31.2M1226.5 221.8v71.0M1227.5 258.8v19.9M1228.5 245.9v24.2M1229.5 213.8v57.3M1230.5 232.4v45.0M1231.5 236.8v37.1M1232.5 227.7v38.2M1233.5 216.7v57.0M1234.5 236.6v34.5M1235.5 241.3v58.6M1236.5 236.1v60.3M1237.5 253.1v41.9M1238.5 244.6v60.4M1239.5 254.8v41.0M1240.5 253.7v58.8M1241.5 240.8v37.9M1242.5 250.7v40.1M1243.5 253.1v23.9M1244.5 213.3v76.0M1245.5 235.4v53.9M1246.5 263.8v22.3M1247.5 246.2v45.1M1248.5 248.9v36.6M1249.5 247.9v28.3M1250.5 248.4v30.0M1251.5 249.8v31.5M1252.5 210.9v57.9M1253.5 227.4v56.0M1254.5 239.2v33.4M1255.5 243.3v49.7M1256.5 234.6v37.2M1257.5 227.6v51.6M1258.5 247.3v25.0M1259.5 241.3v37.7M1260.5 251.1v33.1M1261.5 228.4v58.3M1262.5 245.4v49.6M1263.5 264.4v32.5M1264.5 251.3v59.2M1265.5 277.3v50.5M1266.5 287.6v22.0M1267.5 291.0v35.2M1268.5 263.4v68.7M1269.5 284.9v50.7M1270.5 287.3v38.5M1271.5 288.5v28.2M1272.5 285.5v41.2M1273.5 268.9v38.1M1274.5 239.7v77.1M1275.5 277.5v34.2M1276.5 257.7v47.1M1277.5 240.4v60.2M1278.5 260.9v29.6M1279.5 240.4v61.9M1280.5 263.5v27.7M1281.5 218.4v76.1M1282.5 269.2v32.0M1283.5 264.9v26.0M1284.5 266.2v28.6M1285.5 257.4v36.8M1286.5 244.4v48.0M1287.5 257.5v46.3M1288.5 260.2v50.6M1289.5 259.0v43.2M1290.5 278.1v26.3M1291.5 265.3v71.8M1292.5 289.0v29.2M1293.5 281.3v32.1M1294.5 284.4v51.7M1295.5 278.5v55.7M1296.5 271.6v49.4M1297.5 260.5v71.8M1298.5 297.9v39.0M1299.5 308.2v49.1M1300.5 293.0v97.8M1301.5 303.5v36.9M1302.5 303.2v40.1M1303.5 299.2v37.8M1304.5 300.2v44.0M1305.5 283.6v49.6M1306.5 305.8v38.4M1307.5 282.8v38.7M1308.5 279.6v28.5M1309.5 277.7v30.5M1310.5 270.2v52.4M1311.5 261.8v39.1M1312.5 256.8v32.8M1313.5 266.1v54.0M1314.5 272.3v21.6M1315.5 276.7v28.6M1316.5 241.4v51.3M1317.5 246.4v42.1M1318.5 242.7v45.0M1319.5 223.1v52.4M1320.5 242.2v28.4M1321.5 221.3v44.9M1322.5 231.6v43.5M1323.5 211.2v48.2M1324.5 204.9v54.1M1325.5 193.1v46.8M1326.5 172.6v58.2M1327.5 158.0v65.0M1328.5 170.0v70.5M1329.5 183.4v44.9M1330.5 170.2v45.7M1331.5 140.4v83.7M1332.5 187.0v33.7M1333.5 180.8v59.8M1334.5 206.2v38.3M1335.5 186.2v66.3M1336.5 217.3v36.1M1337.5 198.4v50.0M1338.5 199.1v34.7M1339.5 191.9v68.0M1340.5 187.4v33.3M1341.5 188.4v68.1M1342.5 188.3v54.4M1343.5 191.0v47.1M1344.5 197.0v38.3M1345.5 180.9v36.4M1346.5 188.7v37.2M1347.5 184.9v65.0M1348.5 196.2v40.8M1349.5 186.7v65.2M1350.5 192.0v32.8M1351.5 185.9v34.7M1352.5 179.9v75.4M1353.5 197.4v29.2M1354.5 201.7v28.0M1355.5 160.0v79.6M1356.5 182.3v49.5M1357.5 201.4v29.3M1358.5 179.8v51.1M1359.5 207.5v47.0M1360.5 176.3v55.9M1361.5 186.1v62.2M1362.5 199.2v61.4M1363.5 192.2v57.6M1364.5 180.9v78.6M1365.5 197.2v58.5M1366.5 176.0v53.3M1367.5 198.0v54.6M1368.5 213.1v30.7M1369.5 212.2v30.2M1370.5 212.1v56.1M1371.5 226.3v25.4M1372.5 230.3v44.2M1373.5 207.2v52.5M1374.5 224.4v61.5M1375.5 230.8v22.2M1376.5 221.0v35.6M1377.5 218.0v54.7M1378.5 212.4v73.1M1379.5 211.7v56.3M1380.5 217.9v73.4M1381.5 230.2v24.5M1382.5 231.9v48.6M1383.5 247.1v21.3M1384.5 246.0v44.0M1385.5 213.1v107.4M1386.5 236.5v67.7M1387.5 243.9v34.3M1388.5 223.4v69.3M1389.5 241.4v21.1M1390.5 231.5v23.9M1391.5 227.2v46.1M1392.5 216.5v71.8M1393.5 199.2v46.1M1394.5 210.6v61.4M1395.5 221.7v52.8M1396.5 217.5v29.0M1397.5 220.8v50.2M1398.5 205.3v45.0M1399.5 226.1v34.0M1400.5 220.8v25.0M1401.5 212.6v42.0M1402.5 226.5v23.1M1403.5 186.7v70.9M1404.5 223.9v47.7M1405.5 242.0v38.4M1406.5 189.9v76.8M1407.5 202.7v63.4M1408.5 238.7v47.6M1409.5 212.6v62.3M1410.5 236.3v35.4M1411.5 200.9v72.0M1412.5 233.5v60.8M1413.5 235.5v38.1M1414.5 232.5v41.5M1415.5 217.6v44.1M1416.5 234.7v25.5M1417.5 226.6v35.1M1418.5 208.3v44.4M1419.5 192.7v51.5M1420.5 188.2v76.6M1421.5 202.7v69.5M1422.5 208.1v50.4M1423.5 200.5v91.5M1424.5 216.3v46.2M1425.5 213.8v66.5M1426.5 233.0v38.5M1427.5 231.0v80.2M1428.5 248.1v26.7M1429.5 244.7v32.4M1430.5 248.8v32.1M1431.5 217.6v81.1M1432.5 239.6v30.1M1433.5 224.4v52.9M1434.5 225.5v58.6M1435.5 245.1v38.3M1436.5 242.1v70.1M1437.5 241.1v40.2M1438.5 218.0v73.1M1439.5 236.6v26.3M1440.5 244.2v27.8M1441.5 239.2v46.4" fill="none" stroke="#d8d8d8" stroke-width="1"/></g>
<g clip-path="url(#cp6)"><path d="M831.5 471.3v70.9M832.5 485.0v15.7M833.5 462.7v40.5M834.5 482.5v25.3M835.5 477.1v35.4M836.5 493.7v49.7M837.5 491.7v32.5M838.5 484.9v24.5M839.5 462.3v50.5M840.5 479.3v43.0M841.5 488.4v35.5M842.5 484.8v39.9M843.5 482.1v78.3M844.5 477.6v50.8M845.5 477.0v35.0M846.5 486.5v26.2M847.5 450.9v65.7M848.5 463.0v52.8M849.5 491.0v34.9M850.5 469.3v42.7M851.5 484.8v27.9M852.5 477.3v41.0M853.5 465.8v33.8M854.5 473.5v24.4M855.5 474.5v18.1M856.5 473.4v41.8M857.5 469.4v23.3M858.5 478.3v27.3M859.5 469.7v33.8M860.5 462.2v46.3M861.5 461.3v58.9M862.5 478.6v36.3M863.5 460.0v77.1M864.5 477.0v60.6M865.5 476.3v38.3M866.5 468.6v64.9M867.5 477.3v44.8M868.5 464.8v76.2M869.5 475.1v21.7M870.5 467.1v57.0M871.5 466.0v17.8M872.5 452.1v30.8M873.5 428.4v63.7M874.5 448.5v38.4M875.5 465.0v31.2M876.5 465.1v31.1M877.5 469.9v48.5M878.5 481.5v26.9M879.5 478.6v48.1M880.5 486.6v22.0M881.5 464.1v79.2M882.5 477.7v49.0M883.5 452.2v69.5M884.5 472.1v39.9M885.5 477.0v41.1M886.5 488.4v31.1M887.5 488.3v37.2M888.5 436.2v77.1M889.5 472.6v28.1M890.5 470.5v49.3M891.5 473.4v37.4M892.5 456.5v61.2M893.5 467.6v26.1M894.5 455.5v56.8M895.5 441.0v38.7M896.5 434.7v41.1M897.5 454.5v31.3M898.5 456.8v42.0M899.5 451.2v66.7M900.5 427.5v49.4M901.5 445.6v42.3M902.5 443.8v40.5M903.5 462.9v27.7M904.5 442.3v47.9M905.5 462.6v70.4M906.5 442.3v67.0M907.5 446.0v87.3M908.5 460.3v33.7M909.5 442.1v41.7M910.5 450.0v42.6M911.5 428.3v56.6M912.5 459.6v61.9M913.5 464.0v45.4M914.5 444.5v47.5M915.5 470.4v29.9M916.5 466.5v47.9M917.5 471.7v27.4M918.5 481.3v41.6M919.5 477.2v34.2M920.5 491.9v19.6M921.5 491.9v32.5M922.5 472.8v60.9M923.5 478.9v50.1M924.5 484.9v40.5M925.5 463.5v45.8M926.5 490.0v23.7M927.5 479.7v72.0M928.5 477.0v54.1M929.5 474.6v37.6M930.5 480.8v42.6M931.5 476.8v37.8M932.5 469.2v55.2M933.5 457.8v42.9M934.5 458.4v54.9M935.5 448.9v64.6M936.5 477.3v50.4M937.5 456.4v54.8M938.5 463.6v43.1M939.5 462.7v51.5M940.5 444.7v35.8M941.5 461.1v42.6M942.5 420.4v85.2M943.5 460.7v16.6M944.5 448.2v58.9M945.5 459.0v33.1M946.5 465.4v17.3M947.5 422.5v68.6M948.5 451.5v38.1M949.5 464.5v54.7M950.5 473.9v39.6M951.5 477.5v63.3M952.5 469.9v56.6M953.5 473.9v36.2M954.5 487.8v55.9M955.5 461.9v56.0M956.5 479.5v34.9M957.5 488.6v49.2M958.5 463.8v46.6M959.5 477.4v47.5M960.5 470.4v57.2M961.5 470.3v50.2M962.5 479.6v62.2M963.5 506.0v31.5M964.5 490.5v30.9M965.5 469.7v53.6M966.5 490.3v42.5M967.5 477.6v33.7M968.5 472.8v37.8M969.5 492.3v17.6M970.5 486.5v27.0M971.5 486.1v48.2M972.5 487.2v20.5M973.5 479.6v39.7M974.5 486.4v26.6M975.5 488.7v42.4M976.5 472.1v40.6M977.5 479.7v32.9M978.5 490.9v26.1M979.5 473.0v42.2M980.5 460.2v74.5M981.5 490.5v24.0M982.5 456.8v59.8M983.5 468.6v37.0M984.5 457.6v48.6M985.5 481.0v19.1M986.5 455.7v41.0M987.5 458.2v41.8M988.5 473.6v38.8M989.5 435.6v73.8M990.5 471.6v42.8M991.5 476.1v32.7M992.5 457.0v68.0M993.5 483.7v24.5M994.5 491.5v22.8M995.5 479.6v49.2M996.5 482.7v75.5M997.5 500.7v31.7M998.5 473.1v64.2M999.5 509.9v30.7M1000.5 520.6v41.8M1001.5 522.1v27.8M1002.5 526.4v37.0M1003.5 475.5v87.7M1004.5 498.7v63.6M1005.5 519.2v39.1M1006.5 491.4v38.6M1007.5 504.8v63.9M1008.5 498.3v50.6M1009.5 502.0v29.3M1010.5 495.5v35.3M1011.5 502.7v23.9M1012.5 484.4v54.2M1013.5 491.2v49.4M1014.5 503.3v35.7M1015.5 512.3v35.8M1016.5 506.3v35.8M1017.5 491.8v56.1M1018.5 476.2v53.7M1019.5 489.1v40.4M1020.5 488.3v35.9M1021.5 466.5v76.6M1022.5 472.5v66.0M1023.5 492.8v47.5M1024.5 498.5v34.3M1025.5 498.3v44.6M1026.5 494.3v56.4M1027.5 482.9v73.3M1028.5 499.4v65.9M1029.5 504.0v46.1M1030.5 496.6v49.0M1031.5 517.8v45.0M1032.5 478.7v87.0M1033.5 495.2v53.8M1034.5 522.1v33.4M1035.5 498.4v41.0M1036.5 496.7v33.4M1037.5 504.1v26.1M1038.5 496.5v29.3M1039.5 503.0v25.0M1040.5 468.4v64.5M1041.5 477.5v49.7M1042.5 470.2v67.4M1043.5 481.9v54.1M1044.5 494.5v31.6M1045.5 487.8v32.7M1046.5 490.6v34.7M1047.5 488.2v35.2M1048.5 495.5v24.8M1049.5 467.5v50.0M1050.5 497.1v28.4M1051.5 472.9v88.0M1052.5 510.6v27.7M1053.5 469.1v69.3M1054.5 516.8v17.9M1055.5 499.7v35.6M1056.5 521.7v19.2M1057.5 499.0v50.0M1058.5 534.6v32.0M1059.5 520.6v42.1M1060.5 500.5v59.6M1061.5 527.1v30.1M1062.5 514.8v63.5M1063.5 517.0v36.4M1064.5 508.0v41.9M1065.5 510.9v26.9M1066.5 469.0v63.3M1067.5 480.3v55.8M1068.5 510.4v27.4M1069.5 475.5v66.7M1070.5 511.7v41.0M1071.5 514.0v39.8M1072.5 513.7v29.6M1073.5 499.8v53.6M1074.5 484.0v62.7M1075.5 509.3v43.1M1076.5 532.4v28.2M1077.5 515.5v48.1M1078.5 505.3v47.9M1079.5 493.4v66.7M1080.5 492.2v62.9M1081.5 497.8v42.8M1082.5 508.5v19.0M1083.5 493.0v46.5M1084.5 481.5v54.6M1085.5 508.7v42.8M1086.5 511.2v34.9M1087.5 515.4v61.0M1088.5 496.7v47.6M1089.5 520.1v40.4M1090.5 511.7v37.0M1091.5 492.2v57.6M1092.5 528.0v35.0M1093.5 489.9v56.3M1094.5 516.4v23.3M1095.5 508.3v29.4M1096.5 504.9v43.5M1097.5 506.7v33.8M1098.5 511.4v47.2M1099.5 504.8v44.1M1100.5 520.5v22.1M1101.5 479.1v90.1M1102.5 522.2v25.0M1103.5 503.0v54.0M1104.5 526.4v34.8M1105.5 513.6v41.5M1106.5 533.4v62.8M1107.5 520.8v50.6M1108.5 522.8v56.0M1109.5 540.1v25.7M1110.5 537.1v32.1M1111.5 548.9v28.6M1112.5 520.9v76.1M1113.5 546.9v34.1M1114.5 538.4v54.5M1115.5 560.7v46.4M1116.5 532.1v65.3M1117.5 542.7v40.9M1118.5 532.9v56.8M1119.5 536.6v38.1M1120.5 533.9v18.8M1121.5 490.3v72.3M1122.5 507.9v57.2M1123.5 506.2v57.6M1124.5 531.7v35.6M1125.5 522.4v47.4M1126.5 520.6v50.2M1127.5 540.0v30.9M1128.5 531.9v29.4M1129.5 529.2v29.0M1130.5 496.0v59.6M1131.5 525.7v46.1M1132.5 497.0v68.4M1133.5 493.8v88.7M1134.5 480.9v92.5M1135.5 499.3v39.8M1136.5 502.3v56.6M1137.5 497.7v57.0M1138.5 517.4v34.8M1139.5 514.5v38.8M1140.5 525.2v31.7M1141.5 527.8v66.5M1142.5 470.7v87.0M1143.5 510.6v67.9M1144.5 487.5v66.7M1145.5 515.8v48.3M1146.5 512.8v90.1M1147.5 539.0v33.4M1148.5 508.0v51.5M1149.5 535.4v37.9M1150.5 519.5v51.9M1151.5 516.8v66.7M1152.5 525.4v55.9M1153.5 541.2v48.7M1154.5 527.0v43.1M1155.5 502.8v61.8M1156.5 494.5v61.6M1157.5 530.0v20.4M1158.5 532.1v24.5M1159.5 487.8v71.6M1160.5 525.0v42.8M1161.5 525.1v49.4M1162.5 522.0v39.0M1163.5 522.1v30.5M1164.5 521.8v32.5M1165.5 503.5v67.8M1166.5 504.3v43.7M1167.5 524.5v27.0M1168.5 508.6v65.9M1169.5 538.6v16.9M1170.5 519.8v78.1M1171.5 543.6v39.7M1172.5 549.8v18.3M1173.5 528.0v70.0M1174.5 551.5v31.5M1175.5 535.7v44.8M1176.5 543.5v24.0M1177.5 540.4v29.4M1178.5 535.1v38.8M1179.5 524.4v61.3M1180.5 520.2v49.1M1181.5 543.9v40.1M1182.5 508.8v79.3M1183.5 526.2v68.8M1184.5 506.4v64.7M1185.5 522.5v78.5M1186.5 495.1v80.0M1187.5 503.7v32.3M1188.5 480.3v35.6M1189.5 495.4v58.5M1190.5 483.9v47.8M1191.5 471.8v64.8M1192.5 501.4v32.0M1193.5 526.1v37.4M1194.5 530.2v20.1M1195.5 531.3v36.9M1196.5 532.6v43.0M1197.5 525.9v28.7M1198.5 519.9v47.5M1199.5 506.3v38.2M1200.5 505.1v56.9M1201.5 499.1v69.6M1202.5 511.9v36.3M1203.5 518.5v50.4M1204.5 507.7v29.2M1205.5 500.3v38.6M1206.5 514.2v27.6M1207.5 503.9v33.4M1208.5 508.7v18.4M1209.5 499.9v44.5M1210.5 507.8v23.5M1211.5 488.6v52.5M1212.5 503.4v43.6M1213.5 509.6v32.4M1214.5 480.3v50.6M1215.5 504.8v48.5M1216.5 516.7v20.7M1217.5 505.3v45.2M1218.5 509.6v30.9M1219.5 506.1v46.3M1220.5 496.9v36.4M1221.5 487.6v45.6M1222.5 510.2v35.8M1223.5 479.6v61.6M1224.5 473.1v66.3M1225.5 497.9v36.7M1226.5 453.1v73.6M1227.5 472.1v51.3M1228.5 476.4v43.4M1229.5 488.6v30.2M1230.5 467.2v46.3M1231.5 474.7v40.0M1232.5 491.5v49.9M1233.5 494.4v40.4M1234.5 503.6v18.6M1235.5 497.7v62.2M1236.5 490.6v36.9M1237.5 458.3v62.5M1238.5 463.7v66.6M1239.5 494.7v52.2M1240.5 483.2v44.0M1241.5 491.8v39.9M1242.5 476.6v42.5M1243.5 496.8v28.0M1244.5 503.1v45.3M1245.5 492.2v44.8M1246.5 498.5v34.8M1247.5 503.4v76.1M1248.5 510.7v27.5M1249.5 492.4v49.5M1250.5 496.1v68.0M1251.5 518.9v38.0M1252.5 518.1v69.2M1253.5 531.8v28.8M1254.5 535.2v27.9M1255.5 530.2v59.9M1256.5 539.9v41.6M1257.5 531.5v24.8M1258.5 529.1v35.3M1259.5 517.7v38.4M1260.5 510.0v42.1M1261.5 512.1v51.0M1262.5 489.3v52.9M1263.5 528.1v41.1M1264.5 521.8v52.8M1265.5 517.5v40.3M1266.5 536.4v27.4M1267.5 528.9v49.5M1268.5 533.3v29.9M1269.5 536.0v49.4M1270.5 538.2v36.6M1271.5 538.2v38.3M1272.5 532.0v60.5M1273.5 547.9v31.7M1274.5 527.8v66.8M1275.5 531.1v61.1M1276.5 525.3v50.1M1277.5 529.2v42.1M1278.5 504.1v76.8M1279.5 537.9v43.5M1280.5 532.4v26.5M1281.5 498.8v67.8M1282.5 518.9v21.7M1283.5 508.3v67.1M1284.5 508.7v44.8M1285.5 509.7v26.3M1286.5 495.7v52.3M1287.5 495.0v75.5M1288.5 534.8v30.6M1289.5 525.7v40.4M1290.5 545.3v30.6M1291.5 557.8v24.2M1292.5 560.1v28.2M1293.5 534.4v65.3M1294.5 535.5v57.9M1295.5 512.5v95.3M1296.5 548.8v17.6M1297.5 505.2v86.0M1298.5 527.7v39.6M1299.5 509.1v86.8M1300.5 538.9v23.9M1301.5 531.4v43.2M1302.5 511.2v75.0M1303.5 524.8v55.6M1304.5 530.3v48.3M1305.5 528.0v38.7M1306.5 539.5v63.0M1307.5 537.5v28.3M1308.5 536.2v29.8M1309.5 534.1v27.0M1310.5 528.6v28.4M1311.5 533.9v65.0M1312.5 512.3v53.1M1313.5 537.9v60.6M1314.5 532.0v52.8M1315.5 529.7v51.4M1316.5 509.9v83.8M1317.5 503.5v70.9M1318.5 536.9v50.6M1319.5 515.4v54.5M1320.5 515.7v64.3M1321.5 525.9v69.6M1322.5 533.8v34.1M1323.5 518.5v43.5M1324.5 530.3v25.4M1325.5 526.2v43.6M1326.5 541.6v37.7M1327.5 509.3v63.6M1328.5 529.8v54.0M1329.5 538.7v29.9M1330.5 538.8v22.8M1331.5 528.0v23.3M1332.5 535.1v29.8M1333.5 528.4v41.5M1334.5 520.6v34.7M1335.5 505.5v38.5M1336.5 510.0v47.5M1337.5 497.2v42.3M1338.5 485.5v63.0M1339.5 521.1v34.0M1340.5 526.0v30.9M1341.5 524.6v41.2M1342.5 532.4v34.1M1343.5 523.3v52.7M1344.5 521.4v52.3M1345.5 507.7v52.9M1346.5 520.8v37.5M1347.5 529.6v27.1M1348.5 537.9v24.4M1349.5 508.4v53.4M1350.5 536.6v26.8M1351.5 519.2v53.7M1352.5 537.2v31.6M1353.5 525.0v34.5M1354.5 489.4v69.7M1355.5 504.8v100.9M1356.5 520.5v70.9M1357.5 511.2v76.9M1358.5 514.8v43.5M1359.5 505.3v37.1M1360.5 478.7v66.4M1361.5 513.7v25.2M1362.5 509.5v43.9M1363.5 486.3v75.6M1364.5 509.9v23.8M1365.5 498.6v42.5M1366.5 512.9v39.2M1367.5 518.2v40.8M1368.5 518.8v29.4M1369.5 526.5v31.7M1370.5 491.6v65.9M1371.5 507.3v39.6M1372.5 508.5v43.1M1373.5 522.8v63.1M1374.5 517.6v48.9M1375.5 522.7v37.7M1376.5 510.3v32.2M1377.5 514.7v29.0M1378.5 494.9v67.0M1379.5 512.8v20.8M1380.5 516.3v39.5M1381.5 510.3v34.1M1382.5 506.4v77.1M1383.5 508.9v25.7M1384.5 473.7v80.3M1385.5 523.8v22.4M1386.5 484.1v110.8M1387.5 492.5v46.8M1388.5 497.5v64.8M1389.5 508.8v36.3M1390.5 514.1v59.6M1391.5 501.9v43.1M1392.5 485.8v44.9M1393.5 505.9v27.3M1394.5 501.3v37.0M1395.5 497.7v46.3M1396.5 516.4v43.6M1397.5 523.4v26.0M1398.5 506.2v55.8M1399.5 537.6v20.2M1400.5 539.9v24.0M1401.5 518.0v50.8M1402.5 536.4v34.6M1403.5 515.2v77.6M1404.5 519.0v53.9M1405.5 514.8v40.6M1406.5 504.8v50.9M1407.5 510.2v35.6M1408.5 519.1v45.7M1409.5 504.0v50.4M1410.5 527.0v24.4M1411.5 518.7v44.3M1412.5 528.1v23.5M1413.5 511.4v46.4M1414.5 530.6v43.8M1415.5 535.7v26.8M1416.5 531.5v42.8M1417.5 536.4v20.9M1418.5 520.5v45.1M1419.5 533.6v62.6M1420.5 535.2v34.7M1421.5 532.6v32.7M1422.5 509.5v45.1M1423.5 532.0v35.8M1424.5 518.5v35.4M1425.5 521.9v54.6M1426.5 516.1v59.2M1427.5 508.1v63.9M1428.5 544.1v25.0M1429.5 529.6v47.8M1430.5 550.3v44.9M1431.5 541.2v51.5M1432.5 565.9v32.0M1433.5 557.4v43.6M1434.5 572.2v42.9M1435.5 578.6v28.9M1436.5 576.8v18.5M1437.5 559.0v59.0M1438.5 553.9v48.2M1439.5 567.0v53.4M1440.5 566.2v29.7M1441.5 549.4v35.7" fill="none" stroke="#d8d8d8" stroke-width="1"/></g>
<g clip-path="url(#cp7)"><path d="M830.5 890.8v77.2M831.5 914.0v51.3M832.5 858.0v87.3M833.5 894.5v35.9M834.5 906.9v29.1M835.5 869.8v73.3M836.5 879.5v73.6M837.5 880.0v52.6M838.5 892.9v53.5M839.5 860.0v89.6M840.5 897.9v40.1M841.5 910.1v30.8M842.5 909.6v45.0M843.5 905.5v32.0M844.5 908.4v49.0M845.5 905.6v41.0M846.5 908.0v20.9M847.5 886.1v47.2M848.5 887.7v53.7M849.5 906.8v37.9M850.5 901.2v37.1M851.5 907.1v50.6M852.5 898.3v43.8M853.5 896.7v40.0M854.5 910.9v28.9M855.5 885.0v67.7M856.5 906.0v32.8M857.5 890.5v35.0M858.5 880.1v40.2M859.5 864.5v52.6M860.5 876.8v42.2M861.5 866.1v45.4M862.5 879.8v35.6M863.5 868.8v54.7M864.5 876.7v61.0M865.5 879.4v19.9M866.5 865.3v69.8M867.5 876.7v43.6M868.5 852.3v56.4M869.5 880.4v31.1M870.5 885.1v31.1M871.5 874.5v34.4M872.5 852.9v58.2M873.5 835.4v77.4M874.5 870.3v54.4M875.5 862.9v60.5M876.5 875.9v29.2M877.5 880.4v32.6M878.5 891.8v60.7M879.5 895.4v37.1M880.5 861.5v93.2M881.5 886.1v87.2M882.5 889.2v70.9M883.5 911.9v55.5M884.5 927.7v32.8M885.5 922.7v48.8M886.5 928.9v26.0M887.5 918.7v43.1M888.5 912.3v55.5M889.5 916.1v52.2M890.5 927.0v43.1M891.5 908.4v32.6M892.5 914.6v26.2M893.5 900.1v37.9M894.5 892.2v53.0M895.5 878.6v48.6M896.5 896.9v36.2M897.5 894.1v44.3M898.5 906.0v36.2M899.5 888.1v62.7M900.5 902.1v46.0M901.5 922.5v22.8M902.5 902.3v59.0M903.5 912.3v67.0M904.5 934.5v23.3M905.5 931.5v23.4M906.5 914.2v54.8M907.5 920.4v59.6M908.5 920.4v36.8M909.5 904.9v59.9M910.5 892.2v50.3M911.5 899.5v36.0M912.5 875.1v57.0M913.5 883.6v44.5M914.5 868.0v69.9M915.5 885.7v29.4M916.5 854.8v96.8M917.5 894.7v36.2M918.5 867.2v67.4M919.5 885.8v31.9M920.5 893.8v40.5M921.5 881.5v48.1M922.5 864.7v52.4M923.5 882.2v47.6M924.5 877.0v40.0M925.5 891.8v28.6M926.5 889.3v27.1M927.5 884.3v81.4M928.5 881.4v38.2M929.5 839.8v62.8M930.5 869.6v50.0M931.5 862.3v29.5M932.5 844.1v61.3M933.5 859.6v46.7M934.5 866.7v29.3M935.5 858.5v61.9M936.5 841.4v68.3M937.5 880.3v29.6M938.5 875.3v42.2M939.5 879.2v50.1M940.5 864.0v52.1M941.5 894.2v32.0M942.5 896.0v21.5M943.5 900.6v55.0M944.5 872.4v47.9M945.5 909.5v28.1M946.5 906.9v33.7M947.5 903.5v63.9M948.5 884.3v95.8M949.5 931.3v44.1M950.5 929.7v35.1M951.5 926.3v38.4M952.5 917.7v59.7M953.5 937.6v69.3M954.5 937.8v33.8M955.5 917.2v31.9M956.5 915.7v32.1M957.5 889.4v62.4M958.5 916.2v39.8M959.5 908.3v43.0M960.5 904.9v37.3M961.5 887.9v47.0M962.5 904.1v41.8M963.5 898.5v36.3M964.5 877.1v91.0M965.5 910.5v25.6M966.5 901.8v49.2M967.5 914.8v27.3M968.5 928.8v40.8M969.5 910.5v43.0M970.5 910.3v40.0M971.5 927.9v33.5M972.5 924.0v29.2M973.5 924.8v48.3M974.5 922.9v51.6M975.5 921.2v34.8M976.5 919.8v37.7M977.5 902.2v41.3M978.5 920.0v20.4M979.5 908.7v38.7M980.5 894.8v65.5M981.5 903.8v40.8M982.5 910.4v27.0M983.5 908.9v34.1M984.5 884.9v77.6M985.5 907.2v44.6M986.5 921.1v17.0M987.5 905.7v41.6M988.5 890.8v51.4M989.5 926.0v26.9M990.5 924.0v56.1M991.5 929.7v23.8M992.5 901.9v58.1M993.5 900.6v57.7M994.5 910.9v65.0M995.5 944.0v33.0M996.5 944.7v31.0M997.5 944.3v43.7M998.5 918.5v59.4M999.5 934.4v49.5M1000.5 923.1v46.9M1001.5 935.8v44.5M1002.5 926.3v39.7M1003.5 903.9v50.2M1004.5 898.7v59.3M1005.5 924.5v37.3M1006.5 952.7v36.9M1007.5 920.0v62.2M1008.5 940.5v22.5M1009.5 933.1v54.1M1010.5 901.9v55.6M1011.5 894.7v75.5M1012.5 912.2v54.6M1013.5 927.9v39.2M1014.5 928.4v32.1M1015.5 919.2v50.5M1016.5 909.4v77.1M1017.5 888.2v80.9M1018.5 917.0v50.3M1019.5 934.6v45.1M1020.5 924.9v63.4M1021.5 919.7v61.0M1022.5 934.5v59.9M1023.5 924.6v42.3M1024.5 920.7v33.7M1025.5 910.1v45.2M1026.5 932.1v40.0M1027.5 910.2v56.8M1028.5 917.2v40.7M1029.5 925.5v32.6M1030.5 889.4v82.8M1031.5 918.9v36.6M1032.5 929.9v26.8M1033.5 925.3v25.8M1034.5 904.5v63.3M1035.5 902.8v79.6M1036.5 924.9v35.8M1037.5 886.4v90.5M1038.5 916.8v46.1M1039.5 922.0v43.8M1040.5 925.1v60.0M1041.5 934.2v34.2M1042.5 931.5v48.8M1043.5 942.8v25.3M1044.5 925.6v65.9M1045.5 923.5v50.3M1046.5 949.2v20.7M1047.5 932.8v38.8M1048.5 939.1v30.2M1049.5 941.7v38.3M1050.5 932.6v32.6M1051.5 932.3v39.3M1052.5 913.6v59.6M1053.5 935.9v39.0M1054.5 917.4v75.5M1055.5 938.7v38.5M1056.5 948.0v18.7M1057.5 933.9v66.9M1058.5 937.3v58.0M1059.5 928.8v34.9M1060.5 912.3v51.8M1061.5 922.0v41.3M1062.5 939.8v27.6M1063.5 934.4v49.3M1064.5 931.9v35.5M1065.5 944.3v37.3M1066.5 930.7v57.3M1067.5 945.3v30.7M1068.5 922.2v50.9M1069.5 945.5v24.4M1070.5 940.8v63.1M1071.5 937.3v26.6M1072.5 934.3v40.3M1073.5 935.1v51.9M1074.5 923.3v93.6M1075.5 886.3v81.8M1076.5 943.7v37.0M1077.5 925.0v41.4M1078.5 907.4v77.6M1079.5 904.5v71.4M1080.5 930.1v30.2M1081.5 892.8v79.2M1082.5 919.4v49.9M1083.5 908.2v49.3M1084.5 928.2v47.5M1085.5 927.5v19.8M1086.5 923.2v31.2M1087.5 919.9v50.5M1088.5 920.4v36.3M1089.5 925.7v30.2M1090.5 925.3v32.9M1091.5 909.9v75.6M1092.5 934.6v25.2M1093.5 937.5v26.6M1094.5 939.0v28.0M1095.5 929.4v41.4M1096.5 896.0v69.6M1097.5 941.8v30.1M1098.5 931.3v51.2M1099.5 935.6v33.3M1100.5 913.9v55.5M1101.5 923.0v37.1M1102.5 924.9v31.8M1103.5 920.8v43.4M1104.5 889.1v70.8M1105.5 914.7v27.5M1106.5 907.6v82.0M1107.5 924.4v39.4M1108.5 912.0v50.5M1109.5 907.3v45.4M1110.5 915.1v31.5M1111.5 925.3v47.7M1112.5 906.8v40.7M1113.5 895.7v57.0M1114.5 887.7v69.0M1115.5 915.2v24.7M1116.5 889.0v44.8M1117.5 901.3v49.4M1118.5 916.0v33.4M1119.5 890.4v72.0M1120.5 876.4v66.5M1121.5 925.6v21.6M1122.5 916.6v36.6M1123.5 923.3v49.4M1124.5 940.5v28.7M1125.5 915.2v52.8M1126.5 933.2v33.6M1127.5 903.2v48.5M1128.5 928.1v49.0M1129.5 913.4v77.6M1130.5 916.9v57.6M1131.5 911.4v50.4M1132.5 915.3v62.5M1133.5 896.3v76.7M1134.5 913.5v35.4M1135.5 906.2v41.1M1136.5 896.5v52.1M1137.5 900.4v38.7M1138.5 906.3v50.1M1139.5 910.8v22.0M1140.5 882.4v66.0M1141.5 894.2v38.0M1142.5 906.0v26.6M1143.5 888.4v44.3M1144.5 902.0v20.1M1145.5 894.0v30.9M1146.5 886.4v33.7M1147.5 887.1v32.9M1148.5 891.8v45.8M1149.5 895.7v32.1M1150.5 902.7v44.9M1151.5 906.5v31.9M1152.5 913.8v24.5M1153.5 895.3v38.5M1154.5 907.3v28.1M1155.5 884.4v63.3M1156.5 894.2v45.6M1157.5 875.0v37.2M1158.5 877.1v55.5M1159.5 884.8v46.4M1160.5 874.9v61.7M1161.5 889.2v22.3M1162.5 872.0v47.4M1163.5 893.8v34.0M1164.5 882.2v26.4M1165.5 866.0v44.2M1166.5 868.5v40.2M1167.5 871.6v42.0M1168.5 890.5v27.6M1169.5 861.0v51.1M1170.5 887.6v29.4M1171.5 885.5v36.1M1172.5 882.7v51.0M1173.5 873.5v51.0M1174.5 886.2v41.9M1175.5 870.1v64.9M1176.5 849.6v45.2M1177.5 852.6v65.0M1178.5 862.4v31.9M1179.5 826.1v57.0M1180.5 857.9v38.4M1181.5 844.9v42.1M1182.5 840.1v55.8M1183.5 867.0v25.1M1184.5 856.3v44.3M1185.5 856.5v43.6M1186.5 831.4v48.1M1187.5 834.0v49.7M1188.5 832.1v27.4M1189.5 836.4v28.9M1190.5 826.1v25.2M1191.5 817.3v28.4M1192.5 821.7v36.1M1193.5 774.0v67.1M1194.5 817.1v28.6M1195.5 790.0v84.4M1196.5 828.2v49.1M1197.5 812.2v57.8M1198.5 825.1v40.5M1199.5 832.7v43.4M1200.5 839.6v29.0M1201.5 814.6v64.1M1202.5 828.7v54.9M1203.5 831.8v58.3M1204.5 837.7v25.1M1205.5 836.1v48.4M1206.5 789.3v78.4M1207.5 806.7v52.7M1208.5 834.3v26.5M1209.5 821.7v59.8M1210.5 833.2v30.3M1211.5 804.2v82.5M1212.5 833.0v53.9M1213.5 827.3v83.6M1214.5 845.3v40.8M1215.5 838.8v45.4M1216.5 817.8v80.2M1217.5 856.6v35.4M1218.5 831.0v56.1M1219.5 846.5v48.4M1220.5 845.0v42.5M1221.5 854.6v68.9M1222.5 854.5v34.6M1223.5 856.9v42.4M1224.5 822.7v69.9M1225.5 863.5v47.5M1226.5 870.8v41.2M1227.5 859.0v64.2M1228.5 852.6v70.5M1229.5 859.8v43.9M1230.5 861.6v62.2M1231.5 858.6v53.8M1232.5 868.9v39.4M1233.5 858.6v30.7M1234.5 860.4v55.1M1235.5 861.5v31.3M1236.5 852.6v39.3M1237.5 876.7v54.4M1238.5 870.0v49.4M1239.5 873.5v40.4M1240.5 878.7v41.6M1241.5 850.2v49.1M1242.5 858.9v41.2M1243.5 833.4v85.7M1244.5 828.8v54.5M1245.5 842.1v36.1M1246.5 826.7v49.6M1247.5 817.4v57.4M1248.5 808.6v73.5M1249.5 828.2v29.2M1250.5 838.6v50.5M1251.5 844.8v23.4M1252.5 838.5v47.9M1253.5 827.1v44.7M1254.5 831.5v53.2M1255.5 837.8v49.4M1256.5 829.2v36.5M1257.5 825.2v37.3M1258.5 845.5v26.3M1259.5 804.1v67.6M1260.5 815.5v56.0M1261.5 829.3v49.3M1262.5 829.4v35.6M1263.5 830.4v38.2M1264.5 817.7v49.3M1265.5 834.8v35.7M1266.5 810.6v43.5M1267.5 802.5v50.7M1268.5 795.5v66.8M1269.5 821.5v28.9M1270.5 824.1v44.6M1271.5 808.6v46.5M1272.5 820.9v27.7M1273.5 791.0v59.4M1274.5 828.0v30.4M1275.5 795.8v82.0M1276.5 836.2v42.3M1277.5 813.9v58.8M1278.5 842.1v38.3M1279.5 840.8v29.1M1280.5 835.1v35.7M1281.5 840.4v23.7M1282.5 804.6v84.9M1283.5 821.5v81.9M1284.5 830.4v44.5M1285.5 824.6v59.7M1286.5 849.4v22.1M1287.5 845.7v36.9M1288.5 829.8v41.4M1289.5 850.8v39.9M1290.5 837.1v63.7M1291.5 838.7v46.6M1292.5 823.8v46.0M1293.5 844.5v47.7M1294.5 849.7v25.4M1295.5 854.4v35.4M1296.5 841.4v33.0M1297.5 850.8v75.8M1298.5 832.9v57.7M1299.5 851.4v27.1M1300.5 848.7v58.6M1301.5 857.9v38.6M1302.5 848.0v29.7M1303.5 841.3v35.9M1304.5 848.7v21.8M1305.5 825.7v60.7M1306.5 850.3v42.2M1307.5 852.9v35.9M1308.5 859.7v20.0M1309.5 840.0v41.2M1310.5 855.3v42.7M1311.5 858.0v20.3M1312.5 836.4v55.8M1313.5 841.8v40.2M1314.5 824.9v52.8M1315.5 835.5v39.7M1316.5 825.2v49.5M1317.5 848.9v35.5M1318.5 839.6v42.3M1319.5 845.0v54.4M1320.5 855.8v39.8M1321.5 846.8v46.4M1322.5 846.4v51.4M1323.5 860.5v45.6M1324.5 860.8v54.5M1325.5 851.2v49.1M1326.5 858.1v54.2M1327.5 864.8v46.9M1328.5 848.7v54.6M1329.5 888.3v34.3M1330.5 864.3v43.2M1331.5 870.7v52.3M1332.5 886.8v25.0M1333.5 896.9v26.3M1334.5 892.8v22.1M1335.5 868.3v91.0M1336.5 872.2v38.0M1337.5 862.4v52.1M1338.5 821.0v88.9M1339.5 868.7v43.6M1340.5 863.5v44.9M1341.5 873.5v24.7M1342.5 865.4v18.4M1343.5 835.3v70.8M1344.5 861.6v51.4M1345.5 860.7v22.8M1346.5 857.3v38.5M1347.5 858.9v37.7M1348.5 856.8v42.3M1349.5 851.4v41.5M1350.5 858.0v48.0M1351.5 832.2v55.4M1352.5 857.1v40.0M1353.5 852.9v21.8M1354.5 853.8v32.0M1355.5 808.7v62.5M1356.5 826.6v71.4M1357.5 819.5v71.0M1358.5 844.8v34.3M1359.5 849.8v42.3M1360.5 839.3v43.2M1361.5 862.8v32.3M1362.5 860.8v28.9M1363.5 846.3v45.3M1364.5 844.0v56.5M1365.5 861.0v30.0M1366.5 844.4v35.2M1367.5 855.5v39.8M1368.5 853.7v33.7M1369.5 848.3v52.3M1370.5 835.3v59.5M1371.5 847.1v48.0M1372.5 837.1v62.1M1373.5 862.6v29.5M1374.5 820.3v86.7M1375.5 845.5v40.2M1376.5 853.3v39.3M1377.5 872.9v36.9M1378.5 864.8v41.5M1379.5 873.4v24.0M1380.5 873.2v25.8M1381.5 844.5v59.2M1382.5 853.0v46.3M1383.5 826.3v80.9M1384.5 875.9v52.3M1385.5 861.5v43.2M1386.5 872.6v33.4M1387.5 833.7v84.3M1388.5 857.8v67.9M1389.5 872.2v44.0M1390.5 864.5v40.6M1391.5 852.5v50.0M1392.5 863.7v68.9M1393.5 873.4v44.2M1394.5 874.0v44.7M1395.5 893.0v37.5M1396.5 893.3v42.9M1397.5 878.0v33.1M1398.5 868.2v32.1M1399.5 879.5v34.1M1400.5 869.2v30.4M1401.5 877.0v27.5M1402.5 857.5v35.1M1403.5 875.8v18.2M1404.5 862.2v29.7M1405.5 872.6v28.2M1406.5 869.3v25.5M1407.5 869.7v22.2M1408.5 839.4v61.1M1409.5 867.6v25.2M1410.5 860.9v26.4M1411.5 862.0v18.6M1412.5 837.3v55.2M1413.5 859.3v25.6M1414.5 844.9v36.2M1415.5 843.7v69.7M1416.5 862.8v57.4M1417.5 851.7v48.9M1418.5 844.3v42.0M1419.5 840.0v64.7M1420.5 846.6v71.8M1421.5 847.6v53.8M1422.5 861.8v39.0M1423.5 877.8v32.2M1424.5 870.5v37.7M1425.5 871.9v30.9M1426.5 875.9v69.1M1427.5 861.0v41.4M1428.5 853.8v56.4M1429.5 871.4v33.5M1430.5 856.9v68.5M1431.5 872.9v49.1M1432.5 867.4v34.4M1433.5 877.0v26.0M1434.5 879.0v54.7M1435.5 883.0v21.4M1436.5 877.8v40.5M1437.5 880.3v41.1M1438.5 883.2v31.7M1439.5 884.0v25.6M1440.5 893.2v21.2M1441.5 871.7v55.0M1442.5 880.8v33.7" fill="none" stroke="#d8d8d8" stroke-width="1"/></g>
<g clip-path="url(#cp8)"><path d="M831.5 1080.5v37.3M832.5 1088.2v23.5M833.5 1064.3v65.7M834.5 1086.6v40.7M835.5 1106.8v23.7M836.5 1112.2v22.7M837.5 1113.8v24.6M838.5 1118.0v30.6M839.5 1110.9v34.8M840.5 1108.4v43.7M841.5 1089.5v71.9M842.5 1096.1v54.6M843.5 1081.3v70.8M844.5 1100.3v49.5M845.5 1104.3v47.1M846.5 1101.0v59.3M847.5 1111.4v57.2M848.5 1086.6v60.3M849.5 1093.1v37.0M850.5 1103.3v29.9M851.5 1101.2v28.4M852.5 1087.9v49.5M853.5 1091.9v53.0M854.5 1097.1v47.5M855.5 1104.6v51.2M856.5 1123.8v60.9M857.5 1092.5v62.7M858.5 1121.0v36.3M859.5 1075.6v90.2M860.5 1134.5v51.0M861.5 1101.7v55.3M862.5 1101.8v45.8M863.5 1109.9v38.1M864.5 1120.2v43.2M865.5 1122.8v39.7M866.5 1113.7v59.7M867.5 1128.7v43.1M868.5 1118.9v74.4M869.5 1106.7v63.1M870.5 1124.1v57.0M871.5 1148.9v35.8M872.5 1155.9v74.5M873.5 1150.4v48.2M874.5 1169.2v21.5M875.5 1133.1v62.8M876.5 1149.3v33.3M877.5 1163.4v55.1M878.5 1153.9v43.8M879.5 1143.4v29.5M880.5 1124.4v69.6M881.5 1122.4v51.2M882.5 1122.9v45.9M883.5 1145.9v22.2M884.5 1141.7v38.3M885.5 1126.0v31.2M886.5 1133.3v33.3M887.5 1115.8v45.8M888.5 1124.9v33.8M889.5 1127.2v31.5M890.5 1115.1v52.4M891.5 1130.2v21.5M892.5 1111.8v40.0M893.5 1121.5v41.6M894.5 1124.1v28.7M895.5 1129.2v50.9M896.5 1117.6v37.2M897.5 1122.2v27.9M898.5 1123.1v40.7M899.5 1101.9v67.7M900.5 1117.2v30.0M901.5 1123.5v24.8M902.5 1111.5v43.9M903.5 1125.1v23.7M904.5 1113.0v58.6M905.5 1108.1v57.0M906.5 1091.9v50.7M907.5 1124.7v21.8M908.5 1118.8v44.0M909.5 1104.2v54.6M910.5 1109.2v58.6M911.5 1139.9v28.7M912.5 1130.8v51.7M913.5 1130.0v33.7M914.5 1129.3v51.7M915.5 1098.3v69.3M916.5 1087.6v76.1M917.5 1105.9v76.3M918.5 1111.0v32.8M919.5 1085.9v74.1M920.5 1098.8v73.1M921.5 1116.5v38.7M922.5 1119.7v35.5M923.5 1117.3v39.9M924.5 1079.0v91.0M925.5 1096.8v78.1M926.5 1112.4v58.1M927.5 1098.1v65.3M928.5 1126.0v32.0M929.5 1135.1v35.8M930.5 1140.8v45.6M931.5 1124.2v41.8M932.5 1154.0v22.4M933.5 1131.7v36.8M934.5 1089.2v94.5M935.5 1136.3v51.2M936.5 1123.4v62.2M937.5 1125.7v42.6M938.5 1109.0v47.0M939.5 1136.1v28.7M940.5 1121.5v54.3M941.5 1130.9v48.0M942.5 1125.6v59.6M943.5 1137.6v33.2M944.5 1115.3v54.8M945.5 1140.9v33.5M946.5 1142.2v25.6M947.5 1128.7v45.5M948.5 1148.6v31.6M949.5 1146.6v82.1M950.5 1163.4v35.9M951.5 1148.7v43.2M952.5 1150.7v39.9M953.5 1150.7v40.7M954.5 1169.3v22.1M955.5 1177.0v19.9M956.5 1179.2v36.3M957.5 1149.7v68.6M958.5 1181.0v38.1M959.5 1190.0v54.7M960.5 1176.3v71.4M961.5 1189.4v59.3M962.5 1167.4v72.8M963.5 1148.2v67.3M964.5 1192.6v39.5M965.5 1187.4v44.0M966.5 1196.0v22.0M967.5 1187.7v37.5M968.5 1165.8v60.4M969.5 1175.7v42.1M970.5 1120.2v108.5M971.5 1169.1v53.5M972.5 1162.0v32.7M973.5 1151.2v43.3M974.5 1163.2v60.2M975.5 1158.1v32.5M976.5 1146.3v51.4M977.5 1153.0v41.8M978.5 1155.6v34.2M979.5 1152.0v38.8M980.5 1129.9v66.0M981.5 1153.9v52.0M982.5 1152.5v46.7M983.5 1162.8v54.6M984.5 1155.3v29.7M985.5 1130.1v71.0M986.5 1130.6v54.1M987.5 1157.5v60.0M988.5 1151.2v45.4M989.5 1156.0v40.9M990.5 1124.9v88.0M991.5 1109.1v79.5M992.5 1167.9v35.4M993.5 1172.9v32.4M994.5 1165.6v40.6M995.5 1179.6v27.3M996.5 1158.7v57.9M997.5 1166.3v55.8M998.5 1158.0v88.4M999.5 1165.5v78.3M1000.5 1164.9v49.5M1001.5 1183.0v49.7M1002.5 1185.4v42.8M1003.5 1196.8v34.9M1004.5 1212.8v29.4M1005.5 1224.2v31.5M1006.5 1191.5v81.6M1007.5 1216.9v39.3M1008.5 1229.0v26.5M1009.5 1221.5v36.4M1010.5 1179.2v75.3M1011.5 1204.1v44.5M1012.5 1205.1v42.2M1013.5 1220.0v18.8M1014.5 1204.9v46.0M1015.5 1201.4v22.3M1016.5 1147.4v75.6M1017.5 1168.8v67.4M1018.5 1184.7v29.9M1019.5 1164.2v36.9M1020.5 1164.2v44.5M1021.5 1183.0v61.8M1022.5 1170.9v41.1M1023.5 1155.1v57.1M1024.5 1146.2v88.2M1025.5 1177.7v54.1M1026.5 1193.3v32.6M1027.5 1193.9v43.2M1028.5 1153.3v76.8M1029.5 1192.3v35.0M1030.5 1190.5v52.7M1031.5 1188.3v41.0M1032.5 1191.4v66.4M1033.5 1207.2v16.9M1034.5 1193.6v34.4M1035.5 1202.0v28.4M1036.5 1200.8v28.8M1037.5 1181.2v73.8M1038.5 1205.7v30.2M1039.5 1200.7v66.7M1040.5 1206.1v34.5M1041.5 1198.2v38.8M1042.5 1182.7v49.7M1043.5 1196.3v31.3M1044.5 1197.1v41.7M1045.5 1170.0v62.4M1046.5 1178.6v80.4M1047.5 1181.8v49.2M1048.5 1198.7v35.1M1049.5 1175.5v59.0M1050.5 1205.5v29.6M1051.5 1210.5v24.9M1052.5 1183.5v72.9M1053.5 1195.0v33.2M1054.5 1170.3v70.1M1055.5 1214.4v19.0M1056.5 1215.4v29.5M1057.5 1211.2v35.4M1058.5 1173.9v78.9M1059.5 1201.5v44.3M1060.5 1203.8v54.0M1061.5 1217.9v64.0M1062.5 1215.3v37.0M1063.5 1208.2v78.3M1064.5 1202.7v51.1M1065.5 1222.8v25.0M1066.5 1223.8v19.6M1067.5 1218.2v38.7M1068.5 1225.0v31.3M1069.5 1193.8v84.5M1070.5 1221.5v36.8M1071.5 1210.7v78.1M1072.5 1236.2v23.3M1073.5 1222.0v39.8M1074.5 1234.7v47.7M1075.5 1237.1v23.2M1076.5 1243.4v47.2M1077.5 1233.7v48.9M1078.5 1221.5v61.4M1079.5 1217.3v52.8M1080.5 1238.4v65.7M1081.5 1240.8v44.4M1082.5 1227.8v59.5M1083.5 1220.3v29.2M1084.5 1208.1v43.8M1085.5 1203.6v42.1M1086.5 1207.1v31.9M1087.5 1184.1v56.0M1088.5 1215.5v31.5M1089.5 1192.4v58.0M1090.5 1173.9v62.0M1091.5 1198.3v39.6M1092.5 1203.0v54.3M1093.5 1184.6v69.6M1094.5 1221.4v40.6M1095.5 1229.2v35.9M1096.5 1230.9v22.0M1097.5 1207.6v58.5M1098.5 1189.5v54.0M1099.5 1203.9v47.1M1100.5 1213.8v35.4M1101.5 1194.7v58.1M1102.5 1219.1v57.7M1103.5 1213.9v57.0M1104.5 1207.3v37.6M1105.5 1211.9v36.9M1106.5 1207.7v46.0M1107.5 1210.0v30.6M1108.5 1221.3v17.9M1109.5 1206.3v40.6M1110.5 1194.3v52.0M1111.5 1219.1v36.1M1112.5 1198.9v43.9M1113.5 1194.1v51.2M1114.5 1210.0v24.9M1115.5 1206.3v23.9M1116.5 1184.0v66.2M1117.5 1200.0v31.2M1118.5 1195.4v43.3M1119.5 1198.3v33.5M1120.5 1206.7v51.2M1121.5 1212.0v33.0M1122.5 1178.6v65.3M1123.5 1209.4v51.4M1124.5 1220.3v56.5M1125.5 1239.0v18.4M1126.5 1235.0v54.2M1127.5 1237.7v27.6M1128.5 1220.9v69.8M1129.5 1230.4v24.0M1130.5 1210.3v40.9M1131.5 1215.7v26.7M1132.5 1208.8v44.5M1133.5 1220.6v33.9M1134.5 1195.0v47.2M1135.5 1200.6v37.1M1136.5 1190.2v49.7M1137.5 1211.1v29.5M1138.5 1197.5v57.4M1139.5 1193.8v45.4M1140.5 1187.5v49.2M1141.5 1182.7v52.0M1142.5 1191.3v54.7M1143.5 1192.6v41.0M1144.5 1191.4v59.9M1145.5 1166.8v71.8M1146.5 1178.9v60.0M1147.5 1174.2v94.9M1148.5 1183.1v34.5M1149.5 1182.7v42.1M1150.5 1181.6v37.4M1151.5 1156.0v59.3M1152.5 1191.8v41.8M1153.5 1172.9v61.6M1154.5 1165.5v49.6M1155.5 1168.3v54.7M1156.5 1171.3v52.5M1157.5 1156.1v46.1M1158.5 1174.2v28.3M1159.5 1163.9v44.7M1160.5 1159.5v55.8M1161.5 1171.9v54.8M1162.5 1186.8v47.9M1163.5 1188.0v75.3M1164.5 1185.8v76.6M1165.5 1218.8v28.2M1166.5 1192.4v74.2M1167.5 1223.4v21.3M1168.5 1174.9v68.7M1169.5 1216.2v35.7M1170.5 1189.1v55.0M1171.5 1203.4v50.4M1172.5 1225.9v39.2M1173.5 1226.7v31.4M1174.5 1226.5v27.2M1175.5 1221.0v33.5M1176.5 1218.1v31.4M1177.5 1203.1v62.4M1178.5 1200.8v58.5M1179.5 1230.3v19.9M1180.5 1219.2v34.0M1181.5 1233.0v38.8M1182.5 1233.7v25.0M1183.5 1234.2v40.8M1184.5 1234.7v40.0M1185.5 1207.9v60.0M1186.5 1243.4v21.4M1187.5 1235.3v34.0M1188.5 1218.5v76.9M1189.5 1215.8v63.1M1190.5 1232.9v52.2M1191.5 1251.2v48.0M1192.5 1233.6v50.4M1193.5 1254.9v23.1M1194.5 1235.5v66.6M1195.5 1220.3v47.3M1196.5 1204.0v56.3M1197.5 1219.2v37.8M1198.5 1202.8v53.9M1199.5 1218.9v42.6M1200.5 1214.4v37.2M1201.5 1206.3v51.2M1202.5 1228.1v21.8M1203.5 1206.5v60.4M1204.5 1220.3v52.0M1205.5 1203.0v33.3M1206.5 1213.2v39.9M1207.5 1222.8v56.2M1208.5 1194.3v56.7M1209.5 1217.4v40.9M1210.5 1226.9v33.9M1211.5 1210.5v57.7M1212.5 1224.8v38.4M1213.5 1223.9v27.0M1214.5 1212.9v58.0M1215.5 1223.4v39.7M1216.5 1233.5v27.9M1217.5 1238.0v30.9M1218.5 1226.1v66.9M1219.5 1255.6v35.6M1220.5 1228.6v74.8M1221.5 1254.6v37.5M1222.5 1242.2v56.4M1223.5 1249.6v21.8M1224.5 1221.8v47.9M1225.5 1249.6v16.8M1226.5 1213.0v59.4M1227.5 1254.3v29.4M1228.5 1245.4v38.7M1229.5 1234.9v38.1M1230.5 1236.3v56.1M1231.5 1250.6v24.6M1232.5 1222.6v94.5M1233.5 1246.6v43.5M1234.5 1261.8v17.3M1235.5 1222.4v82.7M1236.5 1253.5v41.6M1237.5 1242.2v74.7M1238.5 1237.7v55.5M1239.5 1248.9v43.4M1240.5 1258.5v38.8M1241.5 1257.3v52.7M1242.5 1254.6v49.5M1243.5 1263.3v16.8M1244.5 1249.8v25.1M1245.5 1231.6v73.7M1246.5 1234.0v32.8M1247.5 1244.8v25.7M1248.5 1238.5v20.4M1249.5 1238.1v64.0M1250.5 1222.1v96.5M1251.5 1242.5v34.3M1252.5 1233.5v69.6M1253.5 1236.8v72.5M1254.5 1273.8v26.1M1255.5 1271.0v38.3M1256.5 1275.8v17.1M1257.5 1252.9v43.5M1258.5 1265.8v27.1M1259.5 1241.7v37.8M1260.5 1245.3v42.3M1261.5 1245.2v31.9M1262.5 1240.8v46.8M1263.5 1248.2v25.7M1264.5 1252.7v41.6M1265.5 1217.4v54.5M1266.5 1237.1v44.3M1267.5 1258.4v32.8M1268.5 1240.4v39.6M1269.5 1255.1v40.7M1270.5 1259.4v25.9M1271.5 1268.8v19.3M1272.5 1227.0v76.4M1273.5 1222.6v62.9M1274.5 1248.3v48.7M1275.5 1256.1v51.4M1276.5 1225.6v61.6M1277.5 1242.6v46.5M1278.5 1264.7v49.0M1279.5 1269.1v27.7M1280.5 1257.7v45.3M1281.5 1232.1v67.3M1282.5 1234.3v78.9M1283.5 1259.7v49.4M1284.5 1260.5v36.8M1285.5 1265.2v41.9M1286.5 1239.8v86.3" fill="none" stroke="#d8d8d8" stroke-width="1"/></g>
<g clip-path="url(#cp9)"><path d="M830.5 1452.2v57.0M831.5 1443.5v70.9M832.5 1483.2v20.0M833.5 1472.7v33.4M834.5 1468.4v47.1M835.5 1466.7v44.9M836.5 1482.0v57.1M837.5 1452.6v57.7M838.5 1455.2v54.5M839.5 1444.6v36.2M840.5 1435.1v49.9M841.5 1436.9v35.3M842.5 1418.5v68.6M843.5 1452.8v36.8M844.5 1428.1v49.6M845.5 1461.9v52.9M846.5 1453.9v31.6M847.5 1456.5v57.9M848.5 1442.0v37.1M849.5 1429.2v49.5M850.5 1424.7v53.4M851.5 1427.2v30.2M852.5 1411.2v47.2M853.5 1419.3v33.4M854.5 1414.6v39.5M855.5 1424.5v23.3M856.5 1427.1v35.5M857.5 1375.8v78.5M858.5 1414.7v24.7M859.5 1405.7v55.3M860.5 1412.2v44.5M861.5 1405.3v48.5M862.5 1409.3v23.3M863.5 1379.0v67.7M864.5 1404.7v15.9M865.5 1408.7v25.2M866.5 1365.6v69.0M867.5 1413.0v31.1M868.5 1414.4v35.1M869.5 1416.7v46.2M870.5 1410.3v35.1M871.5 1411.9v39.8M872.5 1389.5v53.7M873.5 1401.2v62.4M874.5 1411.4v27.3M875.5 1408.6v41.4M876.5 1411.2v26.8M877.5 1412.5v61.1M878.5 1415.3v42.3M879.5 1425.0v21.5M880.5 1419.7v32.4M881.5 1436.6v32.1M882.5 1413.5v51.0M883.5 1419.4v62.9M884.5 1429.3v26.9M885.5 1439.2v26.9M886.5 1435.2v22.2M887.5 1436.8v34.6M888.5 1431.9v42.1M889.5 1441.4v42.9M890.5 1441.4v37.1M891.5 1462.4v34.1M892.5 1465.8v63.6M893.5 1464.8v41.7M894.5 1448.8v46.6M895.5 1443.0v66.7M896.5 1432.8v73.4M897.5 1450.0v38.9M898.5 1431.4v51.3M899.5 1413.3v83.4M900.5 1429.8v59.3M901.5 1422.7v50.3M902.5 1412.7v60.9M903.5 1435.9v33.9M904.5 1440.8v63.0M905.5 1444.5v35.4M906.5 1431.7v56.5M907.5 1448.3v31.7M908.5 1456.4v33.8M909.5 1456.2v44.7M910.5 1461.4v34.8M911.5 1454.3v29.9M912.5 1453.4v31.6M913.5 1435.6v42.4M914.5 1420.3v78.6M915.5 1423.4v59.8M916.5 1417.2v60.4M917.5 1431.7v54.5M918.5 1436.8v41.4M919.5 1423.8v42.9M920.5 1416.6v50.4M921.5 1405.3v59.9M922.5 1423.9v55.0M923.5 1442.9v21.9M924.5 1426.7v51.4M925.5 1435.1v48.3M926.5 1450.4v24.7M927.5 1422.6v68.0M928.5 1401.2v69.5M929.5 1444.2v34.2M930.5 1424.8v53.3M931.5 1435.1v40.9M932.5 1435.1v29.0M933.5 1436.7v36.1M934.5 1428.0v63.5M935.5 1435.3v60.3M936.5 1407.8v55.7M937.5 1424.1v38.3M938.5 1416.0v34.2M939.5 1401.5v53.8M940.5 1420.9v41.1M941.5 1436.6v38.0M942.5 1451.5v35.4M943.5 1454.3v41.7M944.5 1458.4v35.8M945.5 1462.2v31.5M946.5 1465.3v49.1M947.5 1453.5v65.5M948.5 1450.1v58.1M949.5 1472.1v50.2M950.5 1409.6v92.4M951.5 1464.2v36.7M952.5 1451.2v28.4M953.5 1450.3v20.1M954.5 1432.4v27.6M955.5 1440.3v28.5M956.5 1414.9v44.3M957.5 1394.2v58.3M958.5 1431.3v27.9M959.5 1405.0v80.5M960.5 1436.1v27.3M961.5 1437.9v20.2M962.5 1433.0v33.5M963.5 1424.8v35.9M964.5 1409.1v52.5M965.5 1437.1v41.8M966.5 1425.9v29.7M967.5 1432.8v31.5M968.5 1435.5v39.2M969.5 1423.7v70.8M970.5 1426.7v53.4M971.5 1417.2v69.2M972.5 1377.1v86.8M973.5 1417.8v60.2M974.5 1420.9v27.8M975.5 1403.1v54.2M976.5 1403.1v26.5M977.5 1381.4v39.0M978.5 1409.7v16.1M979.5 1412.4v65.5M980.5 1399.6v43.9M981.5 1407.9v58.9M982.5 1428.7v21.0M983.5 1425.9v48.1M984.5 1437.6v43.8M985.5 1433.7v23.3M986.5 1432.4v26.2M987.5 1435.7v24.0M988.5 1426.5v36.7M989.5 1430.9v16.6M990.5 1414.4v51.4M991.5 1387.5v67.5M992.5 1394.4v66.1M993.5 1401.4v48.0M994.5 1399.3v47.3M995.5 1401.0v66.4M996.5 1419.3v28.5M997.5 1433.3v25.5M998.5 1409.6v91.7M999.5 1395.0v67.8M1000.5 1415.3v50.9M1001.5 1405.8v46.4M1002.5 1388.9v62.5M1003.5 1401.1v33.0M1004.5 1376.9v48.6M1005.5 1377.7v39.2M1006.5 1376.7v48.4M1007.5 1393.8v32.0M1008.5 1403.7v22.6M1009.5 1396.2v36.2M1010.5 1379.9v70.9M1011.5 1397.6v40.8M1012.5 1387.8v51.8M1013.5 1390.6v56.1M1014.5 1383.6v47.1M1015.5 1404.0v46.5M1016.5 1391.8v72.8M1017.5 1402.3v48.9M1018.5 1407.1v33.6M1019.5 1381.4v68.4M1020.5 1373.9v71.1M1021.5 1387.4v55.2M1022.5 1405.7v17.1M1023.5 1384.1v38.5M1024.5 1379.7v46.7M1025.5 1390.1v41.7M1026.5 1379.3v65.9M1027.5 1389.4v34.2M1028.5 1378.7v56.2M1029.5 1373.3v49.7M1030.5 1341.9v93.4M1031.5 1382.3v33.9M1032.5 1394.6v34.6M1033.5 1387.5v62.6M1034.5 1382.1v43.8M1035.5 1371.2v52.1M1036.5 1397.0v44.4M1037.5 1392.5v36.5M1038.5 1396.9v43.8M1039.5 1411.2v46.8M1040.5 1387.5v54.7M1041.5 1412.6v37.8M1042.5 1399.6v71.4M1043.5 1421.4v42.2M1044.5 1422.1v40.8M1045.5 1411.2v47.3M1046.5 1404.6v54.2M1047.5 1427.4v41.2M1048.5 1416.4v43.0M1049.5 1413.5v46.4M1050.5 1425.6v22.8M1051.5 1404.6v53.5M1052.5 1413.2v34.8M1053.5 1369.7v83.7M1054.5 1418.9v34.1M1055.5 1417.0v17.1M1056.5 1382.4v69.4M1057.5 1384.8v60.9M1058.5 1389.1v60.8M1059.5 1406.0v21.4M1060.5 1394.1v42.4M1061.5 1396.5v29.6M1062.5 1392.7v29.4M1063.5 1397.1v43.7M1064.5 1391.2v48.3M1065.5 1361.8v59.5M1066.5 1378.3v36.7M1067.5 1377.5v61.7M1068.5 1394.5v50.6M1069.5 1404.1v28.3M1070.5 1399.5v59.2M1071.5 1357.9v87.2M1072.5 1364.1v92.0M1073.5 1407.6v44.3M1074.5 1420.8v23.9M1075.5 1405.9v39.7M1076.5 1407.5v51.3M1077.5 1421.8v45.0M1078.5 1411.1v53.2M1079.5 1416.4v30.3M1080.5 1420.0v53.1M1081.5 1421.0v21.1M1082.5 1398.7v94.5M1083.5 1406.3v44.2M1084.5 1409.9v46.8M1085.5 1389.5v61.2M1086.5 1382.3v51.1M1087.5 1397.2v32.3M1088.5 1382.3v56.2M1089.5 1399.9v28.8M1090.5 1382.4v65.9M1091.5 1375.5v66.4M1092.5 1388.7v51.5M1093.5 1389.1v31.6M1094.5 1374.1v69.9M1095.5 1373.5v66.1M1096.5 1403.7v36.2M1097.5 1392.5v33.9M1098.5 1403.6v28.3M1099.5 1382.5v45.2M1100.5 1396.1v30.4M1101.5 1387.0v48.2M1102.5 1402.8v38.7M1103.5 1406.7v24.0M1104.5 1373.0v55.7M1105.5 1402.1v33.8M1106.5 1383.4v72.8M1107.5 1405.2v45.9M1108.5 1387.0v44.6M1109.5 1403.8v31.5M1110.5 1408.5v54.9M1111.5 1394.2v72.4M1112.5 1409.4v47.3M1113.5 1359.5v100.3M1114.5 1413.9v21.8M1115.5 1405.9v43.1M1116.5 1392.7v53.2M1117.5 1408.9v60.2M1118.5 1397.9v46.6M1119.5 1418.1v39.5M1120.5 1404.6v54.7M1121.5 1417.2v48.1M1122.5 1427.8v19.4M1123.5 1393.3v64.9M1124.5 1398.4v62.7M1125.5 1419.7v38.8M1126.5 1415.8v54.1M1127.5 1408.1v50.2M1128.5 1414.4v41.5M1129.5 1416.4v50.0M1130.5 1418.0v32.2M1131.5 1421.6v24.8M1132.5 1414.5v43.1M1133.5 1396.8v50.9M1134.5 1409.2v37.3M1135.5 1417.3v33.3M1136.5 1421.7v43.1M1137.5 1411.5v45.0M1138.5 1403.6v56.9M1139.5 1414.2v32.1M1140.5 1413.4v60.9M1141.5 1407.3v52.5M1142.5 1408.2v51.4M1143.5 1414.0v35.0M1144.5 1389.3v62.6M1145.5 1394.4v64.6M1146.5 1397.0v43.9M1147.5 1413.7v33.3M1148.5 1405.6v51.2M1149.5 1407.3v82.5M1150.5 1416.3v25.3M1151.5 1392.0v45.4M1152.5 1408.1v37.3M1153.5 1374.4v76.0M1154.5 1396.5v36.8M1155.5 1405.9v30.6M1156.5 1390.6v50.1M1157.5 1394.6v31.4M1158.5 1397.0v46.9M1159.5 1381.7v46.2M1160.5 1371.8v48.4M1161.5 1383.2v38.9M1162.5 1381.4v50.0M1163.5 1380.8v46.5M1164.5 1403.8v36.3M1165.5 1399.5v33.1M1166.5 1402.1v27.0M1167.5 1408.4v68.8M1168.5 1377.6v63.1M1169.5 1409.0v29.2M1170.5 1373.4v57.5M1171.5 1391.4v37.6M1172.5 1398.4v34.6M1173.5 1405.6v26.2M1174.5 1405.9v30.7M1175.5 1372.4v62.3M1176.5 1405.3v71.8M1177.5 1407.6v77.3M1178.5 1419.4v44.9M1179.5 1424.2v34.0M1180.5 1418.0v50.7M1181.5 1434.3v20.5M1182.5 1431.0v55.4M1183.5 1434.8v37.6M1184.5 1419.0v55.4M1185.5 1432.3v24.8M1186.5 1426.5v21.1M1187.5 1407.2v40.5M1188.5 1407.0v34.0M1189.5 1410.3v48.0M1190.5 1407.5v37.3M1191.5 1422.5v64.3M1192.5 1434.2v27.8M1193.5 1436.3v28.2M1194.5 1399.3v62.1M1195.5 1421.4v76.2M1196.5 1396.5v77.9M1197.5 1430.9v32.9M1198.5 1434.0v56.7M1199.5 1443.8v26.1M1200.5 1418.6v39.5M1201.5 1437.8v20.3M1202.5 1429.9v38.7M1203.5 1422.7v45.9M1204.5 1414.1v41.1M1205.5 1410.9v55.3M1206.5 1403.0v51.1M1207.5 1415.7v42.2M1208.5 1375.7v60.9M1209.5 1392.1v34.1M1210.5 1397.7v33.6M1211.5 1395.9v32.7M1212.5 1401.6v33.2M1213.5 1404.0v23.1M1214.5 1385.4v73.1M1215.5 1404.7v48.4M1216.5 1401.6v28.5M1217.5 1371.0v72.8M1218.5 1377.1v97.1M1219.5 1389.8v84.2M1220.5 1393.5v40.2M1221.5 1356.8v74.5M1222.5 1390.9v39.0M1223.5 1393.4v36.9M1224.5 1406.5v54.3M1225.5 1406.9v55.4M1226.5 1386.1v60.3M1227.5 1426.6v34.1M1228.5 1427.1v35.7M1229.5 1395.0v69.8M1230.5 1413.9v47.1M1231.5 1436.2v27.0M1232.5 1432.1v43.8M1233.5 1448.6v36.9M1234.5 1425.5v46.8M1235.5 1410.7v86.6M1236.5 1429.0v28.7M1237.5 1418.2v58.9M1238.5 1403.7v48.9M1239.5 1416.0v24.2M1240.5 1394.4v47.4M1241.5 1411.2v58.7M1242.5 1430.0v22.3M1243.5 1388.2v62.6M1244.5 1423.5v56.5M1245.5 1414.2v61.0M1246.5 1403.4v47.6M1247.5 1424.3v40.1M1248.5 1424.1v35.5M1249.5 1396.0v81.9M1250.5 1394.9v103.3M1251.5 1438.6v31.3M1252.5 1409.4v62.7M1253.5 1435.7v28.5M1254.5 1432.8v41.0M1255.5 1436.7v25.1M1256.5 1394.2v80.3M1257.5 1417.1v61.1M1258.5 1417.9v48.7M1259.5 1431.3v34.9M1260.5 1442.3v27.2M1261.5 1405.0v64.1M1262.5 1433.3v60.4M1263.5 1449.6v66.1M1264.5 1445.0v60.9M1265.5 1420.4v62.1M1266.5 1452.1v25.9M1267.5 1435.3v54.2M1268.5 1439.7v38.4M1269.5 1437.0v47.4M1270.5 1449.0v35.7M1271.5 1430.8v53.9M1272.5 1443.0v31.7M1273.5 1453.8v43.6M1274.5 1455.0v23.0M1275.5 1445.3v30.8M1276.5 1456.6v44.1M1277.5 1426.6v58.9M1278.5 1449.2v46.4M1279.5 1427.2v51.1M1280.5 1437.6v39.2M1281.5 1446.3v62.1M1282.5 1417.6v53.9M1283.5 1443.1v33.3M1284.5 1436.1v68.4M1285.5 1426.0v42.7M1286.5 1436.6v46.8M1287.5 1452.5v39.0M1288.5 1438.8v74.1M1289.5 1415.1v100.8M1290.5 1458.4v45.3M1291.5 1457.7v39.2M1292.5 1451.2v34.0M1293.5 1460.6v20.1M1294.5 1445.3v43.7M1295.5 1430.4v51.2M1296.5 1444.4v29.4M1297.5 1451.7v36.9M1298.5 1400.9v84.3M1299.5 1407.8v59.3M1300.5 1419.9v60.2M1301.5 1414.4v53.4M1302.5 1415.7v40.7M1303.5 1391.3v53.6M1304.5 1411.1v40.1M1305.5 1412.8v54.7M1306.5 1418.9v41.5M1307.5 1424.5v50.2M1308.5 1425.7v37.3M1309.5 1412.6v64.4M1310.5 1402.6v42.5M1311.5 1397.4v54.9M1312.5 1397.8v62.2M1313.5 1389.0v48.2M1314.5 1403.4v36.9M1315.5 1406.3v40.2M1316.5 1398.0v36.5" fill="none" stroke="#d8d8d8" stroke-width="1"/></g>
<path d="M163.3 165.7H783.7" stroke="#66bfc1" stroke-width="3.8"/><path d="M163.3 282.9H783.7" stroke="#1778c0" stroke-width="3.8"/>
<path d="M165.2 481.1H785.1" stroke="#66bfc1" stroke-width="3.8"/><path d="M165.2 597.9H785.1" stroke="#1778c0" stroke-width="3.8"/>
<path d="M165.2 796.3H784.7" stroke="#66bfc1" stroke-width="3.8"/><path d="M165.2 913.2H784.7" stroke="#1778c0" stroke-width="3.8"/>
<path d="M164.4 1117.8H780.5" stroke="#66bfc1" stroke-width="3.8"/><path d="M164.4 1234.8H780.5" stroke="#1778c0" stroke-width="3.8"/>
<path d="M162.7 1445.6H780.5" stroke="#66bfc1" stroke-width="3.8"/><path d="M162.7 1562.7H780.5" stroke="#1778c0" stroke-width="3.8"/>
<path d="M828.5 165.8H1449.0" stroke="#66bfc1" stroke-width="3.8"/><path d="M828.5 282.9H1449.0" stroke="#1778c0" stroke-width="3.8"/>
<path d="M828.2 481.5H1442.6" stroke="#66bfc1" stroke-width="3.8"/><path d="M828.2 598.4H1442.6" stroke="#1778c0" stroke-width="3.8"/>
<path d="M828.4 796.0H1443.7" stroke="#66bfc1" stroke-width="3.8"/><path d="M828.4 910.9H1443.7" stroke="#1778c0" stroke-width="3.8"/>
<path d="M829.5 1118.1H1443.3" stroke="#66bfc1" stroke-width="3.8"/><path d="M829.5 1232.9H1443.3" stroke="#1778c0" stroke-width="3.8"/>
<path d="M827.0 1449.2H1442.6" stroke="#66bfc1" stroke-width="3.8"/><path d="M827.0 1563.4H1442.6" stroke="#1778c0" stroke-width="3.8"/>
<path d="M165.4 229.5 167.0 231.2 168.6 233.0 170.2 226.8 171.8 222.9 173.4 221.6 175.0 218.6 176.6 215.7 178.2 216.4 179.8 217.6 181.4 222.5 183.0 228.9 184.6 236.2 186.2 234.9 187.8 229.2 189.4 223.5 191.0 215.6 192.6 207.7 194.2 202.0 195.8 195.7 197.4 191.4 199.0 188.5 200.6 185.3 202.2 183.5 203.8 179.6 205.4 175.2 207.0 170.8 208.6 161.6 210.2 161.3 211.8 172.6 213.4 182.4 215.0 194.7 216.6 201.5 218.2 202.2 219.8 201.9 221.4 198.1 223.0 200.9 224.6 203.2 226.2 206.7 227.8 208.7 229.4 206.1 231.0 199.7 232.6 194.5 234.2 189.2 235.8 181.5 237.4 183.7 239.0 189.0 240.6 197.6 242.2 203.6 243.8 205.8 245.4 205.6 247.0 199.4 248.6 201.0 250.2 202.4 251.8 209.1 253.4 213.5 255.0 220.1 256.6 225.2 258.2 222.3 259.8 216.5 261.4 212.2 263.0 209.8 264.6 213.6 266.2 217.8 267.8 222.5 269.4 226.8 271.0 226.7 272.6 226.7 274.2 223.9 275.8 216.5 277.4 207.9 279.0 201.6 280.6 197.8 282.2 195.8 283.8 191.4 285.4 186.5 287.0 178.0 288.6 169.6 290.2 174.0 291.8 179.4 293.4 182.6 295.0 187.3 296.6 195.2 298.2 201.5 299.8 206.5 301.4 204.6 303.0 203.3 304.6 199.1 306.2 195.8 307.8 191.6 309.4 190.8 311.0 190.4 312.6 189.6 314.2 189.9 315.8 191.0 317.4 193.4 319.0 195.2 320.6 194.8 322.2 191.5 323.8 190.2 325.4 191.3 327.0 190.4 328.6 187.4 330.2 184.2 331.8 183.3 333.4 186.8 335.0 192.7 336.6 184.9 338.2 176.4 339.8 170.2 341.4 165.0 343.0 166.3 344.6 168.8 346.2 167.9 347.8 166.4 349.4 164.3 351.0 162.0 352.6 160.2 354.2 157.9 355.8 152.8 357.4 151.2 359.0 148.7 360.6 147.4 362.2 146.2 363.8 144.3 365.4 141.5 367.0 137.4 368.6 133.0 370.2 132.8 371.8 133.2 373.4 141.7 375.0 152.0 376.6 162.3 378.2 168.5 379.8 172.0 381.4 175.6 383.0 182.5 384.6 190.1 386.2 200.0 387.8 203.3 389.4 198.9 391.0 196.8 392.6 197.4 394.2 200.3 395.8 209.1 397.4 209.4 399.0 208.8 400.6 208.8 402.2 207.9 403.8 199.1 405.4 189.3 407.0 183.8 408.6 178.6 410.2 179.7 411.8 183.7 413.4 186.1 415.0 189.4 416.6 187.9 418.2 181.9 419.8 178.6 421.4 173.2 423.0 175.4 424.6 181.6 426.2 186.7 427.8 193.9 429.4 194.7 431.0 189.1 432.6 187.3 434.2 187.0 435.8 185.3 437.4 183.1 439.0 181.1 440.6 177.9 442.2 174.6 443.8 177.7 445.4 181.0 447.0 184.0 448.6 186.6 450.2 185.0 451.8 181.2 453.4 180.0 455.0 180.6 456.6 180.8 458.2 183.5 459.8 185.9 461.4 186.9 463.0 180.9 464.6 177.1 466.2 172.2 467.8 167.4 469.4 163.8 471.0 160.5 472.6 157.7 474.2 155.0 475.8 155.5 477.4 157.7 479.0 170.9 480.6 184.1 482.2 194.6 483.8 200.4 485.4 202.8 487.0 205.1 488.6 202.2 490.2 196.4 491.8 196.4 493.4 200.6 495.0 204.2 496.6 207.6 498.2 208.3 499.8 203.7 501.4 199.4 503.0 197.2 504.6 194.1 506.2 196.4 507.8 197.6 509.4 203.6 511.0 209.7 512.6 213.2 514.2 213.1 515.8 210.9 517.4 206.4 519.0 204.7 520.6 201.7 522.2 199.7 523.8 196.0 525.4 195.0 527.0 196.8 528.6 199.7 530.2 203.8 531.8 205.5 533.4 202.5 535.0 198.5 536.6 192.9 538.2 186.0 539.8 179.4 541.4 173.0 543.0 167.8 544.6 173.5 546.2 178.8 547.8 183.0 549.4 186.3 551.0 186.9 552.6 186.8 554.2 187.0 555.8 183.6 557.4 178.7 559.0 174.0 560.6 175.9 562.2 178.5 563.8 185.8 565.4 190.7 567.0 195.5 568.6 198.3 570.2 194.4 571.8 187.2 573.4 179.2 575.0 169.7 576.6 167.9 578.2 170.6 579.8 179.5 581.4 186.7 583.0 192.8 584.6 201.2 586.2 208.7 587.8 209.5 589.4 209.1 591.0 211.0 592.6 211.8 594.2 212.8 595.8 209.9 597.4 205.6 599.0 201.6 600.6 198.7 602.2 199.4 603.8 204.2 605.4 210.0 607.0 217.1 608.6 220.8 610.2 224.0 611.8 216.4 613.4 209.6 615.0 204.4 616.6 200.5 618.2 196.8 619.8 193.2 621.4 190.3 623.0 190.0 624.6 195.5 626.2 203.2 627.8 200.5 629.4 195.9 631.0 193.8 632.6 191.8 634.2 194.5 635.8 196.6 637.4 201.4 639.0 202.5 640.6 205.8 642.2 206.5 643.8 204.6 645.4 204.6 647.0 202.9 648.6 200.1 650.2 198.2 651.8 197.9 653.4 199.0 655.0 201.2 656.6 205.0 658.2 208.6 659.8 210.6 661.4 213.8 663.0 215.8 664.6 217.5 666.2 220.1 667.8 223.1 669.4 225.8 671.0 224.6 672.6 224.5 674.2 223.0 675.8 223.8 677.4 226.4 679.0 228.8 680.6 229.1 682.2 230.4 683.8 226.9 685.4 224.8 687.0 223.4 688.6 222.6 690.2 223.4 691.8 225.4 693.4 224.1 695.0 220.6 696.6 215.7 698.2 212.0 699.8 208.4 701.4 208.9 703.0 211.6 704.6 213.6 706.2 214.0 707.8 212.5 709.4 212.0 711.0 216.8 712.6 221.2 714.2 223.2 715.8 221.2 717.4 222.1 719.0 214.9 720.6 208.9 722.2 201.2 723.8 199.0 725.4 197.3 727.0 201.6 728.6 206.7 730.2 205.4 731.8 201.0 733.4 199.6 735.0 198.9 736.6 198.8 738.2 200.0 739.8 204.7 741.4 207.5 743.0 209.5 744.6 203.9 746.2 198.9 747.8 196.9 749.4 196.2 751.0 195.9 751.5 195.4" fill="none" stroke="#4fb3a7" stroke-width="1.6" stroke-linejoin="round"/>
<path d="M168.7 550.9 170.3 552.8 171.9 551.9 173.5 555.8 175.1 557.6 176.7 561.7 178.3 566.9 179.9 573.6 181.5 579.2 183.1 579.2 184.7 577.3 186.3 575.0 187.9 570.5 189.5 565.5 191.1 560.2 192.7 554.3 194.3 551.5 195.9 547.4 197.5 544.4 199.1 540.6 200.7 535.4 202.3 533.6 203.9 532.5 205.5 533.2 207.1 535.4 208.7 531.6 210.3 525.8 211.9 523.2 213.5 519.4 215.1 520.4 216.7 523.1 218.3 523.1 219.9 521.7 221.5 517.5 223.1 511.0 224.7 505.9 226.3 503.3 227.9 508.1 229.5 513.8 231.1 524.7 232.7 534.3 234.3 541.2 235.9 542.9 237.5 540.4 239.1 535.7 240.7 528.8 242.3 521.7 243.9 514.0 245.5 504.1 247.1 496.7 248.7 502.9 250.3 506.7 251.9 513.7 253.5 520.3 255.1 522.4 256.7 522.7 258.3 530.3 259.9 538.6 261.5 542.3 263.1 538.8 264.7 534.8 266.3 528.7 267.9 524.9 269.5 527.5 271.1 532.8 272.7 538.4 274.3 544.1 275.9 550.1 277.5 553.5 279.1 556.7 280.7 559.4 282.3 557.7 283.9 552.4 285.5 545.3 287.1 532.3 288.7 518.8 290.3 508.4 291.9 497.9 293.5 491.7 295.1 496.3 296.7 499.4 298.3 505.8 299.9 510.8 301.5 512.9 303.1 513.0 304.7 517.5 306.3 524.7 307.9 530.6 309.5 530.1 311.1 531.2 312.7 524.9 314.3 517.4 315.9 517.3 317.5 516.1 319.1 522.0 320.7 526.8 322.3 529.0 323.9 529.0 325.5 530.4 327.1 531.0 328.7 532.6 330.3 535.5 331.9 538.0 333.5 531.9 335.1 525.9 336.7 519.3 338.3 512.1 339.9 510.8 341.5 510.0 343.1 523.4 344.7 523.1 346.3 517.1 347.9 512.1 349.5 509.2 351.1 508.8 352.7 514.1 354.3 516.5 355.9 517.1 357.5 513.0 359.1 509.2 360.7 507.1 362.3 504.9 363.9 509.2 365.5 510.9 367.1 514.2 368.7 518.5 370.3 519.3 371.9 522.5 373.5 523.1 375.1 521.8 376.7 515.7 378.3 507.7 379.9 499.9 381.5 492.8 383.1 490.2 384.7 492.9 386.3 499.7 387.9 503.6 389.5 506.1 391.1 506.2 392.7 505.6 394.3 507.6 395.9 510.4 397.5 513.1 399.1 517.3 400.7 518.8 402.3 514.9 403.9 511.8 405.5 504.9 407.1 497.9 408.7 490.7 410.3 483.1 411.9 482.5 413.5 488.4 415.1 495.6 416.7 498.8 418.3 499.4 419.9 496.1 421.5 493.4 423.1 493.8 424.7 494.4 426.3 494.4 427.9 496.3 429.5 494.3 431.1 490.2 432.7 481.7 434.3 475.9 435.9 475.4 437.5 474.3 439.1 475.7 440.7 476.7 442.3 471.0 443.9 467.6 445.5 470.1 447.1 471.4 448.7 477.8 450.3 484.0 451.9 487.0 453.5 486.5 455.1 484.8 456.7 480.9 458.3 478.6 459.9 478.4 461.5 476.2 463.1 471.0 464.7 466.1 466.3 464.3 467.9 462.5 469.5 461.5 471.1 457.8 472.7 454.6 474.3 457.6 475.9 464.9 477.5 475.8 479.1 487.1 480.7 495.1 482.3 498.4 483.9 499.9 485.5 498.4 487.1 500.5 488.7 502.4 490.3 504.7 491.9 507.5 493.5 507.5 495.1 502.7 496.7 499.9 498.3 497.2 499.9 494.7 501.5 492.2 503.1 489.1 504.7 480.0 506.3 471.7 507.9 465.6 509.5 462.8 511.1 468.1 512.7 470.2 514.3 472.1 515.9 471.3 517.5 471.9 519.1 470.6 520.7 468.2 522.3 468.7 523.9 465.3 525.5 461.7 527.1 465.1 528.7 467.2 530.3 473.2 531.9 478.5 533.5 480.2 535.1 483.3 536.7 485.3 538.3 486.5 539.9 490.6 541.5 492.2 543.1 491.3 544.7 490.2 546.3 491.1 547.9 491.9 549.5 492.7 551.1 493.9 552.7 492.1 554.3 490.7 555.9 490.8 557.5 489.6 559.1 487.1 560.7 486.7 562.3 484.2 563.9 485.0 565.5 483.8 567.1 482.4 568.7 480.4 570.3 472.5 571.9 467.8 573.5 466.4 575.1 466.2 576.7 466.8 578.3 467.2 579.9 464.5 581.5 464.3 583.1 467.8 584.7 472.4 586.3 476.2 587.9 479.8 589.5 481.6 591.1 482.1 592.7 479.2 594.3 476.4 595.9 473.8 597.5 471.6 599.1 472.9 600.7 472.4 602.3 470.0 603.9 465.8 605.5 460.7 607.1 457.3 608.7 455.6 610.3 460.6 611.9 466.2 613.5 470.8 615.1 471.6 616.7 472.5 618.3 474.5 619.9 479.9 621.5 483.3 623.1 480.1 624.7 477.5 626.3 478.0 627.9 480.5 629.5 480.6 631.1 482.5 632.7 479.4 634.3 478.2 635.9 483.9 637.5 488.0 639.1 490.3 640.7 493.0 642.3 494.4 643.9 493.5 645.5 492.6 647.1 491.8 648.7 493.6 650.3 492.4 651.9 492.3 653.5 493.0 655.1 496.1 656.7 499.4 658.3 496.0 659.9 490.7 661.5 485.7 663.1 481.2 664.7 480.2 666.3 482.6 667.9 481.5 669.5 482.4 671.1 482.7 672.7 482.0 674.3 481.8 675.9 480.3 677.5 475.8 679.1 470.5 680.7 465.1 682.3 461.4 683.9 462.3 685.5 464.1 687.1 466.7 688.7 471.3 690.3 469.6 691.9 465.0 693.5 461.1 695.1 460.1 696.7 458.0 698.3 457.0 699.9 457.1 701.5 456.0 703.1 458.2 704.7 460.1 706.3 463.1 707.9 466.3 709.5 471.1 711.1 475.8 712.7 476.7 714.3 476.4 715.9 471.9 717.5 467.5 719.1 463.1 720.7 458.9 722.3 460.5 723.9 464.2 725.5 470.0 727.1 473.5 728.7 476.9 730.3 476.7 731.9 475.3 733.5 474.6 735.1 473.4 736.7 474.6 738.3 475.2 739.9 477.2 741.5 477.5 743.1 478.1 744.7 479.0 746.3 477.8 747.9 475.0 749.5 473.5 751.1 473.7 752.7 474.7 754.3 476.4 755.9 475.6 757.5 475.9 759.1 474.2 760.7 472.6 762.3 473.0 763.9 475.2 765.5 479.1 767.1 483.9 768.7 484.0 770.3 485.4 770.5 484.9" fill="none" stroke="#4fb3a7" stroke-width="1.6" stroke-linejoin="round"/>
<path d="M168.7 852.5 170.3 854.3 171.9 851.4 173.5 846.5 175.1 840.8 176.7 835.7 178.3 832.6 179.9 834.1 181.5 838.0 183.1 845.3 184.7 854.5 186.3 866.1 187.9 875.9 189.5 883.7 191.1 889.4 192.7 888.6 194.3 875.2 195.9 861.3 197.5 852.5 199.1 843.5 200.7 841.5 202.3 838.1 203.9 843.3 205.5 849.9 207.1 846.7 208.7 841.0 210.3 838.0 211.9 833.4 213.5 832.9 215.1 834.0 216.7 833.2 218.3 832.5 219.9 829.2 221.5 824.0 223.1 817.3 224.7 810.5 226.3 806.7 227.9 808.9 229.5 815.3 231.1 821.9 232.7 832.1 234.3 826.7 235.9 818.4 237.5 810.9 239.1 804.0 240.7 802.2 242.3 803.7 243.9 807.6 245.5 811.0 247.1 811.9 248.7 813.1 250.3 814.5 251.9 815.3 253.5 818.1 255.1 822.2 256.7 821.6 258.3 814.9 259.9 812.7 261.5 809.5 263.1 809.5 264.7 810.5 266.3 813.3 267.9 821.3 269.5 825.7 271.1 826.0 272.7 827.5 274.3 828.3 275.9 827.2 277.5 825.6 279.1 824.2 280.7 822.1 282.3 820.8 283.9 818.0 285.5 816.5 287.1 816.1 288.7 812.8 290.3 807.0 291.9 800.7 293.5 796.0 295.1 792.6 296.7 796.9 298.3 801.8 299.9 807.6 301.5 813.5 303.1 817.9 304.7 822.4 306.3 830.0 307.9 835.0 309.5 842.0 311.1 845.1 312.7 845.2 314.3 846.9 315.9 848.0 317.5 850.9 319.1 855.7 320.7 855.8 322.3 851.9 323.9 849.3 325.5 848.8 327.1 853.2 328.7 861.8 330.3 868.0 331.9 868.7 333.5 864.5 335.1 857.2 336.7 851.4 338.3 849.3 339.9 845.2 341.5 841.2 343.1 835.3 344.7 830.7 346.3 826.7 347.9 825.9 349.5 824.3 351.1 826.7 352.7 828.3 354.3 829.3 355.9 832.2 357.5 835.2 359.1 839.5 360.7 841.7 362.3 844.3 363.9 842.4 365.5 841.9 367.1 843.0 368.7 843.3 370.3 842.7 371.9 844.5 373.5 846.9 375.1 850.3 376.7 854.9 378.3 860.9 379.9 864.2 381.5 868.6 383.1 870.6 384.7 870.2 386.3 869.8 387.9 870.7 389.5 868.8 391.1 868.7 392.7 865.5 394.3 860.0 395.9 858.3 397.5 858.6 399.1 864.1 400.7 867.4 402.3 867.4 403.9 867.9 405.5 864.2 407.1 862.6 408.7 860.0 410.3 859.6 411.9 858.5 413.5 852.5 415.1 847.8 416.7 837.0 418.3 827.0 419.9 817.5 421.5 809.7 423.1 807.4 424.7 805.8 426.3 809.1 427.9 814.2 429.5 811.6 431.1 802.8 432.7 797.0 434.3 791.9 435.9 793.3 437.5 797.9 439.1 799.7 440.7 798.6 442.3 793.1 443.9 787.6 445.5 784.0 447.1 780.5 448.7 782.4 450.3 783.5 451.9 782.9 453.5 781.1 455.1 781.8 456.7 782.6 458.3 783.5 459.9 785.0 461.5 784.8 463.1 784.6 464.7 781.4 466.3 778.2 467.9 775.0 469.5 775.5 471.1 781.2 472.7 783.7 474.3 787.6 475.9 790.9 477.5 795.2 479.1 801.8 480.7 804.5 482.3 805.4 483.9 803.1 485.5 797.9 487.1 791.9 488.7 784.8 490.3 779.4 491.9 775.3 493.5 772.1 495.1 769.0 496.7 769.9 498.3 778.9 499.9 783.8 501.5 785.0 503.1 787.0 504.7 784.5 506.3 783.5 507.9 782.8 509.5 784.5 511.1 782.7 512.7 779.9 514.3 779.9 515.9 779.4 517.5 781.4 519.1 784.6 520.7 787.2 522.3 789.1 523.9 790.3 525.5 792.5 527.1 791.1 528.7 789.2 530.3 795.6 531.9 800.8 533.5 798.5 535.1 796.0 536.7 791.4 538.3 788.5 539.9 790.7 541.5 795.1 543.1 799.6 544.7 801.4 546.3 805.0 547.9 806.1 549.5 809.2 551.1 813.7 552.7 817.2 554.3 815.2 555.9 814.1 557.5 808.1 559.1 802.3 560.7 799.3 562.3 794.4 563.9 797.3 565.5 798.4 567.1 797.8 568.7 799.0 570.3 802.5 571.9 808.4 573.5 808.7 575.1 806.4 576.7 799.5 578.3 790.3 579.9 781.0 581.5 774.4 583.1 769.5 584.7 766.3 586.3 766.7 587.9 768.7 589.5 768.0 591.1 768.0 592.7 766.5 594.3 766.0 595.9 765.8 597.5 767.1 599.1 770.0 600.7 772.1 602.3 777.2 603.9 784.6 605.5 792.7 607.1 799.5 608.7 802.6 610.3 795.5 611.9 789.4 613.5 783.3 615.1 778.2 616.7 778.5 618.3 777.2 619.9 777.6 621.5 774.9 623.1 771.2 624.7 768.1 626.3 766.3 627.9 765.0 629.5 770.3 631.1 774.9 632.7 778.9 634.3 782.4 635.9 780.7 637.5 777.8 639.1 775.4 640.7 772.9 642.3 770.0 643.9 769.1 645.5 766.9 647.1 765.4 648.7 762.2 650.3 760.3 651.9 759.9 653.5 758.3 655.1 756.8 656.7 752.7 658.3 749.4 659.9 745.6 661.5 741.1 663.1 741.7 664.7 745.0 666.3 751.8 667.9 758.1 669.5 763.7 671.1 764.0 672.7 763.6 674.3 762.8 675.9 761.5 677.5 765.6 679.1 767.9 680.7 770.2 682.3 771.1 683.9 767.6 685.5 763.7 687.1 766.0 688.7 769.2 690.3 777.6 691.9 785.6 693.5 788.6 695.1 791.6 696.7 792.5 698.3 795.0 699.9 790.8 701.5 785.6 703.1 781.4 704.7 786.2 706.3 794.5 707.9 801.3 709.5 805.4 711.1 803.6 712.7 797.7 714.3 795.0 715.9 792.2 717.5 792.3 719.1 794.0 720.7 796.3 722.3 795.9 723.9 796.4 725.5 794.3 727.1 791.2 728.7 790.0 730.3 789.1 731.9 787.1 733.5 782.8 735.1 771.6 736.7 761.5 738.3 753.6 739.9 746.3 741.5 744.9 743.1 751.9 744.7 757.2 746.3 760.3 747.9 762.0 749.5 763.5 751.1 763.7 752.7 764.2 754.3 762.9 755.9 758.4 757.5 756.8 759.1 754.5 760.7 752.0 762.3 752.8 763.9 755.6 765.5 758.9 767.1 761.5 768.7 764.0 770.3 766.4 771.9 769.0 773.5 772.0 775.1 774.6 776.7 775.5 778.3 769.3 779.9 763.0 781.5 760.4 783.0 757.0" fill="none" stroke="#4fb3a7" stroke-width="1.6" stroke-linejoin="round"/>
<path d="M167.6 1163.1 169.2 1164.8 170.8 1167.1 172.4 1154.9 174.0 1149.8 175.6 1147.0 177.2 1144.2 178.8 1144.3 180.4 1144.3 182.0 1144.8 183.6 1149.3 185.2 1158.1 186.8 1165.4 188.4 1167.5 190.0 1169.0 191.6 1169.0 193.2 1172.5 194.8 1175.3 196.4 1180.1 198.0 1184.0 199.6 1186.9 201.2 1190.6 202.8 1195.6 204.4 1202.5 206.0 1209.5 207.6 1215.1 209.2 1221.3 210.8 1226.4 212.4 1222.7 214.0 1209.1 215.6 1197.6 217.2 1184.8 218.8 1180.4 220.4 1177.2 222.0 1176.9 223.6 1176.0 225.2 1176.7 226.8 1178.9 228.4 1181.2 230.0 1183.2 231.6 1179.6 233.2 1174.4 234.8 1169.8 236.4 1166.4 238.0 1164.4 239.6 1162.1 241.2 1161.5 242.8 1162.2 244.4 1160.8 246.0 1160.5 247.6 1160.2 249.2 1157.0 250.8 1154.3 252.4 1154.9 254.0 1155.7 255.6 1159.1 257.2 1162.6 258.8 1164.7 260.4 1165.6 262.0 1160.5 263.6 1153.5 265.2 1145.4 266.8 1138.6 268.4 1128.3 270.0 1121.6 271.6 1128.0 273.2 1133.9 274.8 1134.6 276.4 1135.4 278.0 1130.0 279.6 1125.3 281.2 1123.2 282.8 1120.2 284.4 1123.0 286.0 1127.0 287.6 1130.1 289.2 1134.2 290.8 1134.6 292.4 1134.8 294.0 1128.2 295.6 1120.8 297.2 1112.2 298.8 1108.9 300.4 1119.3 302.0 1126.7 303.6 1134.3 305.2 1135.1 306.8 1130.1 308.4 1126.5 310.0 1123.2 311.6 1119.9 313.2 1118.1 314.8 1118.0 316.4 1120.6 318.0 1125.4 319.6 1130.6 321.2 1136.2 322.8 1138.9 324.4 1140.9 326.0 1142.5 327.6 1142.8 329.2 1144.5 330.8 1145.9 332.4 1143.1 334.0 1140.8 335.6 1139.3 337.2 1137.8 338.8 1135.9 340.4 1136.2 342.0 1132.6 343.6 1131.0 345.2 1127.4 346.8 1125.7 348.4 1127.3 350.0 1131.3 351.6 1126.8 353.2 1127.4 354.8 1131.5 356.4 1133.5 358.0 1136.7 359.6 1137.1 361.2 1136.0 362.8 1136.5 364.4 1141.1 366.0 1143.8 367.6 1143.1 369.2 1140.0 370.8 1136.9 372.4 1135.9 374.0 1141.5 375.6 1143.2 377.2 1142.3 378.8 1141.0 380.4 1136.5 382.0 1131.1 383.6 1127.1 385.2 1123.4 386.8 1118.1 388.4 1112.1 390.0 1107.3 391.6 1108.2 393.2 1110.8 394.8 1112.3 396.4 1112.1 398.0 1109.2 399.6 1107.6 401.2 1112.9 402.8 1117.8 404.4 1123.1 406.0 1116.9 407.6 1110.8 409.2 1106.3 410.8 1103.6 412.4 1104.3 414.0 1108.6 415.6 1117.6 417.2 1128.3 418.8 1140.0 420.4 1146.9 422.0 1149.6 423.6 1147.5 425.2 1144.8 426.8 1145.2 428.4 1144.8 430.0 1145.0 431.6 1142.4 433.2 1140.2 434.8 1136.1 436.4 1129.7 438.0 1125.7 439.6 1122.1 441.2 1119.3 442.8 1118.1 444.4 1123.6 446.0 1128.8 447.6 1136.3 449.2 1143.4 450.8 1144.0 452.4 1143.5 454.0 1143.7 455.6 1144.5 457.2 1147.5 458.8 1149.5 460.4 1147.3 462.0 1143.6 463.6 1143.7 465.2 1142.3 466.8 1139.1 468.4 1133.9 470.0 1131.6 471.6 1129.4 473.2 1127.7 474.8 1125.2 476.4 1123.1 478.0 1123.2 479.6 1122.8 481.2 1123.6 482.8 1125.3 484.4 1127.4 486.0 1127.9 487.6 1129.6 489.2 1130.3 490.8 1129.2 492.4 1126.3 494.0 1126.1 495.6 1125.5 497.2 1124.3 498.8 1125.8 500.4 1125.4 502.0 1126.0 503.6 1125.2 505.2 1122.1 506.8 1119.7 508.4 1116.8 510.0 1120.0 511.6 1125.6 513.2 1130.0 514.8 1132.4 516.4 1133.4 518.0 1133.8 519.6 1133.7 521.2 1135.2 522.8 1137.5 524.4 1142.2 526.0 1142.8 527.6 1138.4 529.2 1133.7 530.8 1131.3 532.4 1128.3 534.0 1132.3 535.6 1137.1 537.2 1142.9 538.8 1147.3 540.4 1150.5 542.0 1148.1 543.6 1144.6 545.2 1139.3 546.8 1133.8 548.4 1125.6 550.0 1114.9 551.6 1111.7 553.2 1112.7 554.8 1114.0 556.4 1114.4 558.0 1115.1 559.6 1115.9 561.2 1120.0 562.8 1123.5 564.4 1131.8 566.0 1138.6 567.6 1141.1 569.2 1143.8 570.8 1142.9 572.4 1141.3 574.0 1139.3 575.6 1137.8 577.2 1136.3 578.8 1134.7 580.4 1135.1 582.0 1132.6 583.6 1133.5 585.2 1131.6 586.8 1129.9 588.4 1128.3 590.0 1126.8 591.6 1126.5 593.2 1122.4 594.8 1120.7 596.4 1124.9 598.0 1129.2 599.6 1131.3 601.2 1136.5 602.8 1134.8 604.4 1132.1 606.0 1130.7 607.6 1129.5 609.2 1127.7 610.8 1125.2 612.4 1119.5 614.0 1111.3 615.6 1111.9 617.2 1114.4 618.8 1115.2 620.4 1115.5 622.0 1113.0 623.6 1108.3 625.2 1107.4 626.8 1105.7 628.4 1105.9 630.0 1108.7 631.6 1111.7 633.2 1113.4 634.8 1114.7 636.4 1112.8 638.0 1112.2 639.6 1111.5 641.2 1109.7 642.8 1110.5 644.4 1110.9 646.0 1112.3 647.6 1115.0 649.2 1117.8 650.8 1119.8 652.4 1118.2 654.0 1116.8 655.6 1116.2 657.2 1118.2 658.8 1119.2 660.4 1121.5 662.0 1129.7 663.6 1129.8 665.2 1123.3 666.8 1111.2 668.4 1107.3 670.0 1109.2 671.6 1114.6 673.2 1126.2 674.8 1136.0 676.4 1145.3 678.0 1141.6 679.6 1139.0 681.2 1141.3 682.8 1144.3 684.4 1153.7 686.0 1165.2 687.6 1170.2 689.2 1170.4 690.8 1168.1 692.4 1167.7 694.0 1165.0 695.6 1162.6 697.2 1159.9 698.8 1156.3 700.4 1154.3 702.0 1155.4 703.6 1156.9 705.2 1159.0 706.8 1161.8 708.4 1161.2 710.0 1157.3 711.6 1153.8 713.2 1152.0 714.8 1148.9 716.4 1144.2 718.0 1141.3 719.6 1140.8 721.2 1140.3 722.8 1147.7 724.4 1155.3 726.0 1158.6 727.6 1159.9 729.2 1153.4 730.8 1146.0 732.4 1142.3 734.0 1139.2 735.6 1143.1 737.2 1146.7 738.8 1147.0 740.4 1148.1 742.0 1143.2 743.6 1136.3 745.2 1130.6 746.8 1126.6 748.4 1125.9 750.0 1127.2 751.6 1129.7 753.2 1133.9 754.8 1135.8 756.4 1137.0 758.0 1135.4 759.6 1128.8 761.2 1126.3 762.8 1125.8 764.4 1129.3 766.0 1134.2 767.6 1139.2 769.2 1142.7 770.8 1144.3 772.4 1141.8 774.0 1138.6 775.6 1134.7 777.2 1131.1 778.8 1127.6 780.4 1128.7 782.0 1136.1 783.0 1139.8" fill="none" stroke="#4fb3a7" stroke-width="1.6" stroke-linejoin="round"/>
<path d="M164.3 1483.0 165.9 1489.7 167.5 1497.3 169.1 1504.6 170.7 1510.2 172.3 1515.0 173.9 1517.0 175.5 1521.8 177.1 1524.5 178.7 1525.9 180.3 1528.7 181.9 1531.7 183.5 1535.3 185.1 1531.9 186.7 1529.0 188.3 1525.2 189.9 1519.1 191.5 1521.6 193.1 1525.1 194.7 1529.4 196.3 1532.2 197.9 1534.5 199.5 1537.4 201.1 1541.1 202.7 1545.0 204.3 1545.8 205.9 1544.9 207.5 1543.2 209.1 1539.3 210.7 1538.5 212.3 1536.2 213.9 1536.9 215.5 1535.0 217.1 1535.7 218.7 1538.1 220.3 1541.3 221.9 1544.3 223.5 1548.7 225.1 1553.4 226.7 1557.2 228.3 1554.0 229.9 1551.7 231.5 1549.8 233.1 1546.2 234.7 1546.1 236.3 1545.8 237.9 1544.7 239.5 1543.3 241.1 1543.0 242.7 1543.3 244.3 1540.4 245.9 1536.7 247.5 1535.4 249.1 1532.8 250.7 1533.9 252.3 1535.7 253.9 1531.7 255.5 1529.1 257.1 1523.6 258.7 1518.3 260.3 1509.5 261.9 1501.5 263.5 1497.8 265.1 1501.8 266.7 1506.6 268.3 1504.4 269.9 1502.2 271.5 1495.3 273.1 1490.0 274.7 1487.4 276.3 1483.1 277.9 1478.4 279.5 1475.0 281.1 1473.4 282.7 1477.0 284.3 1481.9 285.9 1487.8 287.5 1493.7 289.1 1496.6 290.7 1499.3 292.3 1501.2 293.9 1504.9 295.5 1507.9 297.1 1512.2 298.7 1515.6 300.3 1519.3 301.9 1521.9 303.5 1524.4 305.1 1527.7 306.7 1536.7 308.3 1540.0 309.9 1533.8 311.5 1530.0 313.1 1526.6 314.7 1522.8 316.3 1519.6 317.9 1515.4 319.5 1506.5 321.1 1497.7 322.7 1492.0 324.3 1488.9 325.9 1487.8 327.5 1492.2 329.1 1496.3 330.7 1501.5 332.3 1502.4 333.9 1494.9 335.5 1487.0 337.1 1478.3 338.7 1471.0 340.3 1469.9 341.9 1472.0 343.5 1475.4 345.1 1480.5 346.7 1486.2 348.3 1493.0 349.9 1502.2 351.5 1509.9 353.1 1517.1 354.7 1522.7 356.3 1520.9 357.9 1519.2 359.5 1516.6 361.1 1514.4 362.7 1509.5 364.3 1504.5 365.9 1499.7 367.5 1495.7 369.1 1497.3 370.7 1499.5 372.3 1504.0 373.9 1507.8 375.5 1509.4 377.1 1511.9 378.7 1504.1 380.3 1497.9 381.9 1487.9 383.5 1479.1 385.1 1482.1 386.7 1486.9 388.3 1494.3 389.9 1502.6 391.5 1508.4 393.1 1516.3 394.7 1517.8 396.3 1518.8 397.9 1516.4 399.5 1511.0 401.1 1507.7 402.7 1507.1 404.3 1511.9 405.9 1514.2 407.5 1511.4 409.1 1509.6 410.7 1510.9 412.3 1513.5 413.9 1517.6 415.5 1519.4 417.1 1522.0 418.7 1521.8 420.3 1519.4 421.9 1518.7 423.5 1519.7 425.1 1519.9 426.7 1525.0 428.3 1528.1 429.9 1527.4 431.5 1525.9 433.1 1524.9 434.7 1522.3 436.3 1525.4 437.9 1529.4 439.5 1534.9 441.1 1540.1 442.7 1544.3 444.3 1546.7 445.9 1543.8 447.5 1538.0 449.1 1532.4 450.7 1525.5 452.3 1525.6 453.9 1530.5 455.5 1531.7 457.1 1534.0 458.7 1536.3 460.3 1537.7 461.9 1538.0 463.5 1540.6 465.1 1542.2 466.7 1543.0 468.3 1543.5 469.9 1542.0 471.5 1542.9 473.1 1544.7 474.7 1543.7 476.3 1544.8 477.9 1546.0 479.5 1545.9 481.1 1545.5 482.7 1546.2 484.3 1545.0 485.9 1534.8 487.5 1526.5 489.1 1520.9 490.7 1515.3 492.3 1516.7 493.9 1519.4 495.5 1524.7 497.1 1531.5 498.7 1534.7 500.3 1538.7 501.9 1535.9 503.5 1533.1 505.1 1535.4 506.7 1539.7 508.3 1546.7 509.9 1553.3 511.5 1558.0 513.1 1562.3 514.7 1564.9 516.3 1564.9 517.9 1559.8 519.5 1552.7 521.1 1545.6 522.7 1539.5 524.3 1535.3 525.9 1533.1 527.5 1532.2 529.1 1536.5 530.7 1538.8 532.3 1540.1 533.9 1543.2 535.5 1543.6 537.1 1542.8 538.7 1538.5 540.3 1534.3 541.9 1530.8 543.5 1529.2 545.1 1534.5 546.7 1540.8 548.3 1549.4 549.9 1557.2 551.5 1563.8 553.1 1568.1 554.7 1569.9 556.3 1570.5 557.9 1569.0 559.5 1565.2 561.1 1557.8 562.7 1551.8 564.3 1547.5 565.9 1543.8 567.5 1543.0 569.1 1543.2 570.7 1541.9 572.3 1542.3 573.9 1548.1 575.5 1554.9 577.1 1567.4 578.7 1579.6 580.3 1583.6 581.9 1589.4 583.5 1587.6 585.1 1585.4 586.7 1578.8 588.3 1571.2 589.9 1566.4 591.5 1562.2 593.1 1561.6 594.7 1561.1 596.3 1562.1 597.9 1563.0 599.5 1565.1 601.1 1565.2 602.7 1567.4 604.3 1570.1 605.9 1570.7 607.5 1574.3 609.1 1573.2 610.7 1574.0 612.3 1574.3 613.9 1576.3 615.5 1577.8 617.1 1577.4 618.7 1581.0 620.3 1582.9 621.9 1582.9 623.5 1580.3 625.1 1578.2 626.7 1575.9 628.3 1577.6 629.9 1581.9 631.5 1583.4 633.1 1581.9 634.7 1579.4 636.3 1578.4 637.9 1576.7 639.5 1575.7 641.1 1575.2 642.7 1573.1 644.3 1571.6 645.9 1570.1 647.5 1570.5 649.1 1568.3 650.7 1567.6 652.3 1566.3 653.9 1564.1 655.5 1553.1 657.1 1542.0 658.7 1531.5 660.3 1521.3 661.9 1515.2 663.5 1511.1 665.1 1512.5 666.7 1516.4 668.3 1526.8 669.9 1538.3 671.5 1551.2 673.1 1564.8 674.7 1566.5 676.3 1567.1 677.9 1564.6 679.5 1561.5 681.1 1566.2 682.7 1573.0 684.3 1580.0 685.9 1588.1 687.5 1588.4 689.1 1586.4 690.7 1581.6 692.3 1577.1 693.9 1575.1 695.5 1570.3 697.1 1568.5 698.7 1568.7 700.3 1570.4 701.9 1573.2 703.5 1576.5 705.1 1579.9 706.7 1581.0 708.3 1579.7 709.9 1576.2 711.5 1568.2 713.1 1567.8 714.7 1574.3 716.3 1577.8 717.9 1583.8 719.5 1585.1 721.1 1580.5 722.7 1571.5 724.3 1550.0 725.9 1545.2 727.5 1539.1 729.1 1545.3 730.7 1550.6 732.3 1549.1 733.9 1548.4 735.5 1545.5 737.1 1544.1 738.7 1542.1 740.3 1540.3 741.9 1538.7 743.5 1543.2 745.1 1547.1 746.7 1553.4 748.3 1560.6 749.9 1563.4 751.5 1564.8 753.1 1561.9 754.7 1556.6 756.3 1554.4 757.9 1552.9 759.5 1554.9 761.1 1557.4 762.7 1555.9 764.3 1555.4 765.9 1556.8 767.5 1559.5 769.1 1564.7 770.7 1570.4 772.3 1566.5 773.9 1562.0 775.5 1557.7 777.1 1551.1 778.7 1548.4 780.3 1543.5 781.9 1543.0 783.5 1545.5 785.1 1547.3 786.7 1552.2 787.4 1552.6" fill="none" stroke="#4fb3a7" stroke-width="1.6" stroke-linejoin="round"/>
<path d="M830.4 260.4 832.0 246.2 833.6 236.1 835.2 228.7 836.8 228.7 838.4 240.6 840.0 253.3 841.6 255.6 843.2 257.1 844.8 260.0 846.4 263.5 848.0 269.0 849.6 272.7 851.2 276.2 852.8 276.9 854.4 283.0 856.0 289.2 857.6 299.4 859.2 310.4 860.8 312.0 862.4 307.3 864.0 301.8 865.6 295.8 867.2 291.9 868.8 288.3 870.4 287.5 872.0 289.4 873.6 292.2 875.2 298.1 876.8 302.6 878.4 305.9 880.0 308.2 881.6 307.9 883.2 303.4 884.8 300.2 886.4 297.3 888.0 295.5 889.6 293.7 891.2 288.2 892.8 281.4 894.4 277.8 896.0 274.2 897.6 275.0 899.2 280.0 900.8 284.2 902.4 291.2 904.0 297.9 905.6 305.5 907.2 309.2 908.8 310.4 910.4 306.6 912.0 298.8 913.6 291.7 915.2 282.7 916.8 276.8 918.4 278.0 920.0 278.4 921.6 279.2 923.2 279.4 924.8 277.7 926.4 277.1 928.0 279.7 929.6 281.8 931.2 283.1 932.8 286.1 934.4 290.3 936.0 294.7 937.6 297.7 939.2 294.1 940.8 288.4 942.4 281.8 944.0 275.6 945.6 272.2 947.2 273.1 948.8 278.3 950.4 281.3 952.0 278.9 953.6 279.3 955.2 287.0 956.8 297.0 958.4 305.2 960.0 313.4 961.6 309.5 963.2 305.2 964.8 299.9 966.4 295.3 968.0 295.5 969.6 295.3 971.2 294.7 972.8 294.0 974.4 296.2 976.0 298.4 977.6 294.2 979.2 290.7 980.8 291.1 982.4 292.5 984.0 293.6 985.6 296.6 987.2 294.6 988.8 292.1 990.4 293.3 992.0 292.7 993.6 292.9 995.2 291.2 996.8 288.1 998.4 286.4 1000.0 290.1 1001.6 292.8 1003.2 300.2 1004.8 311.0 1006.4 317.1 1008.0 320.0 1009.6 321.6 1011.2 316.9 1012.8 318.1 1014.4 320.8 1016.0 323.5 1017.6 320.0 1019.2 317.2 1020.8 310.1 1022.4 304.7 1024.0 298.9 1025.6 294.5 1027.2 296.1 1028.8 300.5 1030.4 303.3 1032.0 306.3 1033.6 304.8 1035.2 298.3 1036.8 293.7 1038.4 290.2 1040.0 287.0 1041.6 287.4 1043.2 287.5 1044.8 290.6 1046.4 290.4 1048.0 288.7 1049.6 290.4 1051.2 293.5 1052.8 299.2 1054.4 305.6 1056.0 307.6 1057.6 304.3 1059.2 301.1 1060.8 305.9 1062.4 309.2 1064.0 314.5 1065.6 320.1 1067.2 331.3 1068.8 340.7 1070.4 342.5 1072.0 335.6 1073.6 327.1 1075.2 316.9 1076.8 309.8 1078.4 307.4 1080.0 307.0 1081.6 304.2 1083.2 300.8 1084.8 297.2 1086.4 295.5 1088.0 292.0 1089.6 286.8 1091.2 282.4 1092.8 275.5 1094.4 267.5 1096.0 260.1 1097.6 258.2 1099.2 259.9 1100.8 265.4 1102.4 269.7 1104.0 275.9 1105.6 282.9 1107.2 283.4 1108.8 276.3 1110.4 269.6 1112.0 261.8 1113.6 258.6 1115.2 259.6 1116.8 259.7 1118.4 261.7 1120.0 260.6 1121.6 258.5 1123.2 253.9 1124.8 244.6 1126.4 248.9 1128.0 253.8 1129.6 256.1 1131.2 257.4 1132.8 248.9 1134.4 238.9 1136.0 234.9 1137.6 232.2 1139.2 232.0 1140.8 232.8 1142.4 230.3 1144.0 225.0 1145.6 219.9 1147.2 225.7 1148.8 232.5 1150.4 240.6 1152.0 249.1 1153.6 257.2 1155.2 266.7 1156.8 273.8 1158.4 268.8 1160.0 263.6 1161.6 260.4 1163.2 254.5 1164.8 262.1 1166.4 256.7 1168.0 247.3 1169.6 237.8 1171.2 229.7 1172.8 234.5 1174.4 244.8 1176.0 253.5 1177.6 262.9 1179.2 266.5 1180.8 269.9 1182.4 272.7 1184.0 274.9 1185.6 273.0 1187.2 270.8 1188.8 267.9 1190.4 264.8 1192.0 270.1 1193.6 275.8 1195.2 276.5 1196.8 275.9 1198.4 265.4 1200.0 254.0 1201.6 249.3 1203.2 245.0 1204.8 243.8 1206.4 243.5 1208.0 248.1 1209.6 250.4 1211.2 252.0 1212.8 252.1 1214.4 249.5 1216.0 243.4 1217.6 239.7 1219.2 235.6 1220.8 234.5 1222.4 237.7 1224.0 248.7 1225.6 258.5 1227.2 271.9 1228.8 262.8 1230.4 253.0 1232.0 253.1 1233.6 255.7 1235.2 262.3 1236.8 272.7 1238.4 272.2 1240.0 268.7 1241.6 265.4 1243.2 263.2 1244.8 265.5 1246.4 269.5 1248.0 269.4 1249.6 269.5 1251.2 262.7 1252.8 254.8 1254.4 250.2 1256.0 250.4 1257.6 254.4 1259.2 260.8 1260.8 269.2 1262.4 276.0 1264.0 285.7 1265.6 294.5 1267.2 300.1 1268.8 305.2 1270.4 305.4 1272.0 300.8 1273.6 296.6 1275.2 290.6 1276.8 286.9 1278.4 283.4 1280.0 281.3 1281.6 281.4 1283.2 281.3 1284.8 283.6 1286.4 286.7 1288.0 291.4 1289.6 297.6 1291.2 300.4 1292.8 305.5 1294.4 308.1 1296.0 312.8 1297.6 318.4 1299.2 325.1 1300.8 328.1 1302.4 332.1 1304.0 324.4 1305.6 318.3 1307.2 307.5 1308.8 294.4 1310.4 284.8 1312.0 274.8 1313.6 278.5 1315.2 284.4 1316.8 279.0 1318.4 271.3 1320.0 260.3 1321.6 249.1 1323.2 242.1 1324.8 235.5 1326.4 225.6 1328.0 217.4 1329.6 206.1 1331.2 204.0 1332.8 210.8 1334.4 220.1 1336.0 230.5 1337.6 223.2 1339.2 215.7 1340.8 210.3 1342.4 205.4 1344.0 207.2 1345.6 209.0 1347.2 209.0 1348.8 211.5 1350.4 210.2 1352.0 207.1 1353.6 205.3 1355.2 205.3 1356.8 205.8 1358.4 210.3 1360.0 214.0 1361.6 220.1 1363.2 218.5 1364.8 215.6 1366.4 217.0 1368.0 223.1 1369.6 227.8 1371.2 235.0 1372.8 238.1 1374.4 237.8 1376.0 235.8 1377.6 231.9 1379.2 231.7 1380.8 238.8 1382.4 247.0 1384.0 257.2 1385.6 261.4 1387.2 257.2 1388.8 252.5 1390.4 243.6 1392.0 236.9 1393.6 235.6 1395.2 235.4 1396.8 236.9 1398.4 237.4 1400.0 235.4 1401.6 237.0 1403.2 241.3 1404.8 245.8 1406.4 248.1 1408.0 248.9 1409.6 252.5 1411.2 255.4 1412.8 256.2 1414.4 256.9 1416.0 250.4 1417.6 241.8 1419.2 237.3 1420.8 231.3 1422.4 236.4 1424.0 242.6 1425.6 251.9 1427.2 261.1 1428.8 263.2 1430.4 263.1 1432.0 262.7 1433.6 262.1 1435.2 263.8 1436.8 265.3 1438.4 261.9 1439.3 257.4" fill="none" stroke="#2b3c94" stroke-width="1.5" stroke-linejoin="round"/>
<path d="M831.5 492.0 833.1 494.6 834.7 496.1 836.3 499.7 837.9 502.7 839.5 504.6 841.1 504.4 842.7 503.6 844.3 502.9 845.9 505.8 847.5 506.3 849.1 506.8 850.7 501.2 852.3 495.2 853.9 491.2 855.5 487.7 857.1 487.5 858.7 489.0 860.3 491.2 861.9 492.3 863.5 494.0 865.1 495.9 866.7 495.6 868.3 497.4 869.9 486.0 871.5 477.2 873.1 471.7 874.7 477.9 876.3 487.2 877.9 495.7 879.5 506.0 881.1 507.6 882.7 508.7 884.3 505.0 885.9 502.3 887.5 497.1 889.1 491.4 890.7 485.0 892.3 480.5 893.9 474.5 895.5 472.0 897.1 469.9 898.7 470.8 900.3 470.4 901.9 472.0 903.5 473.7 905.1 471.2 906.7 470.2 908.3 468.0 909.9 469.7 911.5 474.4 913.1 479.1 914.7 483.2 916.3 490.9 917.9 497.2 919.5 502.7 921.1 506.6 922.7 506.4 924.3 506.1 925.9 506.7 927.5 506.8 929.1 503.4 930.7 495.3 932.3 490.4 933.9 484.7 935.5 484.4 937.1 484.8 938.7 483.2 940.3 477.8 941.9 473.2 943.5 470.4 945.1 471.8 946.7 473.6 948.3 479.4 949.9 486.7 951.5 493.1 953.1 498.0 954.7 499.5 956.3 496.5 957.9 495.2 959.5 498.7 961.1 502.8 962.7 507.7 964.3 510.6 965.9 508.5 967.5 505.2 969.1 501.2 970.7 498.7 972.3 499.1 973.9 499.2 975.5 499.8 977.1 502.7 978.7 504.7 980.3 506.3 981.9 501.7 983.5 497.2 985.1 491.8 986.7 486.5 988.3 487.4 989.9 486.6 991.5 489.8 993.1 496.0 994.7 503.7 996.3 512.9 997.9 523.7 999.5 532.9 1001.1 543.1 1002.7 546.6 1004.3 535.7 1005.9 525.1 1007.5 518.6 1009.1 513.1 1010.7 511.0 1012.3 512.9 1013.9 518.5 1015.5 523.7 1017.1 518.8 1018.7 514.4 1020.3 509.2 1021.9 506.1 1023.5 509.2 1025.1 514.7 1026.7 522.3 1028.3 528.2 1029.9 532.6 1031.5 536.2 1033.1 533.6 1034.7 533.5 1036.3 526.0 1037.9 518.9 1039.5 517.2 1041.1 515.3 1042.7 512.1 1044.3 509.4 1045.9 504.7 1047.5 505.8 1049.1 507.2 1050.7 515.3 1052.3 519.5 1053.9 520.9 1055.5 522.2 1057.1 534.2 1058.7 544.0 1060.3 546.5 1061.9 540.8 1063.5 530.3 1065.1 521.5 1066.7 517.1 1068.3 520.0 1069.9 524.5 1071.5 531.0 1073.1 535.6 1074.7 538.3 1076.3 541.4 1077.9 539.2 1079.5 535.1 1081.1 527.2 1082.7 519.6 1084.3 520.0 1085.9 519.1 1087.5 525.6 1089.1 533.6 1090.7 532.4 1092.3 533.0 1093.9 527.2 1095.5 521.6 1097.1 522.0 1098.7 524.1 1100.3 528.5 1101.9 534.1 1103.5 539.5 1105.1 544.0 1106.7 547.8 1108.3 552.5 1109.9 556.9 1111.5 564.1 1113.1 565.8 1114.7 567.6 1116.3 563.7 1117.9 556.3 1119.5 549.1 1121.1 541.4 1122.7 538.8 1124.3 538.8 1125.9 543.3 1127.5 547.9 1129.1 548.9 1130.7 546.2 1132.3 541.6 1133.9 537.2 1135.5 532.0 1137.1 529.7 1138.7 535.5 1140.3 542.2 1141.9 543.2 1143.5 542.5 1145.1 545.0 1146.7 548.2 1148.3 551.9 1149.9 554.0 1151.5 556.1 1153.1 556.3 1154.7 551.2 1156.3 547.1 1157.9 542.7 1159.5 540.0 1161.1 538.5 1162.7 538.7 1164.3 535.8 1165.9 536.4 1167.5 537.3 1169.1 545.9 1170.7 554.7 1172.3 559.3 1173.9 559.9 1175.5 557.4 1177.1 554.7 1178.7 552.1 1180.3 556.8 1181.9 557.8 1183.5 550.8 1185.1 542.9 1186.7 525.1 1188.3 508.4 1189.9 509.3 1191.5 517.2 1193.1 530.7 1194.7 539.6 1196.3 540.4 1197.9 535.7 1199.5 529.1 1201.1 526.8 1202.7 524.0 1204.3 523.5 1205.9 523.5 1207.5 519.8 1209.1 522.4 1210.7 522.4 1212.3 523.4 1213.9 521.3 1215.5 523.6 1217.1 526.6 1218.7 525.4 1220.3 524.6 1221.9 521.3 1223.5 515.7 1225.1 511.8 1226.7 509.1 1228.3 506.2 1229.9 502.6 1231.5 503.6 1233.1 510.1 1234.7 512.5 1236.3 511.8 1237.9 507.1 1239.5 501.4 1241.1 499.0 1242.7 505.5 1244.3 512.7 1245.9 517.7 1247.5 522.8 1249.1 525.1 1250.7 528.7 1252.3 538.7 1253.9 550.0 1255.5 557.2 1257.1 548.1 1258.7 537.5 1260.3 526.9 1261.9 525.9 1263.5 533.2 1265.1 537.1 1266.7 543.3 1268.3 547.1 1269.9 551.5 1271.5 553.3 1273.1 553.8 1274.7 555.0 1276.3 556.2 1277.9 554.6 1279.5 549.2 1281.1 542.9 1282.7 534.9 1284.3 530.7 1285.9 531.6 1287.5 539.9 1289.1 551.9 1290.7 560.6 1292.3 569.9 1293.9 568.2 1295.5 562.0 1297.1 556.4 1298.7 549.3 1300.3 550.8 1301.9 553.5 1303.5 555.7 1305.1 558.2 1306.7 555.8 1308.3 552.7 1309.9 547.1 1311.5 543.9 1313.1 543.5 1314.7 547.1 1316.3 549.9 1317.9 554.2 1319.5 553.9 1321.1 550.4 1322.7 547.5 1324.3 547.5 1325.9 547.7 1327.5 546.8 1329.1 545.3 1330.7 541.0 1332.3 537.4 1333.9 533.6 1335.5 530.4 1337.1 531.2 1338.7 532.9 1340.3 537.8 1341.9 540.1 1343.5 546.4 1345.1 549.7 1346.7 552.3 1348.3 552.9 1349.9 555.5 1351.5 557.0 1353.1 557.6 1354.7 550.8 1356.3 542.8 1357.9 534.2 1359.5 528.5 1361.1 527.2 1362.7 525.8 1364.3 527.0 1365.9 527.9 1367.5 530.7 1369.1 537.8 1370.7 539.4 1372.3 538.7 1373.9 536.3 1375.5 533.5 1377.1 529.5 1378.7 526.6 1380.3 524.8 1381.9 526.2 1383.5 528.0 1385.1 532.7 1386.7 534.0 1388.3 530.8 1389.9 528.7 1391.5 526.7 1393.1 527.8 1394.7 532.3 1396.3 537.6 1397.9 541.8 1399.5 547.8 1401.1 551.6 1402.7 553.5 1404.3 548.8 1405.9 543.4 1407.5 538.7 1409.1 536.4 1410.7 540.6 1412.3 544.8 1413.9 545.3 1415.5 546.7 1417.1 546.8 1418.7 547.8 1420.3 548.3 1421.9 548.9 1423.5 548.2 1425.1 546.6 1426.7 551.1 1428.3 557.3 1429.9 565.7 1431.5 574.5 1433.1 586.8 1434.7 596.0 1436.3 596.0 1437.9 590.4 1439.3 582.2" fill="none" stroke="#2b3c94" stroke-width="1.5" stroke-linejoin="round"/>
<path d="M830.4 926.3 832.0 922.3 833.6 919.9 835.2 918.6 836.8 917.7 838.4 915.2 840.0 915.2 841.6 916.6 843.2 917.8 844.8 920.5 846.4 922.0 848.0 925.4 849.6 926.3 851.2 925.6 852.8 924.6 854.4 922.2 856.0 918.2 857.6 913.4 859.2 908.9 860.8 902.3 862.4 896.3 864.0 893.7 865.6 893.3 867.2 894.6 868.8 897.3 870.4 895.7 872.0 892.5 873.6 889.0 875.2 885.7 876.8 893.2 878.4 898.9 880.0 909.7 881.6 921.1 883.2 930.7 884.8 940.1 886.4 943.3 888.0 946.5 889.6 940.1 891.2 934.6 892.8 930.4 894.4 924.2 896.0 924.7 897.6 925.8 899.2 929.4 900.8 934.6 902.4 938.7 904.0 941.4 905.6 939.5 907.2 934.7 908.8 927.2 910.4 918.3 912.0 911.4 913.6 905.4 915.2 903.2 916.8 902.2 918.4 901.2 920.0 901.1 921.6 898.9 923.2 899.2 924.8 901.5 926.4 905.2 928.0 902.3 929.6 891.9 931.2 883.7 932.8 882.9 934.4 888.0 936.0 892.4 937.6 895.7 939.2 899.9 940.8 904.1 942.4 907.2 944.0 907.8 945.6 918.3 947.2 930.4 948.8 941.4 950.4 951.0 952.0 955.9 953.6 956.3 955.2 950.3 956.8 942.7 958.4 937.2 960.0 931.1 961.6 928.2 963.2 925.1 964.8 926.5 966.4 929.0 968.0 937.0 969.6 943.8 971.2 939.4 972.8 935.9 974.4 933.1 976.0 931.4 977.6 935.5 979.2 939.6 980.8 937.5 982.4 935.7 984.0 933.2 985.6 930.1 987.2 933.6 988.8 938.4 990.4 942.3 992.0 945.3 993.6 950.1 995.2 953.6 996.8 957.8 998.4 957.6 1000.0 951.6 1001.6 947.9 1003.2 946.9 1004.8 949.6 1006.4 960.2 1008.0 955.7 1009.6 950.5 1011.2 945.4 1012.8 942.7 1014.4 944.3 1016.0 947.0 1017.6 949.7 1019.2 949.8 1020.8 952.1 1022.4 949.9 1024.0 947.7 1025.6 944.7 1027.2 943.4 1028.8 943.2 1030.4 942.7 1032.0 944.5 1033.6 945.6 1035.2 949.3 1036.8 953.1 1038.4 955.0 1040.0 951.9 1041.6 949.3 1043.2 953.5 1044.8 956.2 1046.4 955.0 1048.0 954.5 1049.6 951.8 1051.2 948.6 1052.8 950.4 1054.4 952.8 1056.0 950.6 1057.6 949.0 1059.2 945.7 1060.8 946.5 1062.4 951.4 1064.0 954.6 1065.6 955.7 1067.2 956.5 1068.8 954.0 1070.4 951.7 1072.0 950.3 1073.6 950.4 1075.2 950.5 1076.8 951.3 1078.4 950.4 1080.0 948.8 1081.6 946.2 1083.2 942.2 1084.8 941.0 1086.4 939.9 1088.0 944.3 1089.6 946.8 1091.2 949.7 1092.8 951.4 1094.4 953.2 1096.0 956.5 1097.6 959.5 1099.2 954.0 1100.8 946.6 1102.4 940.3 1104.0 931.7 1105.6 934.1 1107.2 939.1 1108.8 940.1 1110.4 940.4 1112.0 937.6 1113.6 934.9 1115.2 930.0 1116.8 927.2 1118.4 923.2 1120.0 928.1 1121.6 934.9 1123.2 940.5 1124.8 943.9 1126.4 943.5 1128.0 942.3 1129.6 939.4 1131.2 935.4 1132.8 932.6 1134.4 928.4 1136.0 925.0 1137.6 922.3 1139.2 922.0 1140.8 920.4 1142.4 918.5 1144.0 914.1 1145.6 909.2 1147.2 909.0 1148.8 913.1 1150.4 917.9 1152.0 922.3 1153.6 920.1 1155.2 913.3 1156.8 908.3 1158.4 903.7 1160.0 901.6 1161.6 903.1 1163.2 901.3 1164.8 899.2 1166.4 898.9 1168.0 899.3 1169.6 902.4 1171.2 907.1 1172.8 904.3 1174.4 893.8 1176.0 885.1 1177.6 877.4 1179.2 872.7 1180.8 873.3 1182.4 873.6 1184.0 871.1 1185.6 865.2 1187.2 854.9 1188.8 846.8 1190.4 839.6 1192.0 835.4 1193.6 836.6 1195.2 838.8 1196.8 843.5 1198.4 849.3 1200.0 856.7 1201.6 860.4 1203.2 858.1 1204.8 855.8 1206.4 853.7 1208.0 852.2 1209.6 853.3 1211.2 854.1 1212.8 856.7 1214.4 860.3 1216.0 866.2 1217.6 873.0 1219.2 873.7 1220.8 875.1 1222.4 874.7 1224.0 877.3 1225.6 878.1 1227.2 879.9 1228.8 883.7 1230.4 887.5 1232.0 882.7 1233.6 877.0 1235.2 879.6 1236.8 884.3 1238.4 890.5 1240.0 889.8 1241.6 881.6 1243.2 872.1 1244.8 860.9 1246.4 852.3 1248.0 851.1 1249.6 851.3 1251.2 856.2 1252.8 862.0 1254.4 862.1 1256.0 858.9 1257.6 856.7 1259.2 856.0 1260.8 854.7 1262.4 854.0 1264.0 851.1 1265.6 846.8 1267.2 840.5 1268.8 834.6 1270.4 832.2 1272.0 838.4 1273.6 845.7 1275.2 854.3 1276.8 858.3 1278.4 855.6 1280.0 851.8 1281.6 848.2 1283.2 846.1 1284.8 850.3 1286.4 856.8 1288.0 861.5 1289.6 864.7 1291.2 861.9 1292.8 859.4 1294.4 860.7 1296.0 860.6 1297.6 864.2 1299.2 868.2 1300.8 865.2 1302.4 860.4 1304.0 857.6 1305.6 861.6 1307.2 866.6 1308.8 871.5 1310.4 873.1 1312.0 872.6 1313.6 867.2 1315.2 864.2 1316.8 860.8 1318.4 863.2 1320.0 868.3 1321.6 875.0 1323.2 881.1 1324.8 887.0 1326.4 887.5 1328.0 890.8 1329.6 895.4 1331.2 899.3 1332.8 904.9 1334.4 900.2 1336.0 893.6 1337.6 887.1 1339.2 882.0 1340.8 877.7 1342.4 875.1 1344.0 876.4 1345.6 878.6 1347.2 879.4 1348.8 881.2 1350.4 878.0 1352.0 872.8 1353.6 868.7 1355.2 863.8 1356.8 865.0 1358.4 869.4 1360.0 872.6 1361.6 875.0 1363.2 875.5 1364.8 872.2 1366.4 869.7 1368.0 867.7 1369.6 869.2 1371.2 872.4 1372.8 875.5 1374.4 880.0 1376.0 881.2 1377.6 882.5 1379.2 883.8 1380.8 886.9 1382.4 888.6 1384.0 890.2 1385.6 893.1 1387.2 894.0 1388.8 889.3 1390.4 886.1 1392.0 891.1 1393.6 897.6 1395.2 905.1 1396.8 903.3 1398.4 896.0 1400.0 888.7 1401.6 884.7 1403.2 882.4 1404.8 884.2 1406.4 882.6 1408.0 879.9 1409.6 877.2 1411.2 873.6 1412.8 870.5 1414.4 872.0 1416.0 872.4 1417.6 874.4 1419.2 877.5 1420.8 880.3 1422.4 882.3 1424.0 888.6 1425.6 891.2 1427.2 887.8 1428.8 885.4 1430.4 882.4 1432.0 881.8 1433.6 887.5 1435.2 892.9 1436.8 894.7 1438.4 897.2 1440.0 905.6 1440.4 907.0" fill="none" stroke="#2b3c94" stroke-width="1.5" stroke-linejoin="round"/>
<path d="M831.5 1097.7 833.1 1106.9 834.7 1113.6 836.3 1121.3 837.9 1130.9 839.5 1131.7 841.1 1133.6 842.7 1129.5 844.3 1124.9 845.9 1123.9 847.5 1122.6 849.1 1121.2 850.7 1121.7 852.3 1125.1 853.9 1127.9 855.5 1134.4 857.1 1142.2 858.7 1144.5 860.3 1143.6 861.9 1141.7 863.5 1137.8 865.1 1135.1 866.7 1135.8 868.3 1141.3 869.9 1150.8 871.5 1165.8 873.1 1174.7 874.7 1178.9 876.3 1177.0 877.9 1172.3 879.5 1163.5 881.1 1158.2 882.7 1154.0 884.3 1149.6 885.9 1145.8 887.5 1142.7 889.1 1141.3 890.7 1142.3 892.3 1144.1 893.9 1145.9 895.5 1143.7 897.1 1140.7 898.7 1138.2 900.3 1138.1 901.9 1135.1 903.5 1133.7 905.1 1135.7 906.7 1136.2 908.3 1139.7 909.9 1145.5 911.5 1150.2 913.1 1147.0 914.7 1139.9 916.3 1134.6 917.9 1131.2 919.5 1131.7 921.1 1132.9 922.7 1131.5 924.3 1130.9 925.9 1134.1 927.5 1138.9 929.1 1148.9 930.7 1155.9 932.3 1165.6 933.9 1162.9 935.5 1155.9 937.1 1149.5 938.7 1148.3 940.3 1150.8 941.9 1153.4 943.5 1153.8 945.1 1156.4 946.7 1161.4 948.3 1165.2 949.9 1171.9 951.5 1177.2 953.1 1180.0 954.7 1185.0 956.3 1191.2 957.9 1197.7 959.5 1204.0 961.1 1209.2 962.7 1213.0 964.3 1216.2 965.9 1212.8 967.5 1208.9 969.1 1198.7 970.7 1190.4 972.3 1185.6 973.9 1183.4 975.5 1185.0 977.1 1185.6 978.7 1179.8 980.3 1173.3 981.9 1174.0 983.5 1175.0 985.1 1179.3 986.7 1179.6 988.3 1179.3 989.9 1178.3 991.5 1180.2 993.1 1182.3 994.7 1185.1 996.3 1186.8 997.9 1189.2 999.5 1195.3 1001.1 1201.2 1002.7 1212.3 1004.3 1224.9 1005.9 1234.8 1007.5 1239.2 1009.1 1239.1 1010.7 1236.8 1012.3 1235.3 1013.9 1226.8 1015.5 1216.4 1017.1 1207.4 1018.7 1199.1 1020.3 1195.5 1021.9 1197.1 1023.5 1205.8 1025.1 1213.6 1026.7 1218.8 1028.3 1223.0 1029.9 1221.1 1031.5 1220.4 1033.1 1218.9 1034.7 1217.3 1036.3 1221.9 1037.9 1224.6 1039.5 1223.6 1041.1 1222.0 1042.7 1219.4 1044.3 1214.1 1045.9 1215.0 1047.5 1218.0 1049.1 1219.4 1050.7 1222.4 1052.3 1219.1 1053.9 1216.7 1055.5 1221.1 1057.1 1229.3 1058.7 1236.0 1060.3 1243.7 1061.9 1243.8 1063.5 1242.1 1065.1 1240.6 1066.7 1237.6 1068.3 1238.9 1069.9 1240.5 1071.5 1243.4 1073.1 1249.3 1074.7 1251.3 1076.3 1254.0 1077.9 1255.0 1079.5 1255.3 1081.1 1251.2 1082.7 1239.0 1084.3 1230.3 1085.9 1222.0 1087.5 1220.0 1089.1 1221.8 1090.7 1226.3 1092.3 1234.8 1093.9 1239.0 1095.5 1238.4 1097.1 1236.8 1098.7 1234.5 1100.3 1234.0 1101.9 1232.3 1103.5 1230.3 1105.1 1228.5 1106.7 1227.2 1108.3 1228.5 1109.9 1230.5 1111.5 1228.1 1113.1 1227.4 1114.7 1222.2 1116.3 1218.2 1117.9 1216.7 1119.5 1213.4 1121.1 1219.3 1122.7 1227.0 1124.3 1237.8 1125.9 1249.0 1127.5 1253.4 1129.1 1248.0 1130.7 1238.0 1132.3 1231.5 1133.9 1229.0 1135.5 1227.5 1137.1 1226.8 1138.7 1224.1 1140.3 1220.7 1141.9 1217.3 1143.5 1215.6 1145.1 1213.8 1146.7 1210.1 1148.3 1206.1 1149.9 1200.1 1151.5 1202.9 1153.1 1207.0 1154.7 1204.4 1156.3 1200.1 1157.9 1196.2 1159.5 1192.2 1161.1 1200.1 1162.7 1214.9 1164.3 1239.1 1165.9 1238.0 1167.5 1233.4 1169.1 1230.1 1170.7 1232.4 1172.3 1237.7 1173.9 1239.9 1175.5 1235.9 1177.1 1236.8 1178.7 1236.6 1180.3 1239.5 1181.9 1243.1 1183.5 1246.7 1185.1 1247.1 1186.7 1250.7 1188.3 1253.2 1189.9 1257.4 1191.5 1260.7 1193.1 1263.6 1194.7 1259.2 1196.3 1254.1 1197.9 1248.1 1199.5 1242.8 1201.1 1241.3 1202.7 1238.1 1204.3 1233.4 1205.9 1230.7 1207.5 1234.0 1209.1 1236.4 1210.7 1237.9 1212.3 1240.0 1213.9 1239.2 1215.5 1246.0 1217.1 1253.0 1218.7 1259.9 1220.3 1268.0 1221.9 1265.3 1223.5 1259.2 1225.1 1257.8 1226.7 1258.1 1228.3 1259.8 1229.9 1260.5 1231.5 1261.9 1233.1 1264.2 1234.7 1267.4 1236.3 1268.9 1237.9 1270.6 1239.5 1273.4 1241.1 1272.8 1242.7 1269.2 1244.3 1263.2 1245.9 1252.0 1247.5 1248.8 1249.1 1247.0 1250.7 1258.5 1252.3 1271.9 1253.9 1279.4 1255.5 1287.7 1257.1 1282.4 1258.7 1275.2 1260.3 1270.1 1261.9 1264.3 1263.5 1261.3 1265.1 1259.1 1266.7 1262.4 1268.3 1264.5 1269.9 1271.7 1271.5 1276.3 1273.1 1278.9 1274.7 1277.3 1276.3 1275.5 1277.9 1274.6 1279.5 1276.3 1281.1 1279.4 1282.7 1281.2 1284.3 1282.5 1285.0 1282.2" fill="none" stroke="#2b3c94" stroke-width="1.3" stroke-linejoin="round"/>
<path d="M830.4 1480.3 832.0 1489.7 833.6 1495.4 835.2 1495.9 836.8 1489.0 838.4 1479.1 840.0 1470.2 841.6 1463.9 843.2 1466.3 844.8 1470.8 846.4 1473.9 848.0 1465.0 849.6 1455.1 851.2 1446.7 852.8 1441.5 854.4 1440.9 856.0 1438.5 857.6 1433.9 859.2 1428.6 860.8 1423.4 862.4 1418.3 864.0 1414.0 865.6 1419.5 867.2 1424.0 868.8 1428.7 870.4 1434.6 872.0 1428.8 873.6 1423.6 875.2 1421.9 876.8 1425.6 878.4 1429.5 880.0 1436.2 881.6 1444.3 883.2 1446.2 884.8 1448.7 886.4 1452.4 888.0 1456.2 889.6 1464.9 891.2 1474.5 892.8 1481.7 894.4 1481.6 896.0 1473.5 897.6 1467.0 899.2 1460.0 900.8 1456.0 902.4 1453.8 904.0 1456.9 905.6 1459.6 907.2 1467.3 908.8 1475.2 910.4 1474.0 912.0 1470.4 913.6 1465.9 915.2 1461.4 916.8 1457.4 918.4 1453.2 920.0 1449.8 921.6 1452.3 923.2 1453.8 924.8 1463.0 926.4 1463.1 928.0 1463.3 929.6 1457.7 931.2 1451.9 932.8 1456.7 934.4 1459.4 936.0 1452.7 937.6 1446.8 939.2 1442.5 940.8 1454.0 942.4 1465.6 944.0 1476.0 945.6 1484.5 947.2 1488.0 948.8 1484.4 950.4 1478.5 952.0 1466.7 953.6 1456.5 955.2 1449.6 956.8 1442.9 958.4 1441.7 960.0 1444.9 961.6 1448.1 963.2 1447.5 964.8 1448.1 966.4 1448.7 968.0 1449.7 969.6 1452.4 971.2 1453.9 972.8 1447.0 974.4 1439.7 976.0 1429.3 977.6 1422.9 979.2 1424.0 980.8 1430.1 982.4 1438.2 984.0 1443.2 985.6 1448.3 987.2 1445.2 988.8 1440.7 990.4 1435.8 992.0 1432.0 993.6 1431.9 995.2 1434.1 996.8 1438.7 998.4 1444.7 1000.0 1438.6 1001.6 1428.5 1003.2 1417.9 1004.8 1407.7 1006.4 1409.3 1008.0 1414.6 1009.6 1415.6 1011.2 1416.4 1012.8 1417.5 1014.4 1418.3 1016.0 1419.8 1017.6 1423.2 1019.2 1421.6 1020.8 1418.5 1022.4 1415.7 1024.0 1412.7 1025.6 1410.4 1027.2 1411.9 1028.8 1410.1 1030.4 1410.6 1032.0 1410.7 1033.6 1411.4 1035.2 1415.0 1036.8 1422.1 1038.4 1428.0 1040.0 1433.3 1041.6 1437.7 1043.2 1441.1 1044.8 1444.5 1046.4 1445.1 1048.0 1446.1 1049.6 1442.3 1051.2 1439.1 1052.8 1433.1 1054.4 1426.3 1056.0 1423.8 1057.6 1420.6 1059.2 1418.2 1060.8 1415.0 1062.4 1409.4 1064.0 1402.0 1065.6 1404.8 1067.2 1406.6 1068.8 1412.6 1070.4 1418.9 1072.0 1422.9 1073.6 1428.4 1075.2 1431.9 1076.8 1433.4 1078.4 1433.7 1080.0 1432.5 1081.6 1429.0 1083.2 1424.4 1084.8 1419.7 1086.4 1416.5 1088.0 1413.2 1089.6 1410.0 1091.2 1408.5 1092.8 1408.2 1094.4 1414.5 1096.0 1417.0 1097.6 1415.5 1099.2 1413.6 1100.8 1411.6 1102.4 1411.5 1104.0 1415.5 1105.6 1418.6 1107.2 1419.2 1108.8 1421.6 1110.4 1425.6 1112.0 1429.3 1113.6 1425.1 1115.2 1423.3 1116.8 1424.8 1118.4 1426.3 1120.0 1430.8 1121.6 1436.6 1123.2 1439.7 1124.8 1443.7 1126.4 1443.0 1128.0 1441.9 1129.6 1441.0 1131.2 1439.9 1132.8 1438.8 1134.4 1437.4 1136.0 1435.8 1137.6 1436.2 1139.2 1435.2 1140.8 1433.1 1142.4 1433.5 1144.0 1434.3 1145.6 1434.8 1147.2 1434.6 1148.8 1432.0 1150.4 1426.6 1152.0 1423.0 1153.6 1422.3 1155.2 1421.8 1156.8 1420.5 1158.4 1416.9 1160.0 1412.7 1161.6 1412.7 1163.2 1416.1 1164.8 1417.9 1166.4 1419.9 1168.0 1421.5 1169.6 1415.3 1171.2 1412.1 1172.8 1414.5 1174.4 1417.9 1176.0 1423.5 1177.6 1426.6 1179.2 1435.8 1180.8 1441.7 1182.4 1450.5 1184.0 1446.8 1185.6 1443.7 1187.2 1438.0 1188.8 1430.8 1190.4 1435.2 1192.0 1438.4 1193.6 1445.2 1195.2 1450.5 1196.8 1453.0 1198.4 1450.9 1200.0 1449.3 1201.6 1447.9 1203.2 1446.0 1204.8 1441.2 1206.4 1435.9 1208.0 1426.0 1209.6 1419.5 1211.2 1415.2 1212.8 1411.5 1214.4 1410.8 1216.0 1410.9 1217.6 1413.3 1219.2 1416.7 1220.8 1419.1 1222.4 1423.0 1224.0 1427.7 1225.6 1431.4 1227.2 1435.7 1228.8 1441.8 1230.4 1452.3 1232.0 1460.5 1233.6 1463.3 1235.2 1450.1 1236.8 1440.3 1238.4 1433.6 1240.0 1432.6 1241.6 1434.8 1243.2 1437.4 1244.8 1437.5 1246.4 1441.2 1248.0 1444.6 1249.6 1448.4 1251.2 1454.3 1252.8 1452.8 1254.4 1451.7 1256.0 1448.4 1257.6 1443.6 1259.2 1451.3 1260.8 1455.6 1262.4 1459.7 1264.0 1460.0 1265.6 1460.2 1267.2 1460.0 1268.8 1460.9 1270.4 1463.6 1272.0 1464.2 1273.6 1466.7 1275.2 1467.3 1276.8 1468.3 1278.4 1463.4 1280.0 1460.7 1281.6 1454.9 1283.2 1453.0 1284.8 1456.0 1286.4 1460.6 1288.0 1466.8 1289.6 1471.5 1291.2 1474.6 1292.8 1469.4 1294.4 1465.3 1296.0 1461.5 1297.6 1457.2 1299.2 1449.9 1300.8 1444.0 1302.4 1441.7 1304.0 1440.7 1305.6 1443.4 1307.2 1445.5 1308.8 1446.3 1310.4 1437.7 1312.0 1433.0 1313.6 1428.3 1315.0 1424.2" fill="none" stroke="#2b3c94" stroke-width="1.3" stroke-linejoin="round"/>
<path d="M154.3 95.4H784.7V383.6" fill="none" stroke="#000" stroke-width="1.6"/>
<path d="M162.3 95.4V383.6M154.3 376.6H784.7" fill="none" stroke="#000" stroke-width="2"/>
<path d="M158.3 118.8H162.3M154.3 142.3H162.3M158.3 165.7H162.3M154.3 189.1H162.3M158.3 212.6H162.3M154.3 236.0H162.3M158.3 259.4H162.3M154.3 282.9H162.3M158.3 306.3H162.3M154.3 329.7H162.3M158.3 353.2H162.3M224.5 376.6V380.6M286.8 376.6V383.6M349.0 376.6V380.6M411.3 376.6V383.6M473.5 376.6V380.6M535.7 376.6V383.6M598.0 376.6V380.6M660.2 376.6V383.6M722.5 376.6V380.6" fill="none" stroke="#000" stroke-width="1.8"/>
<text x="152.8" y="106.9" font-size="28" text-anchor="end" >25</text>
<text x="152.0" y="152.8" font-size="28" text-anchor="end" >20</text>
<text x="150.0" y="201.0" font-size="28" text-anchor="end" >15</text>
<text x="149.8" y="247.1" font-size="28" text-anchor="end" >10</text>
<text x="146.2" y="295.4" font-size="28" text-anchor="end" >5</text>
<text x="145.8" y="340.3" font-size="28" text-anchor="end" >0</text>
<text x="145.4" y="384.3" font-size="28" text-anchor="end" >-5</text>
<path d="M156.2 411.0H786.1V698.3" fill="none" stroke="#000" stroke-width="1.6"/>
<path d="M164.2 411.0V698.3M156.2 691.3H786.1" fill="none" stroke="#000" stroke-width="2"/>
<path d="M160.2 434.4H164.2M156.2 457.7H164.2M160.2 481.1H164.2M156.2 504.4H164.2M160.2 527.8H164.2M156.2 551.1H164.2M160.2 574.5H164.2M156.2 597.9H164.2M160.2 621.2H164.2M156.2 644.6H164.2M160.2 667.9H164.2M226.4 691.3V695.3M288.6 691.3V698.3M350.8 691.3V695.3M413.0 691.3V698.3M475.2 691.3V695.3M537.3 691.3V698.3M599.5 691.3V695.3M661.7 691.3V698.3M723.9 691.3V695.3" fill="none" stroke="#000" stroke-width="1.8"/>
<text x="152.8" y="420.0" font-size="28" text-anchor="end" >25</text>
<text x="150.7" y="464.9" font-size="28" text-anchor="end" >20</text>
<text x="149.5" y="514.8" font-size="28" text-anchor="end" >15</text>
<text x="149.0" y="559.9" font-size="28" text-anchor="end" >10</text>
<text x="145.9" y="608.6" font-size="28" text-anchor="end" >5</text>
<text x="145.0" y="653.2" font-size="28" text-anchor="end" >0</text>
<text x="145.0" y="697.5" font-size="28" text-anchor="end" >-5</text>
<path d="M156.2 726.2H785.7V1013.7" fill="none" stroke="#000" stroke-width="1.6"/>
<path d="M164.2 726.2V1013.7M156.2 1006.7H785.7" fill="none" stroke="#000" stroke-width="2"/>
<path d="M160.2 749.6H164.2M156.2 773.0H164.2M160.2 796.3H164.2M156.2 819.7H164.2M160.2 843.1H164.2M156.2 866.5H164.2M160.2 889.8H164.2M156.2 913.2H164.2M160.2 936.6H164.2M156.2 960.0H164.2M160.2 983.3H164.2M226.3 1006.7V1010.7M288.5 1006.7V1013.7M350.6 1006.7V1010.7M412.8 1006.7V1013.7M474.9 1006.7V1010.7M537.1 1006.7V1013.7M599.2 1006.7V1010.7M661.4 1006.7V1013.7M723.5 1006.7V1010.7" fill="none" stroke="#000" stroke-width="1.8"/>
<text x="152.8" y="736.2" font-size="28" text-anchor="end" >25</text>
<text x="151.8" y="782.8" font-size="28" text-anchor="end" >20</text>
<text x="150.0" y="832.6" font-size="28" text-anchor="end" >15</text>
<text x="150.0" y="878.9" font-size="28" text-anchor="end" >10</text>
<text x="146.2" y="926.2" font-size="28" text-anchor="end" >5</text>
<text x="145.5" y="969.7" font-size="28" text-anchor="end" >0</text>
<text x="145.9" y="1013.7" font-size="28" text-anchor="end" >-5</text>
<path d="M155.4 1048.3H785.1V1337.0" fill="none" stroke="#000" stroke-width="1.6"/>
<path d="M163.4 1048.3V1337.0M155.4 1330.0H785.1" fill="none" stroke="#000" stroke-width="2"/>
<path d="M159.4 1071.8H163.4M155.4 1095.2H163.4M159.4 1118.7H163.4M155.4 1142.2H163.4M159.4 1165.7H163.4M155.4 1189.2H163.4M159.4 1212.6H163.4M155.4 1236.1H163.4M159.4 1259.6H163.4M155.4 1283.0H163.4M159.4 1306.5H163.4M225.6 1330.0V1334.0M287.7 1330.0V1337.0M349.9 1330.0V1334.0M412.1 1330.0V1337.0M474.2 1330.0V1334.0M536.4 1330.0V1337.0M598.6 1330.0V1334.0M660.8 1330.0V1337.0M722.9 1330.0V1334.0" fill="none" stroke="#000" stroke-width="1.8"/>
<text x="146.5" y="1059.5" font-size="28" text-anchor="end" >25</text>
<text x="144.2" y="1105.6" font-size="28" text-anchor="end" >20</text>
<text x="143.6" y="1153.2" font-size="28" text-anchor="end" >15</text>
<text x="143.6" y="1200.2" font-size="28" text-anchor="end" >10</text>
<text x="140.6" y="1247.1" font-size="28" text-anchor="end" >5</text>
<text x="139.4" y="1291.8" font-size="28" text-anchor="end" >0</text>
<text x="139.9" y="1336.8" font-size="28" text-anchor="end" >-5</text>
<path d="M153.7 1376.5H786.0V1665.5" fill="none" stroke="#000" stroke-width="1.6"/>
<path d="M161.7 1376.5V1665.5M153.7 1658.5H786.0" fill="none" stroke="#000" stroke-width="2"/>
<path d="M157.7 1400.0H161.7M153.7 1423.5H161.7M157.7 1447.0H161.7M153.7 1470.5H161.7M157.7 1494.0H161.7M153.7 1517.5H161.7M157.7 1541.0H161.7M153.7 1564.5H161.7M157.7 1588.0H161.7M153.7 1611.5H161.7M157.7 1635.0H161.7M224.1 1658.5V1662.5M286.6 1658.5V1665.5M349.0 1658.5V1662.5M411.4 1658.5V1665.5M473.8 1658.5V1662.5M536.3 1658.5V1665.5M598.7 1658.5V1662.5M661.1 1658.5V1665.5M723.6 1658.5V1662.5" fill="none" stroke="#000" stroke-width="1.8"/>
<text x="146.5" y="1402.5" font-size="28" text-anchor="end" >25</text>
<text x="144.2" y="1434.0" font-size="28" text-anchor="end" >20</text>
<text x="143.6" y="1481.5" font-size="28" text-anchor="end" >15</text>
<text x="143.6" y="1528.5" font-size="28" text-anchor="end" >10</text>
<text x="140.6" y="1575.5" font-size="28" text-anchor="end" >5</text>
<text x="139.6" y="1621.2" font-size="28" text-anchor="end" >0</text>
<text x="139.6" y="1666.1" font-size="28" text-anchor="end" >-5</text>
<path d="M819.5 95.5H1450.0V383.6" fill="none" stroke="#000" stroke-width="1.6"/>
<path d="M827.5 95.5V383.6M819.5 376.6H1450.0" fill="none" stroke="#000" stroke-width="2"/>
<path d="M823.5 118.9H827.5M819.5 142.3H827.5M823.5 165.8H827.5M819.5 189.2H827.5M823.5 212.6H827.5M819.5 236.1H827.5M823.5 259.5H827.5M819.5 282.9H827.5M823.5 306.3H827.5M819.5 329.8H827.5M823.5 353.2H827.5M889.8 376.6V380.6M952.0 376.6V383.6M1014.2 376.6V380.6M1076.5 376.6V383.6M1138.8 376.6V380.6M1201.0 376.6V383.6M1263.2 376.6V380.6M1325.5 376.6V383.6M1387.8 376.6V380.6" fill="none" stroke="#000" stroke-width="1.8"/>
<path d="M819.2 411.3H1449.5V699.0" fill="none" stroke="#000" stroke-width="1.6"/>
<path d="M827.2 411.3V699.0M819.2 692.0H1449.5" fill="none" stroke="#000" stroke-width="2"/>
<path d="M823.2 434.7H827.2M819.2 458.1H827.2M823.2 481.5H827.2M819.2 504.9H827.2M823.2 528.3H827.2M819.2 551.6H827.2M823.2 575.0H827.2M819.2 598.4H827.2M823.2 621.8H827.2M819.2 645.2H827.2M823.2 668.6H827.2M889.4 692.0V696.0M951.7 692.0V699.0M1013.9 692.0V696.0M1076.1 692.0V699.0M1138.3 692.0V696.0M1200.6 692.0V699.0M1262.8 692.0V696.0M1325.0 692.0V699.0M1387.3 692.0V696.0" fill="none" stroke="#000" stroke-width="1.8"/>
<path d="M819.4 725.6H1450.5V1014.0" fill="none" stroke="#000" stroke-width="1.6"/>
<path d="M827.4 725.6V1014.0M819.4 1007.0H1450.5" fill="none" stroke="#000" stroke-width="2"/>
<path d="M823.4 749.1H827.4M819.4 772.5H827.4M823.4 796.0H827.4M819.4 819.4H827.4M823.4 842.9H827.4M819.4 866.3H827.4M823.4 889.8H827.4M819.4 913.2H827.4M823.4 936.6H827.4M819.4 960.1H827.4M823.4 983.5H827.4M889.7 1007.0V1011.0M952.0 1007.0V1014.0M1014.3 1007.0V1011.0M1076.6 1007.0V1014.0M1139.0 1007.0V1011.0M1201.3 1007.0V1014.0M1263.6 1007.0V1011.0M1325.9 1007.0V1014.0M1388.2 1007.0V1011.0" fill="none" stroke="#000" stroke-width="1.8"/>
<path d="M820.5 1047.9H1450.5V1336.3" fill="none" stroke="#000" stroke-width="1.6"/>
<path d="M828.5 1047.9V1336.3M820.5 1329.3H1450.5" fill="none" stroke="#000" stroke-width="2"/>
<path d="M824.5 1071.4H828.5M820.5 1094.8H828.5M824.5 1118.2H828.5M820.5 1141.7H828.5M824.5 1165.2H828.5M820.5 1188.6H828.5M824.5 1212.0H828.5M820.5 1235.5H828.5M824.5 1259.0H828.5M820.5 1282.4H828.5M824.5 1305.8H828.5M890.7 1329.3V1333.3M952.9 1329.3V1336.3M1015.1 1329.3V1333.3M1077.3 1329.3V1336.3M1139.5 1329.3V1333.3M1201.7 1329.3V1336.3M1263.9 1329.3V1333.3M1326.1 1329.3V1336.3M1388.3 1329.3V1333.3" fill="none" stroke="#000" stroke-width="1.8"/>
<path d="M818.0 1378.6H1450.2V1667.8" fill="none" stroke="#000" stroke-width="1.6"/>
<path d="M826.0 1378.6V1667.8M818.0 1660.8H1450.2" fill="none" stroke="#000" stroke-width="2"/>
<path d="M822.0 1402.1H826.0M818.0 1425.6H826.0M822.0 1449.1H826.0M818.0 1472.7H826.0M822.0 1496.2H826.0M818.0 1519.7H826.0M822.0 1543.2H826.0M818.0 1566.7H826.0M822.0 1590.2H826.0M818.0 1613.8H826.0M822.0 1637.3H826.0M888.4 1660.8V1664.8M950.8 1660.8V1667.8M1013.3 1660.8V1664.8M1075.7 1660.8V1667.8M1138.1 1660.8V1664.8M1200.5 1660.8V1667.8M1262.9 1660.8V1664.8M1325.4 1660.8V1667.8M1387.8 1660.8V1664.8" fill="none" stroke="#000" stroke-width="1.8"/>
<text x="158.8" y="1694.5" font-size="27.5" text-anchor="middle" >0</text>
<text x="282.6" y="1694.5" font-size="27.5" text-anchor="middle" >40</text>
<text x="409.0" y="1694.5" font-size="27.5" text-anchor="middle" >80</text>
<text x="531.4" y="1694.5" font-size="27.5" text-anchor="middle" >120</text>
<text x="658.0" y="1694.5" font-size="27.5" text-anchor="middle" >160</text>
<text x="777.5" y="1696.5" font-size="27.5" text-anchor="middle" >200</text>
<text x="825.6" y="1696.5" font-size="27.5" text-anchor="middle" >0</text>
<text x="952.3" y="1696.5" font-size="27.5" text-anchor="middle" >40</text>
<text x="1079.8" y="1696.5" font-size="27.5" text-anchor="middle" >80</text>
<text x="1202.4" y="1696.5" font-size="27.5" text-anchor="middle" >120</text>
<text x="1329.0" y="1696.5" font-size="27.5" text-anchor="middle" >160</text>
<text x="1442.4" y="1696.5" font-size="27.5" text-anchor="middle" >200</text>
<text x="480.5" y="1736.6" font-size="28.8" text-anchor="middle" >Time (ns)</text>
<text x="1151.4" y="1738.6" font-size="28.8" text-anchor="middle" >Time (ns)</text>
<path d="M75.2 106.5V616.3M75.2 1055.1V1666" stroke="#000" stroke-width="2.3"/>
<text transform="translate(85.8 1011.5) rotate(-90)" font-size="31.8">Interdomain Twist Angle (°)</text>
<text x="1.3" y="1801.6" font-size="49.5" text-anchor="start" font-weight="bold" >b.</text>
<path d="M182.2 1924.0V2277.9M171.4 2277.9H710.5" stroke="#000" stroke-width="4" fill="none"/>
<path d="M171.4 2277.9H182.2M171.4 2207.5H182.2M171.4 2137.2H182.2M171.4 2066.8H182.2M171.4 1996.4H182.2M171.4 1926.0H182.2M210.4 2277.9V2288.7M253.2 2277.9V2288.7M296.1 2277.9V2288.7M338.9 2277.9V2288.7M381.7 2277.9V2288.7M424.5 2277.9V2288.7M467.4 2277.9V2288.7M510.2 2277.9V2288.7M553.0 2277.9V2288.7M595.9 2277.9V2288.7M638.7 2277.9V2288.7M681.5 2277.9V2288.7" stroke="#000" stroke-width="4" fill="none"/>
<text x="164.0" y="2286.0" font-size="28.8" text-anchor="end" >0</text>
<text x="164.0" y="2215.6" font-size="28.8" text-anchor="end" >25</text>
<text x="164.0" y="2145.3" font-size="28.8" text-anchor="end" >50</text>
<text x="164.0" y="2074.9" font-size="28.8" text-anchor="end" >75</text>
<text x="164.0" y="2004.5" font-size="28.8" text-anchor="end" >100</text>
<text x="164.0" y="1934.1" font-size="28.8" text-anchor="end" >125</text>
<text transform="translate(221.0 2298.3) rotate(-90)" font-size="30" text-anchor="end">Ctl</text>
<text transform="translate(263.8 2299.3) rotate(-90)" font-size="30" text-anchor="end">M2R</text>
<text transform="translate(303.2 2301.0) rotate(-90)" font-size="30" text-anchor="end">M2Rpp</text>
<text transform="translate(349.5 2298.3) rotate(-90)" font-size="30" text-anchor="end">Ctl</text>
<text transform="translate(392.3 2299.3) rotate(-90)" font-size="30" text-anchor="end">M2R</text>
<text transform="translate(431.6 2301.0) rotate(-90)" font-size="30" text-anchor="end">M2Rpp</text>
<text transform="translate(478.0 2298.3) rotate(-90)" font-size="30" text-anchor="end">Ctl</text>
<text transform="translate(520.8 2299.3) rotate(-90)" font-size="30" text-anchor="end">M2R</text>
<text transform="translate(560.1 2301.0) rotate(-90)" font-size="30" text-anchor="end">M2Rpp</text>
<text transform="translate(606.5 2298.3) rotate(-90)" font-size="30" text-anchor="end">Ctl</text>
<text transform="translate(649.3 2299.3) rotate(-90)" font-size="30" text-anchor="end">M2R</text>
<text transform="translate(688.6 2301.0) rotate(-90)" font-size="30" text-anchor="end">M2Rpp</text>
<path d="M188.7 2418.5H303.8M328 2418.5H442.8M452.9 2418.5H567.2M581.8 2418.5H696.9M190.6 2482.3H439.8M447.3 2482.3H696.2" stroke="#000" stroke-width="4.3" fill="none"/>
<text x="243.8" y="2455.5" font-size="29" text-anchor="middle" >Iperoxo</text>
<text x="383.0" y="2455.5" font-size="29" text-anchor="middle" >Atropine</text>
<text x="509.2" y="2455.5" font-size="29" text-anchor="middle" >Iperoxo</text>
<text x="636.8" y="2455.5" font-size="29" text-anchor="middle" >Atropine</text>
<text x="330.7" y="2517.5" font-size="28.5" text-anchor="middle" >DDM</text>
<text x="553.0" y="2517.5" font-size="28.5" text-anchor="middle" >HDL</text>
<text transform="translate(100.6 2103.0) rotate(-90)" font-size="29.7" text-anchor="middle">Relative Area Under the Curve</text>
<circle cx="207.7" cy="2055.6" r="7.1" fill="none" stroke="#000" stroke-width="2.3"/>
<circle cx="211.2" cy="2064.5" r="7.1" fill="none" stroke="#000" stroke-width="2.3"/>
<circle cx="214.7" cy="2059.2" r="7.1" fill="none" stroke="#000" stroke-width="2.3"/>
<path d="M196.0 2060.0H224.2" stroke="#000" stroke-width="4.6"/>
<circle cx="253.6" cy="2018.5" r="7.1" fill="none" stroke="#000" stroke-width="2.3"/>
<circle cx="246.5" cy="2080.4" r="7.1" fill="none" stroke="#000" stroke-width="2.3"/>
<circle cx="260.6" cy="2068.0" r="7.1" fill="none" stroke="#000" stroke-width="2.3"/>
<path d="M253.6 2036.7V2075.7M246.1 2036.7H261.1M246.1 2075.7H261.1" stroke="#000" stroke-width="2" fill="none"/>
<path d="M239.5 2056.2H267.7" stroke="#000" stroke-width="4.6"/>
<circle cx="296.0" cy="2029.1" r="7.1" fill="none" stroke="#000" stroke-width="2.3"/>
<circle cx="289.3" cy="2052.1" r="7.1" fill="none" stroke="#000" stroke-width="2.3"/>
<circle cx="303.0" cy="2041.5" r="7.1" fill="none" stroke="#000" stroke-width="2.3"/>
<path d="M296.0 2034.4V2047.8M288.5 2034.4H303.5M288.5 2047.8H303.5" stroke="#000" stroke-width="2" fill="none"/>
<path d="M281.9 2041.2H310.1" stroke="#000" stroke-width="4.6"/>
<circle cx="335.7" cy="2050.3" r="7.1" fill="none" stroke="#000" stroke-width="2.3"/>
<circle cx="338.4" cy="2061.8" r="7.1" fill="none" stroke="#000" stroke-width="2.3"/>
<circle cx="341.0" cy="2062.7" r="7.1" fill="none" stroke="#000" stroke-width="2.3"/>
<path d="M339.0 2055.0V2061.5M331.5 2055.0H346.5M331.5 2061.5H346.5" stroke="#000" stroke-width="2" fill="none"/>
<path d="M324.9 2058.3H353.1" stroke="#000" stroke-width="4.6"/>
<circle cx="378.1" cy="2072.4" r="7.1" fill="none" stroke="#000" stroke-width="2.3"/>
<circle cx="381.6" cy="2080.4" r="7.1" fill="none" stroke="#000" stroke-width="2.3"/>
<circle cx="385.2" cy="2075.1" r="7.1" fill="none" stroke="#000" stroke-width="2.3"/>
<path d="M367.6 2075.1H395.8" stroke="#000" stroke-width="4.6"/>
<circle cx="421.4" cy="2043.3" r="7.1" fill="none" stroke="#000" stroke-width="2.3"/>
<circle cx="424.0" cy="2062.7" r="7.1" fill="none" stroke="#000" stroke-width="2.3"/>
<circle cx="427.5" cy="2057.4" r="7.1" fill="none" stroke="#000" stroke-width="2.3"/>
<path d="M424.6 2047.8V2060.0M417.1 2047.8H432.1M417.1 2060.0H432.1" stroke="#000" stroke-width="2" fill="none"/>
<path d="M410.5 2053.9H438.7" stroke="#000" stroke-width="4.6"/>
<circle cx="463.2" cy="2056.9" r="7.1" fill="none" stroke="#000" stroke-width="2.3"/>
<circle cx="466.8" cy="2061.3" r="7.1" fill="none" stroke="#000" stroke-width="2.3"/>
<circle cx="471.2" cy="2059.5" r="7.1" fill="none" stroke="#000" stroke-width="2.3"/>
<path d="M453.2 2059.2H481.4" stroke="#000" stroke-width="4.6"/>
<circle cx="510.0" cy="2060.4" r="7.1" fill="none" stroke="#000" stroke-width="2.3"/>
<circle cx="517.1" cy="2072.8" r="7.1" fill="none" stroke="#000" stroke-width="2.3"/>
<circle cx="502.6" cy="2083.4" r="7.1" fill="none" stroke="#000" stroke-width="2.3"/>
<path d="M510.2 2065.0V2079.4M502.7 2065.0H517.7M502.7 2079.4H517.7" stroke="#000" stroke-width="2" fill="none"/>
<path d="M496.1 2072.2H524.3" stroke="#000" stroke-width="4.6"/>
<circle cx="548.9" cy="1963.3" r="7.1" fill="none" stroke="#000" stroke-width="2.3"/>
<circle cx="553.3" cy="1980.0" r="7.1" fill="none" stroke="#000" stroke-width="2.3"/>
<circle cx="556.0" cy="1975.6" r="7.1" fill="none" stroke="#000" stroke-width="2.3"/>
<path d="M553.0 1968.5V1977.5M545.5 1968.5H560.5M545.5 1977.5H560.5" stroke="#000" stroke-width="2" fill="none"/>
<path d="M538.9 1973.0H567.1" stroke="#000" stroke-width="4.6"/>
<circle cx="592.2" cy="2059.5" r="7.1" fill="none" stroke="#000" stroke-width="2.3"/>
<circle cx="596.6" cy="2063.0" r="7.1" fill="none" stroke="#000" stroke-width="2.3"/>
<circle cx="601.0" cy="2061.3" r="7.1" fill="none" stroke="#000" stroke-width="2.3"/>
<path d="M581.6 2061.3H609.8" stroke="#000" stroke-width="4.6"/>
<circle cx="634.6" cy="2088.7" r="7.1" fill="none" stroke="#000" stroke-width="2.3"/>
<circle cx="639.0" cy="2099.3" r="7.1" fill="none" stroke="#000" stroke-width="2.3"/>
<circle cx="642.5" cy="2094.8" r="7.1" fill="none" stroke="#000" stroke-width="2.3"/>
<path d="M624.7 2094.0H652.9" stroke="#000" stroke-width="4.6"/>
<circle cx="677.8" cy="1959.7" r="7.1" fill="none" stroke="#000" stroke-width="2.3"/>
<circle cx="681.4" cy="1973.0" r="7.1" fill="none" stroke="#000" stroke-width="2.3"/>
<circle cx="684.9" cy="1967.7" r="7.1" fill="none" stroke="#000" stroke-width="2.3"/>
<path d="M681.3 1963.0V1970.6M673.8 1963.0H688.8M673.8 1970.6H688.8" stroke="#000" stroke-width="2" fill="none"/>
<path d="M667.2 1966.8H695.4" stroke="#000" stroke-width="4.6"/>
<path d="M551.6 1934.7L551.6 1927.7M551.6 1934.7L558.3 1932.5M551.6 1934.7L555.7 1940.4M551.6 1934.7L547.5 1940.4M551.6 1934.7L544.9 1932.5" stroke="#000" stroke-width="2.9" fill="none"/>
<path d="M679.6 1932.6L679.6 1925.6M679.6 1932.6L686.3 1930.4M679.6 1932.6L683.7 1938.3M679.6 1932.6L675.5 1938.3M679.6 1932.6L672.9 1930.4" stroke="#000" stroke-width="2.9" fill="none"/>
<text x="745.5" y="1801.6" font-size="49.5" text-anchor="start" font-weight="bold" >c.</text>
<path d="M936.8 1923.9V2280.5M925.8 2280.5H1469" stroke="#000" stroke-width="4.2" fill="none"/>
<path d="M925.8 2280.5H936.8M925.8 2191.9H936.8M925.8 2103.2H936.8M925.8 2014.6H936.8M925.8 1926.0H936.8M992.2 2280.5V2292M1076.3 2280.5V2292M1160.6 2280.5V2292M1244.9 2280.5V2292M1328.9 2280.5V2292M1413.0 2280.5V2292" stroke="#000" stroke-width="4.2" fill="none"/>
<text x="916.8" y="2291.6" font-size="28.8" text-anchor="end" >0</text>
<text x="916.8" y="2203.0" font-size="28.8" text-anchor="end" >50</text>
<text x="916.8" y="2114.4" font-size="28.8" text-anchor="end" >100</text>
<text x="916.8" y="2025.7" font-size="28.8" text-anchor="end" >150</text>
<text x="916.8" y="1937.1" font-size="28.8" text-anchor="end" >200</text>
<text transform="translate(1002.3 2300.4) rotate(-90)" font-size="30" text-anchor="end">Ctl</text>
<text transform="translate(1083.9 2301.8) rotate(-90)" font-size="30" text-anchor="end">M2R</text>
<text transform="translate(1164.2 2304.0) rotate(-90)" font-size="30" text-anchor="end">M2Rpp</text>
<text transform="translate(1255.0 2300.4) rotate(-90)" font-size="30" text-anchor="end">Ctl</text>
<text transform="translate(1336.5 2301.8) rotate(-90)" font-size="30" text-anchor="end">M2R</text>
<text transform="translate(1416.6 2304.0) rotate(-90)" font-size="30" text-anchor="end">M2Rpp</text>
<path d="M939.5 2414.6H1187.5M1216 2414.6H1464.7" stroke="#000" stroke-width="4.5" fill="none"/>
<text x="1071.5" y="2454.8" font-size="29" text-anchor="middle" >βarr1 WT</text>
<text x="1337.0" y="2454.8" font-size="29" text-anchor="middle" >βarr1 3xD</text>
<text transform="translate(850.1 2099.0) rotate(-90)" font-size="29.7" text-anchor="middle">Relative Area Under the Curve</text>
<circle cx="975.4" cy="2142.5" r="7.0" fill="none" stroke="#000" stroke-width="2.3"/>
<circle cx="992.7" cy="2147.1" r="7.0" fill="none" stroke="#000" stroke-width="2.3"/>
<circle cx="1010.0" cy="2145.6" r="7.0" fill="none" stroke="#000" stroke-width="2.3"/>
<path d="M965.0 2145.6H1020.0" stroke="#000" stroke-width="4.3"/>
<circle cx="1059.1" cy="2147.7" r="7.0" fill="none" stroke="#000" stroke-width="2.3"/>
<circle cx="1076.5" cy="2166.2" r="7.0" fill="none" stroke="#000" stroke-width="2.3"/>
<circle cx="1094.4" cy="2163.3" r="7.0" fill="none" stroke="#000" stroke-width="2.3"/>
<path d="M1076.6 2152.9V2163.9M1062.4 2152.9H1090.8M1062.4 2163.9H1090.8" stroke="#000" stroke-width="2" fill="none"/>
<path d="M1049.1 2158.7H1104.1" stroke="#000" stroke-width="4.3"/>
<circle cx="1160.8" cy="1962.7" r="7.0" fill="none" stroke="#000" stroke-width="2.3"/>
<circle cx="1150.1" cy="2049.1" r="7.0" fill="none" stroke="#000" stroke-width="2.3"/>
<circle cx="1171.2" cy="2034.7" r="7.0" fill="none" stroke="#000" stroke-width="2.3"/>
<path d="M1160.8 1988.7V2042.0M1146.6 1988.7H1175.0M1146.6 2042.0H1175.0" stroke="#000" stroke-width="2" fill="none"/>
<path d="M1133.3 2015.6H1188.3" stroke="#000" stroke-width="4.3"/>
<circle cx="1227.9" cy="2143.6" r="7.0" fill="none" stroke="#000" stroke-width="2.3"/>
<circle cx="1244.7" cy="2146.2" r="7.0" fill="none" stroke="#000" stroke-width="2.3"/>
<circle cx="1262.7" cy="2144.8" r="7.0" fill="none" stroke="#000" stroke-width="2.3"/>
<path d="M1217.4 2144.8H1272.4" stroke="#000" stroke-width="4.3"/>
<circle cx="1311.8" cy="2151.0" r="7.0" fill="none" stroke="#000" stroke-width="2.3"/>
<circle cx="1329.0" cy="2156.3" r="7.0" fill="none" stroke="#000" stroke-width="2.3"/>
<circle cx="1346.6" cy="2156.0" r="7.0" fill="none" stroke="#000" stroke-width="2.3"/>
<path d="M1301.7 2154.8H1356.7" stroke="#000" stroke-width="4.3"/>
<circle cx="1395.8" cy="2095.3" r="7.0" fill="none" stroke="#000" stroke-width="2.3"/>
<circle cx="1413.0" cy="2109.0" r="7.0" fill="none" stroke="#000" stroke-width="2.3"/>
<circle cx="1430.6" cy="2105.0" r="7.0" fill="none" stroke="#000" stroke-width="2.3"/>
<path d="M1413.3 2100.1V2106.6M1399.1 2100.1H1427.5M1399.1 2106.6H1427.5" stroke="#000" stroke-width="2" fill="none"/>
<path d="M1385.8 2103.5H1440.8" stroke="#000" stroke-width="4.3"/>
<path d="M1162.5 1930.6L1162.5 1923.6M1162.5 1930.6L1169.2 1928.4M1162.5 1930.6L1166.6 1936.3M1162.5 1930.6L1158.4 1936.3M1162.5 1930.6L1155.8 1928.4" stroke="#000" stroke-width="2.9" fill="none"/>
</svg></body></html>
